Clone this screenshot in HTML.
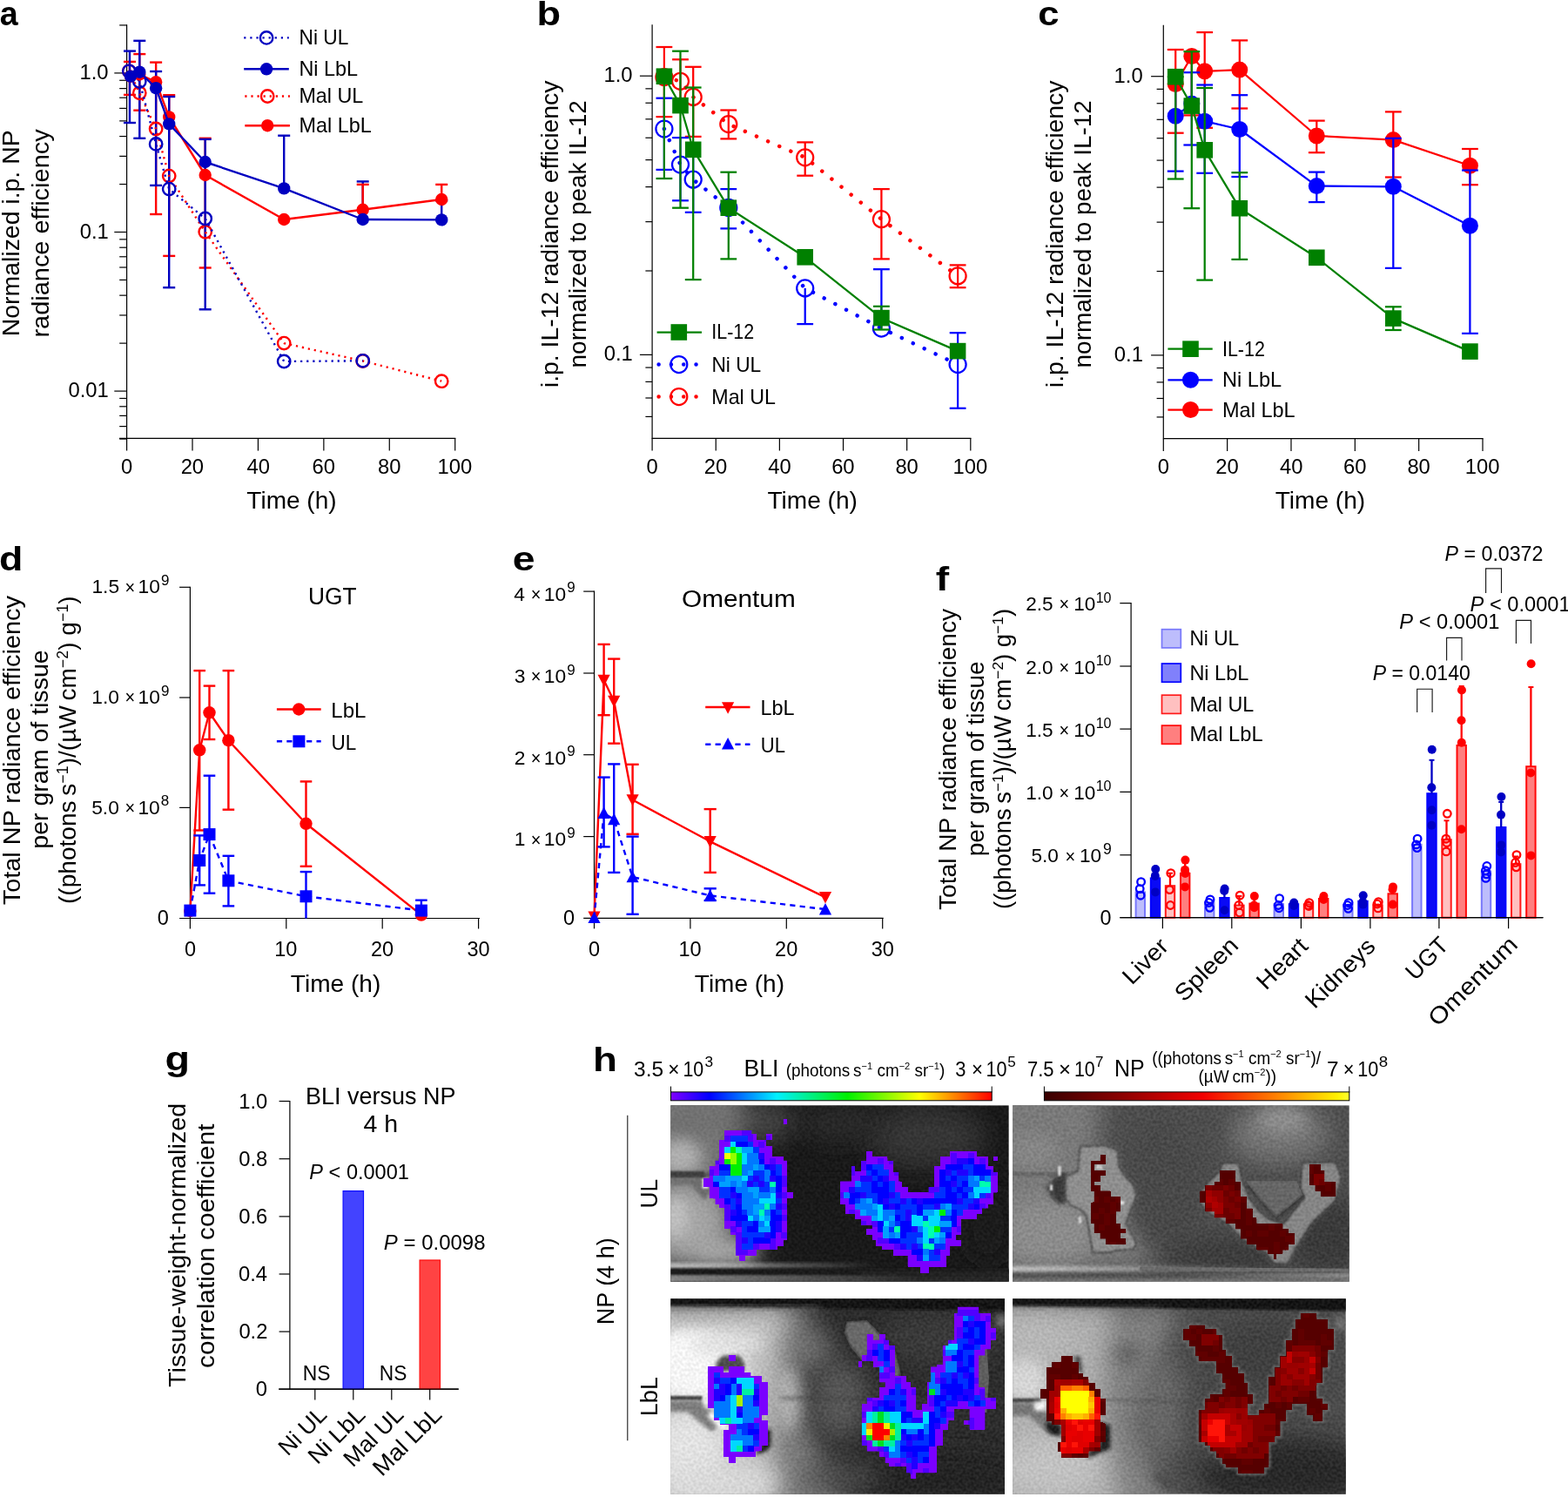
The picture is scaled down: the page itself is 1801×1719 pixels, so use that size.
<!DOCTYPE html>
<html lang="en">
<head>
<meta charset="utf-8">
<title>Figure</title>
<style>
html,body{margin:0;padding:0;background:#fff;}
svg{display:block;}
text{font-family:"Liberation Sans", sans-serif;fill:#000000;}
</style>
</head>
<body>
<svg xmlns="http://www.w3.org/2000/svg" width="1801" height="1719" viewBox="0 0 1801 1719">
<g id="p_abc">
<text x="-0.14" y="29.2" font-size="39" textLength="21.01" lengthAdjust="spacingAndGlyphs" font-weight="bold">a</text>
<line x1="145.6" y1="28.35" x2="145.6" y2="503.95" stroke="#000000" stroke-width="1.2"/>
<line x1="137.2" y1="504.07" x2="145.6" y2="504.07" stroke="#000000" stroke-width="1.2"/>
<line x1="137.2" y1="489.61" x2="145.6" y2="489.61" stroke="#000000" stroke-width="1.2"/>
<line x1="137.2" y1="477.39" x2="145.6" y2="477.39" stroke="#000000" stroke-width="1.2"/>
<line x1="137.2" y1="466.8" x2="145.6" y2="466.8" stroke="#000000" stroke-width="1.2"/>
<line x1="137.2" y1="457.46" x2="145.6" y2="457.46" stroke="#000000" stroke-width="1.2"/>
<line x1="131.3" y1="449.1" x2="145.6" y2="449.1" stroke="#000000" stroke-width="1.2"/>
<line x1="137.2" y1="394.13" x2="145.6" y2="394.13" stroke="#000000" stroke-width="1.2"/>
<line x1="137.2" y1="361.98" x2="145.6" y2="361.98" stroke="#000000" stroke-width="1.2"/>
<line x1="137.2" y1="339.16" x2="145.6" y2="339.16" stroke="#000000" stroke-width="1.2"/>
<line x1="137.2" y1="321.47" x2="145.6" y2="321.47" stroke="#000000" stroke-width="1.2"/>
<line x1="137.2" y1="307.01" x2="145.6" y2="307.01" stroke="#000000" stroke-width="1.2"/>
<line x1="137.2" y1="294.79" x2="145.6" y2="294.79" stroke="#000000" stroke-width="1.2"/>
<line x1="137.2" y1="284.2" x2="145.6" y2="284.2" stroke="#000000" stroke-width="1.2"/>
<line x1="137.2" y1="274.86" x2="145.6" y2="274.86" stroke="#000000" stroke-width="1.2"/>
<line x1="131.3" y1="266.5" x2="145.6" y2="266.5" stroke="#000000" stroke-width="1.2"/>
<line x1="137.2" y1="211.53" x2="145.6" y2="211.53" stroke="#000000" stroke-width="1.2"/>
<line x1="137.2" y1="179.38" x2="145.6" y2="179.38" stroke="#000000" stroke-width="1.2"/>
<line x1="137.2" y1="156.56" x2="145.6" y2="156.56" stroke="#000000" stroke-width="1.2"/>
<line x1="137.2" y1="138.87" x2="145.6" y2="138.87" stroke="#000000" stroke-width="1.2"/>
<line x1="137.2" y1="124.41" x2="145.6" y2="124.41" stroke="#000000" stroke-width="1.2"/>
<line x1="137.2" y1="112.19" x2="145.6" y2="112.19" stroke="#000000" stroke-width="1.2"/>
<line x1="137.2" y1="101.6" x2="145.6" y2="101.6" stroke="#000000" stroke-width="1.2"/>
<line x1="137.2" y1="92.26" x2="145.6" y2="92.26" stroke="#000000" stroke-width="1.2"/>
<line x1="131.3" y1="83.9" x2="145.6" y2="83.9" stroke="#000000" stroke-width="1.2"/>
<line x1="137.2" y1="28.93" x2="145.6" y2="28.93" stroke="#000000" stroke-width="1.2"/>
<line x1="137" y1="503.3" x2="523.35" y2="503.3" stroke="#000000" stroke-width="1.2"/>
<line x1="145.6" y1="503.3" x2="145.6" y2="517.6" stroke="#000000" stroke-width="1.2"/>
<text x="139" y="544" font-size="23.8">0</text>
<line x1="221.02" y1="503.3" x2="221.02" y2="517.6" stroke="#000000" stroke-width="1.2"/>
<text x="207.63" y="544" font-size="23.8">20</text>
<line x1="296.44" y1="503.3" x2="296.44" y2="517.6" stroke="#000000" stroke-width="1.2"/>
<text x="283.41" y="544" font-size="23.8">40</text>
<line x1="371.86" y1="503.3" x2="371.86" y2="517.6" stroke="#000000" stroke-width="1.2"/>
<text x="358.47" y="544" font-size="23.8">60</text>
<line x1="447.28" y1="503.3" x2="447.28" y2="517.6" stroke="#000000" stroke-width="1.2"/>
<text x="434.01" y="544" font-size="23.8">80</text>
<line x1="522.7" y1="503.3" x2="522.7" y2="517.6" stroke="#000000" stroke-width="1.2"/>
<text x="502.41" y="544" font-size="23.8">100</text>
<text x="91.45" y="91.2" font-size="23.8">1.0</text>
<text x="91.69" y="273.8" font-size="23.8">0.1</text>
<text x="78.48" y="456.4" font-size="23.8">0.01</text>
<text x="283.34" y="584.3" font-size="27.5" textLength="103.25" lengthAdjust="spacingAndGlyphs">Time (h)</text>
<text x="0" y="0" font-size="27.5" transform="translate(22.3 386.27) rotate(-90)" textLength="236.93" lengthAdjust="spacingAndGlyphs">Normalized i.p. NP</text>
<text x="0" y="0" font-size="27.5" transform="translate(56.2 387.58) rotate(-90)" textLength="239.26" lengthAdjust="spacingAndGlyphs">radiance efficiency</text>
<line x1="148.97" y1="70.9" x2="148.97" y2="108.9" stroke="#ff0000" stroke-width="2.4"/>
<line x1="141.97" y1="70.9" x2="155.97" y2="70.9" stroke="#ff0000" stroke-width="2.4"/>
<line x1="141.97" y1="108.9" x2="155.97" y2="108.9" stroke="#ff0000" stroke-width="2.4"/>
<line x1="160.28" y1="62.1" x2="160.28" y2="126.7" stroke="#ff0000" stroke-width="2.4"/>
<line x1="153.28" y1="62.1" x2="167.28" y2="62.1" stroke="#ff0000" stroke-width="2.4"/>
<line x1="153.28" y1="126.7" x2="167.28" y2="126.7" stroke="#ff0000" stroke-width="2.4"/>
<line x1="179.14" y1="71.6" x2="179.14" y2="246" stroke="#ff0000" stroke-width="2.4"/>
<line x1="172.14" y1="71.6" x2="186.14" y2="71.6" stroke="#ff0000" stroke-width="2.4"/>
<line x1="172.14" y1="246" x2="186.14" y2="246" stroke="#ff0000" stroke-width="2.4"/>
<line x1="194.22" y1="109.2" x2="194.22" y2="293.9" stroke="#ff0000" stroke-width="2.4"/>
<line x1="187.22" y1="109.2" x2="201.22" y2="109.2" stroke="#ff0000" stroke-width="2.4"/>
<line x1="187.22" y1="293.9" x2="201.22" y2="293.9" stroke="#ff0000" stroke-width="2.4"/>
<line x1="235.7" y1="158.8" x2="235.7" y2="307.5" stroke="#ff0000" stroke-width="2.4"/>
<line x1="228.7" y1="158.8" x2="242.7" y2="158.8" stroke="#ff0000" stroke-width="2.4"/>
<line x1="228.7" y1="307.5" x2="242.7" y2="307.5" stroke="#ff0000" stroke-width="2.4"/>
<line x1="148.97" y1="58.6" x2="148.97" y2="141" stroke="#0000c0" stroke-width="2.4"/>
<line x1="141.97" y1="58.6" x2="155.97" y2="58.6" stroke="#0000c0" stroke-width="2.4"/>
<line x1="141.97" y1="141" x2="155.97" y2="141" stroke="#0000c0" stroke-width="2.4"/>
<line x1="160.28" y1="46.8" x2="160.28" y2="158.8" stroke="#0000c0" stroke-width="2.4"/>
<line x1="153.28" y1="46.8" x2="167.28" y2="46.8" stroke="#0000c0" stroke-width="2.4"/>
<line x1="153.28" y1="158.8" x2="167.28" y2="158.8" stroke="#0000c0" stroke-width="2.4"/>
<line x1="179.14" y1="82" x2="179.14" y2="212.9" stroke="#0000c0" stroke-width="2.4"/>
<line x1="172.14" y1="82" x2="186.14" y2="82" stroke="#0000c0" stroke-width="2.4"/>
<line x1="172.14" y1="212.9" x2="186.14" y2="212.9" stroke="#0000c0" stroke-width="2.4"/>
<line x1="194.22" y1="111" x2="194.22" y2="330.2" stroke="#0000c0" stroke-width="2.4"/>
<line x1="187.22" y1="111" x2="201.22" y2="111" stroke="#0000c0" stroke-width="2.4"/>
<line x1="187.22" y1="330.2" x2="201.22" y2="330.2" stroke="#0000c0" stroke-width="2.4"/>
<line x1="235.7" y1="159.9" x2="235.7" y2="355.3" stroke="#0000c0" stroke-width="2.4"/>
<line x1="228.7" y1="159.9" x2="242.7" y2="159.9" stroke="#0000c0" stroke-width="2.4"/>
<line x1="228.7" y1="355.3" x2="242.7" y2="355.3" stroke="#0000c0" stroke-width="2.4"/>
<line x1="326.21" y1="155.7" x2="326.21" y2="216.4" stroke="#0000c0" stroke-width="2.4"/>
<line x1="319.21" y1="155.7" x2="333.21" y2="155.7" stroke="#0000c0" stroke-width="2.4"/>
<line x1="416.71" y1="208.4" x2="416.71" y2="252" stroke="#0000c0" stroke-width="2.4"/>
<line x1="409.71" y1="208.4" x2="423.71" y2="208.4" stroke="#0000c0" stroke-width="2.4"/>
<line x1="416.71" y1="211.9" x2="416.71" y2="240.8" stroke="#ff0000" stroke-width="2.4"/>
<line x1="409.71" y1="211.9" x2="423.71" y2="211.9" stroke="#ff0000" stroke-width="2.4"/>
<line x1="507.22" y1="211.9" x2="507.22" y2="229" stroke="#ff0000" stroke-width="2.4"/>
<line x1="500.22" y1="211.9" x2="514.22" y2="211.9" stroke="#ff0000" stroke-width="2.4"/>
<line x1="507.22" y1="230.4" x2="507.22" y2="252.4" stroke="#0000c0" stroke-width="2.4"/>
<line x1="500.22" y1="230.4" x2="514.22" y2="230.4" stroke="#0000c0" stroke-width="2.4"/>
<path d="M148.27 81.8 L160.28 106.8 L179.14 148 L194.22 202.1 L235.7 266.3 L326.21 394.1 L416.71 414.5 L507.22 437.7" stroke="#ff0000" stroke-width="2.4" fill="none" stroke-linejoin="round" stroke-dasharray="2.2 4.9" stroke-linecap="butt"/>
<circle cx="148.27" cy="81.8" r="7.2" fill="none" stroke="#ff0000" stroke-width="2.4"/>
<circle cx="160.28" cy="106.8" r="7.2" fill="none" stroke="#ff0000" stroke-width="2.4"/>
<circle cx="179.14" cy="148" r="7.2" fill="none" stroke="#ff0000" stroke-width="2.4"/>
<circle cx="194.22" cy="202.1" r="7.2" fill="none" stroke="#ff0000" stroke-width="2.4"/>
<circle cx="235.7" cy="266.3" r="7.2" fill="none" stroke="#ff0000" stroke-width="2.4"/>
<circle cx="326.21" cy="394.1" r="7.2" fill="none" stroke="#ff0000" stroke-width="2.4"/>
<circle cx="416.71" cy="414.5" r="7.2" fill="none" stroke="#ff0000" stroke-width="2.4"/>
<circle cx="507.22" cy="437.7" r="7.2" fill="none" stroke="#ff0000" stroke-width="2.4"/>
<path d="M148.27 81.8 L160.28 93.5 L179.14 165.4 L194.22 217.1 L235.7 251 L326.21 415 L416.71 414.3" stroke="#0000c0" stroke-width="2.4" fill="none" stroke-linejoin="round" stroke-dasharray="2.2 4.9" stroke-linecap="butt"/>
<circle cx="148.27" cy="81.8" r="7.2" fill="none" stroke="#0000c0" stroke-width="2.4"/>
<circle cx="160.28" cy="93.5" r="7.2" fill="none" stroke="#0000c0" stroke-width="2.4"/>
<circle cx="179.14" cy="165.4" r="7.2" fill="none" stroke="#0000c0" stroke-width="2.4"/>
<circle cx="194.22" cy="217.1" r="7.2" fill="none" stroke="#0000c0" stroke-width="2.4"/>
<circle cx="235.7" cy="251" r="7.2" fill="none" stroke="#0000c0" stroke-width="2.4"/>
<circle cx="326.21" cy="415" r="7.2" fill="none" stroke="#0000c0" stroke-width="2.4"/>
<circle cx="416.71" cy="414.3" r="7.2" fill="none" stroke="#0000c0" stroke-width="2.4"/>
<path d="M149.97 87.6 L160.28 85.5 L179.14 94.2 L194.22 134.4 L235.7 201 L326.21 252 L416.71 240.8 L507.22 229" stroke="#ff0000" stroke-width="2.4" fill="none" stroke-linejoin="round"/>
<circle cx="149.97" cy="87.6" r="7.2" fill="#ff0000"/>
<circle cx="160.28" cy="85.5" r="7.2" fill="#ff0000"/>
<circle cx="179.14" cy="94.2" r="7.2" fill="#ff0000"/>
<circle cx="194.22" cy="134.4" r="7.2" fill="#ff0000"/>
<circle cx="235.7" cy="201" r="7.2" fill="#ff0000"/>
<circle cx="326.21" cy="252" r="7.2" fill="#ff0000"/>
<circle cx="416.71" cy="240.8" r="7.2" fill="#ff0000"/>
<circle cx="507.22" cy="229" r="7.2" fill="#ff0000"/>
<path d="M149.97 87.6 L160.28 82.7 L179.14 101.2 L194.22 142.4 L235.7 186 L326.21 216.4 L416.71 252 L507.22 252.4" stroke="#0000c0" stroke-width="2.4" fill="none" stroke-linejoin="round"/>
<circle cx="149.97" cy="87.6" r="7.2" fill="#0000c0"/>
<circle cx="160.28" cy="82.7" r="7.2" fill="#0000c0"/>
<circle cx="179.14" cy="101.2" r="7.2" fill="#0000c0"/>
<circle cx="194.22" cy="142.4" r="7.2" fill="#0000c0"/>
<circle cx="235.7" cy="186" r="7.2" fill="#0000c0"/>
<circle cx="326.21" cy="216.4" r="7.2" fill="#0000c0"/>
<circle cx="416.71" cy="252" r="7.2" fill="#0000c0"/>
<circle cx="507.22" cy="252.4" r="7.2" fill="#0000c0"/>
<line x1="280.2" y1="43.4" x2="331.8" y2="43.4" stroke="#0000c0" stroke-width="2.4" stroke-dasharray="2.2 4.9"/>
<circle cx="306.1" cy="43.4" r="7.2" fill="none" stroke="#0000c0" stroke-width="2.4"/>
<text x="343.48" y="51" font-size="23.2" textLength="56.81" lengthAdjust="spacingAndGlyphs">Ni UL</text>
<line x1="280.2" y1="79.3" x2="331.8" y2="79.3" stroke="#0000c0" stroke-width="2.4"/>
<circle cx="306.1" cy="79.3" r="7.2" fill="#0000c0"/>
<text x="343.43" y="86.9" font-size="23.2" textLength="67.69" lengthAdjust="spacingAndGlyphs">Ni LbL</text>
<line x1="281.3" y1="110.5" x2="332.9" y2="110.5" stroke="#ff0000" stroke-width="2.4" stroke-dasharray="2.2 4.9"/>
<circle cx="307.2" cy="110.5" r="7.2" fill="none" stroke="#ff0000" stroke-width="2.4"/>
<text x="343.43" y="118.4" font-size="23.2" textLength="73.93" lengthAdjust="spacingAndGlyphs">Mal UL</text>
<line x1="281.3" y1="144.2" x2="332.9" y2="144.2" stroke="#ff0000" stroke-width="2.4"/>
<circle cx="307.2" cy="144.2" r="7.2" fill="#ff0000"/>
<text x="343.43" y="151.5" font-size="23.2" textLength="83.34" lengthAdjust="spacingAndGlyphs">Mal LbL</text>
<text x="616.47" y="29" font-size="38.5" textLength="27.58" lengthAdjust="spacingAndGlyphs" font-weight="bold">b</text>
<line x1="749.1" y1="28.35" x2="749.1" y2="503.95" stroke="#000000" stroke-width="1.2"/>
<line x1="741.4" y1="478.44" x2="749.1" y2="478.44" stroke="#000000" stroke-width="1.2"/>
<line x1="741.4" y1="457" x2="749.1" y2="457" stroke="#000000" stroke-width="1.2"/>
<line x1="741.4" y1="438.43" x2="749.1" y2="438.43" stroke="#000000" stroke-width="1.2"/>
<line x1="741.4" y1="422.05" x2="749.1" y2="422.05" stroke="#000000" stroke-width="1.2"/>
<line x1="734.9" y1="407.4" x2="749.1" y2="407.4" stroke="#000000" stroke-width="1.2"/>
<line x1="741.4" y1="311.01" x2="749.1" y2="311.01" stroke="#000000" stroke-width="1.2"/>
<line x1="741.4" y1="254.63" x2="749.1" y2="254.63" stroke="#000000" stroke-width="1.2"/>
<line x1="741.4" y1="214.62" x2="749.1" y2="214.62" stroke="#000000" stroke-width="1.2"/>
<line x1="741.4" y1="183.59" x2="749.1" y2="183.59" stroke="#000000" stroke-width="1.2"/>
<line x1="741.4" y1="158.24" x2="749.1" y2="158.24" stroke="#000000" stroke-width="1.2"/>
<line x1="741.4" y1="136.8" x2="749.1" y2="136.8" stroke="#000000" stroke-width="1.2"/>
<line x1="741.4" y1="118.23" x2="749.1" y2="118.23" stroke="#000000" stroke-width="1.2"/>
<line x1="741.4" y1="101.85" x2="749.1" y2="101.85" stroke="#000000" stroke-width="1.2"/>
<line x1="734.9" y1="87.2" x2="749.1" y2="87.2" stroke="#000000" stroke-width="1.2"/>
<line x1="749.1" y1="503.3" x2="1115.45" y2="503.3" stroke="#000000" stroke-width="1.2"/>
<line x1="749.1" y1="503.3" x2="749.1" y2="517.6" stroke="#000000" stroke-width="1.2"/>
<text x="742.5" y="544" font-size="23.8">0</text>
<line x1="822.24" y1="503.3" x2="822.24" y2="517.6" stroke="#000000" stroke-width="1.2"/>
<text x="808.85" y="544" font-size="23.8">20</text>
<line x1="895.38" y1="503.3" x2="895.38" y2="517.6" stroke="#000000" stroke-width="1.2"/>
<text x="882.35" y="544" font-size="23.8">40</text>
<line x1="968.52" y1="503.3" x2="968.52" y2="517.6" stroke="#000000" stroke-width="1.2"/>
<text x="955.13" y="544" font-size="23.8">60</text>
<line x1="1041.66" y1="503.3" x2="1041.66" y2="517.6" stroke="#000000" stroke-width="1.2"/>
<text x="1028.39" y="544" font-size="23.8">80</text>
<line x1="1114.8" y1="503.3" x2="1114.8" y2="517.6" stroke="#000000" stroke-width="1.2"/>
<text x="1094.51" y="544" font-size="23.8">100</text>
<text x="693.45" y="94.2" font-size="23.8">1.0</text>
<text x="693.69" y="414.4" font-size="23.8">0.1</text>
<text x="881.44" y="584.3" font-size="27.5" textLength="103.45" lengthAdjust="spacingAndGlyphs">Time (h)</text>
<text x="0" y="0" font-size="27.5" transform="translate(640.6 445.14) rotate(-90)" textLength="352.6" lengthAdjust="spacingAndGlyphs">i.p. IL-12 radiance efficiency</text>
<text x="0" y="0" font-size="27.5" transform="translate(673.4 422.41) rotate(-90)" textLength="307.32" lengthAdjust="spacingAndGlyphs">normalized to peak IL-12</text>
<line x1="762.9" y1="54" x2="762.9" y2="134.1" stroke="#ff0000" stroke-width="2.25"/>
<line x1="753.5" y1="54" x2="772.3" y2="54" stroke="#ff0000" stroke-width="2.25"/>
<line x1="753.5" y1="134.1" x2="772.3" y2="134.1" stroke="#ff0000" stroke-width="2.25"/>
<line x1="781.5" y1="68.3" x2="781.5" y2="120" stroke="#ff0000" stroke-width="2.25"/>
<line x1="772.1" y1="68.3" x2="790.9" y2="68.3" stroke="#ff0000" stroke-width="2.25"/>
<line x1="796.2" y1="76.8" x2="796.2" y2="156.9" stroke="#ff0000" stroke-width="2.25"/>
<line x1="786.8" y1="76.8" x2="805.6" y2="76.8" stroke="#ff0000" stroke-width="2.25"/>
<line x1="786.8" y1="156.9" x2="805.6" y2="156.9" stroke="#ff0000" stroke-width="2.25"/>
<line x1="836.8" y1="126.5" x2="836.8" y2="159.4" stroke="#ff0000" stroke-width="2.25"/>
<line x1="827.4" y1="126.5" x2="846.2" y2="126.5" stroke="#ff0000" stroke-width="2.25"/>
<line x1="827.4" y1="159.4" x2="846.2" y2="159.4" stroke="#ff0000" stroke-width="2.25"/>
<line x1="924.7" y1="163.4" x2="924.7" y2="201.7" stroke="#ff0000" stroke-width="2.25"/>
<line x1="915.3" y1="163.4" x2="934.1" y2="163.4" stroke="#ff0000" stroke-width="2.25"/>
<line x1="915.3" y1="201.7" x2="934.1" y2="201.7" stroke="#ff0000" stroke-width="2.25"/>
<line x1="1012.4" y1="217.1" x2="1012.4" y2="297.4" stroke="#ff0000" stroke-width="2.25"/>
<line x1="1003" y1="217.1" x2="1021.8" y2="217.1" stroke="#ff0000" stroke-width="2.25"/>
<line x1="1003" y1="297.4" x2="1021.8" y2="297.4" stroke="#ff0000" stroke-width="2.25"/>
<line x1="1100.1" y1="304.4" x2="1100.1" y2="330.2" stroke="#ff0000" stroke-width="2.25"/>
<line x1="1090.7" y1="304.4" x2="1109.5" y2="304.4" stroke="#ff0000" stroke-width="2.25"/>
<line x1="1090.7" y1="330.2" x2="1109.5" y2="330.2" stroke="#ff0000" stroke-width="2.25"/>
<path d="M762.9 88.6 L781.5 93.3 L796.2 111.4 L836.8 142.6 L924.7 180.8 L1012.4 251.7 L1100.1 316.9" stroke="#ff0000" stroke-width="4.5" fill="none" stroke-linejoin="round" stroke-dasharray="0.01 14.3" stroke-linecap="round"/>
<circle cx="762.9" cy="88.6" r="9.5" fill="none" stroke="#ff0000" stroke-width="2.25"/>
<circle cx="781.5" cy="93.3" r="9.5" fill="none" stroke="#ff0000" stroke-width="2.25"/>
<circle cx="796.2" cy="111.4" r="9.5" fill="none" stroke="#ff0000" stroke-width="2.25"/>
<circle cx="836.8" cy="142.6" r="9.5" fill="none" stroke="#ff0000" stroke-width="2.25"/>
<circle cx="924.7" cy="180.8" r="9.5" fill="none" stroke="#ff0000" stroke-width="2.25"/>
<circle cx="1012.4" cy="251.7" r="9.5" fill="none" stroke="#ff0000" stroke-width="2.25"/>
<circle cx="1100.1" cy="316.9" r="9.5" fill="none" stroke="#ff0000" stroke-width="2.25"/>
<line x1="762.9" y1="112.7" x2="762.9" y2="194.9" stroke="#0000ff" stroke-width="2.25"/>
<line x1="753.5" y1="112.7" x2="772.3" y2="112.7" stroke="#0000ff" stroke-width="2.25"/>
<line x1="753.5" y1="194.9" x2="772.3" y2="194.9" stroke="#0000ff" stroke-width="2.25"/>
<line x1="781.5" y1="158.1" x2="781.5" y2="230.3" stroke="#0000ff" stroke-width="2.25"/>
<line x1="772.1" y1="158.1" x2="790.9" y2="158.1" stroke="#0000ff" stroke-width="2.25"/>
<line x1="772.1" y1="230.3" x2="790.9" y2="230.3" stroke="#0000ff" stroke-width="2.25"/>
<line x1="796.2" y1="170" x2="796.2" y2="243.8" stroke="#0000ff" stroke-width="2.25"/>
<line x1="786.8" y1="243.8" x2="805.6" y2="243.8" stroke="#0000ff" stroke-width="2.25"/>
<line x1="836.8" y1="217.1" x2="836.8" y2="262.4" stroke="#0000ff" stroke-width="2.25"/>
<line x1="827.4" y1="217.1" x2="846.2" y2="217.1" stroke="#0000ff" stroke-width="2.25"/>
<line x1="827.4" y1="262.4" x2="846.2" y2="262.4" stroke="#0000ff" stroke-width="2.25"/>
<line x1="924.7" y1="330.9" x2="924.7" y2="372.1" stroke="#0000ff" stroke-width="2.25"/>
<line x1="915.3" y1="372.1" x2="934.1" y2="372.1" stroke="#0000ff" stroke-width="2.25"/>
<line x1="1012.4" y1="309.2" x2="1012.4" y2="377" stroke="#0000ff" stroke-width="2.25"/>
<line x1="1003" y1="309.2" x2="1021.8" y2="309.2" stroke="#0000ff" stroke-width="2.25"/>
<line x1="1100.1" y1="382.2" x2="1100.1" y2="468.8" stroke="#0000ff" stroke-width="2.25"/>
<line x1="1090.7" y1="382.2" x2="1109.5" y2="382.2" stroke="#0000ff" stroke-width="2.25"/>
<line x1="1090.7" y1="468.8" x2="1109.5" y2="468.8" stroke="#0000ff" stroke-width="2.25"/>
<path d="M762.9 148 L781.5 189 L796.2 206.2 L836.8 238.4 L924.7 330.9 L1012.4 377 L1100.1 418.5" stroke="#0000ff" stroke-width="4.5" fill="none" stroke-linejoin="round" stroke-dasharray="0.01 14.3" stroke-linecap="round"/>
<circle cx="762.9" cy="148" r="9.5" fill="none" stroke="#0000ff" stroke-width="2.25"/>
<circle cx="781.5" cy="189" r="9.5" fill="none" stroke="#0000ff" stroke-width="2.25"/>
<circle cx="796.2" cy="206.2" r="9.5" fill="none" stroke="#0000ff" stroke-width="2.25"/>
<circle cx="836.8" cy="238.4" r="9.5" fill="none" stroke="#0000ff" stroke-width="2.25"/>
<circle cx="924.7" cy="330.9" r="9.5" fill="none" stroke="#0000ff" stroke-width="2.25"/>
<circle cx="1012.4" cy="377" r="9.5" fill="none" stroke="#0000ff" stroke-width="2.25"/>
<circle cx="1100.1" cy="418.5" r="9.5" fill="none" stroke="#0000ff" stroke-width="2.25"/>
<line x1="762.9" y1="87.7" x2="762.9" y2="205" stroke="#008000" stroke-width="2.25"/>
<line x1="753.5" y1="87.7" x2="772.3" y2="87.7" stroke="#008000" stroke-width="2.25"/>
<line x1="753.5" y1="205" x2="772.3" y2="205" stroke="#008000" stroke-width="2.25"/>
<line x1="781.5" y1="58.7" x2="781.5" y2="238.7" stroke="#008000" stroke-width="2.25"/>
<line x1="772.1" y1="58.7" x2="790.9" y2="58.7" stroke="#008000" stroke-width="2.25"/>
<line x1="772.1" y1="238.7" x2="790.9" y2="238.7" stroke="#008000" stroke-width="2.25"/>
<line x1="796.2" y1="100.5" x2="796.2" y2="321.1" stroke="#008000" stroke-width="2.25"/>
<line x1="786.8" y1="100.5" x2="805.6" y2="100.5" stroke="#008000" stroke-width="2.25"/>
<line x1="786.8" y1="321.1" x2="805.6" y2="321.1" stroke="#008000" stroke-width="2.25"/>
<line x1="836.8" y1="197.7" x2="836.8" y2="297.4" stroke="#008000" stroke-width="2.25"/>
<line x1="827.4" y1="197.7" x2="846.2" y2="197.7" stroke="#008000" stroke-width="2.25"/>
<line x1="827.4" y1="297.4" x2="846.2" y2="297.4" stroke="#008000" stroke-width="2.25"/>
<line x1="1012.4" y1="351.8" x2="1012.4" y2="378.5" stroke="#008000" stroke-width="2.25"/>
<line x1="1003" y1="351.8" x2="1021.8" y2="351.8" stroke="#008000" stroke-width="2.25"/>
<line x1="1003" y1="378.5" x2="1021.8" y2="378.5" stroke="#008000" stroke-width="2.25"/>
<path d="M762.9 87.7 L781.5 121.1 L796.2 171.8 L836.8 238.7 L924.7 295.3 L1012.4 365.1 L1100.1 403.1" stroke="#008000" stroke-width="2.25" fill="none" stroke-linejoin="round"/>
<rect x="753.6" y="78.4" width="18.6" height="18.6" fill="#008000"/>
<rect x="772.2" y="111.8" width="18.6" height="18.6" fill="#008000"/>
<rect x="786.9" y="162.5" width="18.6" height="18.6" fill="#008000"/>
<rect x="827.5" y="229.4" width="18.6" height="18.6" fill="#008000"/>
<rect x="915.4" y="286" width="18.6" height="18.6" fill="#008000"/>
<rect x="1003.1" y="355.8" width="18.6" height="18.6" fill="#008000"/>
<rect x="1090.8" y="393.8" width="18.6" height="18.6" fill="#008000"/>
<line x1="754.6" y1="381.5" x2="806" y2="381.5" stroke="#008000" stroke-width="2.25"/>
<rect x="770.5" y="372.2" width="18.6" height="18.6" fill="#008000"/>
<text x="817.27" y="389.3" font-size="23.2" textLength="48.88" lengthAdjust="spacingAndGlyphs">IL-12</text>
<line x1="756.6" y1="418.5" x2="806" y2="418.5" stroke="#0000ff" stroke-width="4.5" stroke-dasharray="0.01 14.3" stroke-linecap="round"/>
<circle cx="779.8" cy="418.5" r="9.5" fill="none" stroke="#0000ff" stroke-width="2.25"/>
<text x="817.38" y="426.6" font-size="23.2" textLength="56.81" lengthAdjust="spacingAndGlyphs">Ni UL</text>
<line x1="756.6" y1="455.5" x2="806" y2="455.5" stroke="#ff0000" stroke-width="4.5" stroke-dasharray="0.01 14.3" stroke-linecap="round"/>
<circle cx="779.8" cy="455.5" r="9.5" fill="none" stroke="#ff0000" stroke-width="2.25"/>
<text x="817.34" y="463.6" font-size="23.2" textLength="73.62" lengthAdjust="spacingAndGlyphs">Mal UL</text>
<text x="1192.17" y="29" font-size="38.5" textLength="24.27" lengthAdjust="spacingAndGlyphs" font-weight="bold">c</text>
<line x1="1336.3" y1="28.85" x2="1336.3" y2="504.35" stroke="#000000" stroke-width="1.2"/>
<line x1="1328.6" y1="478.94" x2="1336.3" y2="478.94" stroke="#000000" stroke-width="1.2"/>
<line x1="1328.6" y1="457.5" x2="1336.3" y2="457.5" stroke="#000000" stroke-width="1.2"/>
<line x1="1328.6" y1="438.93" x2="1336.3" y2="438.93" stroke="#000000" stroke-width="1.2"/>
<line x1="1328.6" y1="422.55" x2="1336.3" y2="422.55" stroke="#000000" stroke-width="1.2"/>
<line x1="1322.1" y1="407.9" x2="1336.3" y2="407.9" stroke="#000000" stroke-width="1.2"/>
<line x1="1328.6" y1="311.51" x2="1336.3" y2="311.51" stroke="#000000" stroke-width="1.2"/>
<line x1="1328.6" y1="255.13" x2="1336.3" y2="255.13" stroke="#000000" stroke-width="1.2"/>
<line x1="1328.6" y1="215.12" x2="1336.3" y2="215.12" stroke="#000000" stroke-width="1.2"/>
<line x1="1328.6" y1="184.09" x2="1336.3" y2="184.09" stroke="#000000" stroke-width="1.2"/>
<line x1="1328.6" y1="158.74" x2="1336.3" y2="158.74" stroke="#000000" stroke-width="1.2"/>
<line x1="1328.6" y1="137.3" x2="1336.3" y2="137.3" stroke="#000000" stroke-width="1.2"/>
<line x1="1328.6" y1="118.73" x2="1336.3" y2="118.73" stroke="#000000" stroke-width="1.2"/>
<line x1="1328.6" y1="102.35" x2="1336.3" y2="102.35" stroke="#000000" stroke-width="1.2"/>
<line x1="1322.1" y1="87.7" x2="1336.3" y2="87.7" stroke="#000000" stroke-width="1.2"/>
<line x1="1336.3" y1="503.7" x2="1703.65" y2="503.7" stroke="#000000" stroke-width="1.2"/>
<line x1="1336.3" y1="503.7" x2="1336.3" y2="518" stroke="#000000" stroke-width="1.2"/>
<text x="1329.7" y="544" font-size="23.8">0</text>
<line x1="1409.64" y1="503.7" x2="1409.64" y2="518" stroke="#000000" stroke-width="1.2"/>
<text x="1396.25" y="544" font-size="23.8">20</text>
<line x1="1482.98" y1="503.7" x2="1482.98" y2="518" stroke="#000000" stroke-width="1.2"/>
<text x="1469.95" y="544" font-size="23.8">40</text>
<line x1="1556.32" y1="503.7" x2="1556.32" y2="518" stroke="#000000" stroke-width="1.2"/>
<text x="1542.93" y="544" font-size="23.8">60</text>
<line x1="1629.66" y1="503.7" x2="1629.66" y2="518" stroke="#000000" stroke-width="1.2"/>
<text x="1616.39" y="544" font-size="23.8">80</text>
<line x1="1703" y1="503.7" x2="1703" y2="518" stroke="#000000" stroke-width="1.2"/>
<text x="1682.71" y="544" font-size="23.8">100</text>
<text x="1279.55" y="94.7" font-size="23.8">1.0</text>
<text x="1279.79" y="414.9" font-size="23.8">0.1</text>
<text x="1464.74" y="584.3" font-size="27.5" textLength="103.45" lengthAdjust="spacingAndGlyphs">Time (h)</text>
<text x="0" y="0" font-size="27.5" transform="translate(1220.5 445.14) rotate(-90)" textLength="352.6" lengthAdjust="spacingAndGlyphs">i.p. IL-12 radiance efficiency</text>
<text x="0" y="0" font-size="27.5" transform="translate(1252.8 422.41) rotate(-90)" textLength="307.32" lengthAdjust="spacingAndGlyphs">normalized to peak IL-12</text>
<line x1="1350.2" y1="57" x2="1350.2" y2="152.7" stroke="#ff0000" stroke-width="2.25"/>
<line x1="1340.8" y1="57" x2="1359.6" y2="57" stroke="#ff0000" stroke-width="2.25"/>
<line x1="1340.8" y1="152.7" x2="1359.6" y2="152.7" stroke="#ff0000" stroke-width="2.25"/>
<line x1="1368.8" y1="64.5" x2="1368.8" y2="132.4" stroke="#ff0000" stroke-width="2.25"/>
<line x1="1359.4" y1="132.4" x2="1378.2" y2="132.4" stroke="#ff0000" stroke-width="2.25"/>
<line x1="1383.7" y1="37.1" x2="1383.7" y2="146.8" stroke="#ff0000" stroke-width="2.25"/>
<line x1="1374.3" y1="37.1" x2="1393.1" y2="37.1" stroke="#ff0000" stroke-width="2.25"/>
<line x1="1374.3" y1="146.8" x2="1393.1" y2="146.8" stroke="#ff0000" stroke-width="2.25"/>
<line x1="1423.8" y1="46.4" x2="1423.8" y2="124.5" stroke="#ff0000" stroke-width="2.25"/>
<line x1="1414.4" y1="46.4" x2="1433.2" y2="46.4" stroke="#ff0000" stroke-width="2.25"/>
<line x1="1414.4" y1="124.5" x2="1433.2" y2="124.5" stroke="#ff0000" stroke-width="2.25"/>
<line x1="1512.3" y1="138.6" x2="1512.3" y2="175.2" stroke="#ff0000" stroke-width="2.25"/>
<line x1="1502.9" y1="138.6" x2="1521.7" y2="138.6" stroke="#ff0000" stroke-width="2.25"/>
<line x1="1502.9" y1="175.2" x2="1521.7" y2="175.2" stroke="#ff0000" stroke-width="2.25"/>
<line x1="1600.3" y1="128.4" x2="1600.3" y2="203.5" stroke="#ff0000" stroke-width="2.25"/>
<line x1="1590.9" y1="128.4" x2="1609.7" y2="128.4" stroke="#ff0000" stroke-width="2.25"/>
<line x1="1590.9" y1="203.5" x2="1609.7" y2="203.5" stroke="#ff0000" stroke-width="2.25"/>
<line x1="1688.4" y1="171" x2="1688.4" y2="212.2" stroke="#ff0000" stroke-width="2.25"/>
<line x1="1679" y1="171" x2="1697.8" y2="171" stroke="#ff0000" stroke-width="2.25"/>
<line x1="1679" y1="212.2" x2="1697.8" y2="212.2" stroke="#ff0000" stroke-width="2.25"/>
<path d="M1350.2 96.5 L1368.8 64.5 L1383.7 81.8 L1423.8 80.1 L1512.3 156 L1600.3 160.6 L1688.4 190.2" stroke="#ff0000" stroke-width="2.25" fill="none" stroke-linejoin="round"/>
<circle cx="1350.2" cy="96.5" r="9.5" fill="#ff0000"/>
<circle cx="1368.8" cy="64.5" r="9.5" fill="#ff0000"/>
<circle cx="1383.7" cy="81.8" r="9.5" fill="#ff0000"/>
<circle cx="1423.8" cy="80.1" r="9.5" fill="#ff0000"/>
<circle cx="1512.3" cy="156" r="9.5" fill="#ff0000"/>
<circle cx="1600.3" cy="160.6" r="9.5" fill="#ff0000"/>
<circle cx="1688.4" cy="190.2" r="9.5" fill="#ff0000"/>
<line x1="1350.2" y1="90" x2="1350.2" y2="196.6" stroke="#0000ff" stroke-width="2.25"/>
<line x1="1340.8" y1="196.6" x2="1359.6" y2="196.6" stroke="#0000ff" stroke-width="2.25"/>
<line x1="1368.8" y1="83.2" x2="1368.8" y2="166.5" stroke="#0000ff" stroke-width="2.25"/>
<line x1="1359.4" y1="83.2" x2="1378.2" y2="83.2" stroke="#0000ff" stroke-width="2.25"/>
<line x1="1359.4" y1="166.5" x2="1378.2" y2="166.5" stroke="#0000ff" stroke-width="2.25"/>
<line x1="1383.7" y1="97.5" x2="1383.7" y2="198.8" stroke="#0000ff" stroke-width="2.25"/>
<line x1="1374.3" y1="97.5" x2="1393.1" y2="97.5" stroke="#0000ff" stroke-width="2.25"/>
<line x1="1374.3" y1="198.8" x2="1393.1" y2="198.8" stroke="#0000ff" stroke-width="2.25"/>
<line x1="1423.8" y1="109.2" x2="1423.8" y2="203" stroke="#0000ff" stroke-width="2.25"/>
<line x1="1414.4" y1="109.2" x2="1433.2" y2="109.2" stroke="#0000ff" stroke-width="2.25"/>
<line x1="1414.4" y1="203" x2="1433.2" y2="203" stroke="#0000ff" stroke-width="2.25"/>
<line x1="1512.3" y1="197.6" x2="1512.3" y2="232.1" stroke="#0000ff" stroke-width="2.25"/>
<line x1="1502.9" y1="197.6" x2="1521.7" y2="197.6" stroke="#0000ff" stroke-width="2.25"/>
<line x1="1502.9" y1="232.1" x2="1521.7" y2="232.1" stroke="#0000ff" stroke-width="2.25"/>
<line x1="1600.3" y1="158.8" x2="1600.3" y2="307.9" stroke="#0000ff" stroke-width="2.25"/>
<line x1="1590.9" y1="158.8" x2="1609.7" y2="158.8" stroke="#0000ff" stroke-width="2.25"/>
<line x1="1590.9" y1="307.9" x2="1609.7" y2="307.9" stroke="#0000ff" stroke-width="2.25"/>
<line x1="1688.4" y1="195.5" x2="1688.4" y2="382.9" stroke="#0000ff" stroke-width="2.25"/>
<line x1="1679" y1="195.5" x2="1697.8" y2="195.5" stroke="#0000ff" stroke-width="2.25"/>
<line x1="1679" y1="382.9" x2="1697.8" y2="382.9" stroke="#0000ff" stroke-width="2.25"/>
<path d="M1350.2 133.3 L1368.8 119.1 L1383.7 139.2 L1423.8 148.5 L1512.3 213.6 L1600.3 214.3 L1688.4 259.3" stroke="#0000ff" stroke-width="2.25" fill="none" stroke-linejoin="round"/>
<circle cx="1350.2" cy="133.3" r="9.5" fill="#0000ff"/>
<circle cx="1368.8" cy="119.1" r="9.5" fill="#0000ff"/>
<circle cx="1383.7" cy="139.2" r="9.5" fill="#0000ff"/>
<circle cx="1423.8" cy="148.5" r="9.5" fill="#0000ff"/>
<circle cx="1512.3" cy="213.6" r="9.5" fill="#0000ff"/>
<circle cx="1600.3" cy="214.3" r="9.5" fill="#0000ff"/>
<circle cx="1688.4" cy="259.3" r="9.5" fill="#0000ff"/>
<line x1="1350.2" y1="88.2" x2="1350.2" y2="205.5" stroke="#008000" stroke-width="2.25"/>
<line x1="1340.8" y1="88.2" x2="1359.6" y2="88.2" stroke="#008000" stroke-width="2.25"/>
<line x1="1340.8" y1="205.5" x2="1359.6" y2="205.5" stroke="#008000" stroke-width="2.25"/>
<line x1="1368.8" y1="59.2" x2="1368.8" y2="239.2" stroke="#008000" stroke-width="2.25"/>
<line x1="1359.4" y1="59.2" x2="1378.2" y2="59.2" stroke="#008000" stroke-width="2.25"/>
<line x1="1359.4" y1="239.2" x2="1378.2" y2="239.2" stroke="#008000" stroke-width="2.25"/>
<line x1="1383.7" y1="101" x2="1383.7" y2="321.6" stroke="#008000" stroke-width="2.25"/>
<line x1="1374.3" y1="101" x2="1393.1" y2="101" stroke="#008000" stroke-width="2.25"/>
<line x1="1374.3" y1="321.6" x2="1393.1" y2="321.6" stroke="#008000" stroke-width="2.25"/>
<line x1="1423.8" y1="198.2" x2="1423.8" y2="297.9" stroke="#008000" stroke-width="2.25"/>
<line x1="1414.4" y1="198.2" x2="1433.2" y2="198.2" stroke="#008000" stroke-width="2.25"/>
<line x1="1414.4" y1="297.9" x2="1433.2" y2="297.9" stroke="#008000" stroke-width="2.25"/>
<line x1="1600.3" y1="352.3" x2="1600.3" y2="379" stroke="#008000" stroke-width="2.25"/>
<line x1="1590.9" y1="352.3" x2="1609.7" y2="352.3" stroke="#008000" stroke-width="2.25"/>
<line x1="1590.9" y1="379" x2="1609.7" y2="379" stroke="#008000" stroke-width="2.25"/>
<path d="M1350.2 88.2 L1368.8 121.6 L1383.7 172.3 L1423.8 239.2 L1512.3 295.8 L1600.3 365.6 L1688.4 403.6" stroke="#008000" stroke-width="2.25" fill="none" stroke-linejoin="round"/>
<rect x="1340.9" y="78.9" width="18.6" height="18.6" fill="#008000"/>
<rect x="1359.5" y="112.3" width="18.6" height="18.6" fill="#008000"/>
<rect x="1374.4" y="163" width="18.6" height="18.6" fill="#008000"/>
<rect x="1414.5" y="229.9" width="18.6" height="18.6" fill="#008000"/>
<rect x="1503" y="286.5" width="18.6" height="18.6" fill="#008000"/>
<rect x="1591" y="356.3" width="18.6" height="18.6" fill="#008000"/>
<rect x="1679.1" y="394.3" width="18.6" height="18.6" fill="#008000"/>
<line x1="1341.4" y1="400.7" x2="1392.7" y2="400.7" stroke="#008000" stroke-width="2.25"/>
<rect x="1358.2" y="391.4" width="18.6" height="18.6" fill="#008000"/>
<text x="1403.97" y="408.5" font-size="23.2" textLength="48.88" lengthAdjust="spacingAndGlyphs">IL-12</text>
<line x1="1341.4" y1="436.3" x2="1392.7" y2="436.3" stroke="#0000ff" stroke-width="2.25"/>
<circle cx="1367.5" cy="436.3" r="9.5" fill="#0000ff"/>
<text x="1404.02" y="444.4" font-size="23.2" textLength="68.11" lengthAdjust="spacingAndGlyphs">Ni LbL</text>
<line x1="1341.4" y1="470.5" x2="1392.7" y2="470.5" stroke="#ff0000" stroke-width="2.25"/>
<circle cx="1367.5" cy="470.5" r="9.5" fill="#ff0000"/>
<text x="1404.02" y="478.9" font-size="23.2" textLength="83.65" lengthAdjust="spacingAndGlyphs">Mal LbL</text>
</g>
<g id="p_de">
<text x="-0.99" y="655.3" font-size="38.5" textLength="27.34" lengthAdjust="spacingAndGlyphs" font-weight="bold">d</text>
<line x1="218.4" y1="673.7" x2="218.4" y2="1055.1" stroke="#000000" stroke-width="1.2"/>
<line x1="206.1" y1="1054.5" x2="551" y2="1054.5" stroke="#000000" stroke-width="1.2"/>
<line x1="206.1" y1="927.4" x2="218.4" y2="927.4" stroke="#000000" stroke-width="1.2"/>
<line x1="206.1" y1="801" x2="218.4" y2="801" stroke="#000000" stroke-width="1.2"/>
<line x1="206.1" y1="674.3" x2="218.4" y2="674.3" stroke="#000000" stroke-width="1.2"/>
<line x1="218.4" y1="1054.5" x2="218.4" y2="1066.5" stroke="#000000" stroke-width="1.2"/>
<line x1="328.8" y1="1054.5" x2="328.8" y2="1066.5" stroke="#000000" stroke-width="1.2"/>
<line x1="439.2" y1="1054.5" x2="439.2" y2="1066.5" stroke="#000000" stroke-width="1.2"/>
<line x1="549.6" y1="1054.5" x2="549.6" y2="1066.5" stroke="#000000" stroke-width="1.2"/>
<text x="211.88" y="1097.5" font-size="23.5">0</text>
<text x="315.29" y="1097.5" font-size="23.5">10</text>
<text x="425.98" y="1097.5" font-size="23.5">20</text>
<text x="536.56" y="1097.5" font-size="23.5">30</text>
<text font-size="22.8"><tspan x="105.42" y="681.2" font-size="22.8">1.5</tspan><tspan x="143.59" y="681.5" font-size="22.8" textLength="11.68" lengthAdjust="spacingAndGlyphs">×</tspan><tspan x="158.58" y="681.2" font-size="22.8">10</tspan><tspan x="184.93" y="671.7" font-size="17">9</tspan></text>
<text font-size="22.8"><tspan x="105.3" y="808" font-size="22.8">1.0</tspan><tspan x="143.59" y="808.3" font-size="22.8" textLength="11.68" lengthAdjust="spacingAndGlyphs">×</tspan><tspan x="158.58" y="808" font-size="22.8">10</tspan><tspan x="184.93" y="798.5" font-size="17">9</tspan></text>
<text font-size="22.8"><tspan x="105.13" y="934.5" font-size="22.8">5.0</tspan><tspan x="143.42" y="934.8" font-size="22.8" textLength="11.68" lengthAdjust="spacingAndGlyphs">×</tspan><tspan x="158.41" y="934.5" font-size="22.8">10</tspan><tspan x="184.84" y="925" font-size="17">8</tspan></text>
<text x="180.78" y="1062.1" font-size="23.5">0</text>
<text x="333.84" y="1138.6" font-size="27.5" textLength="103.45" lengthAdjust="spacingAndGlyphs">Time (h)</text>
<text x="354.03" y="693.5" font-size="27" textLength="55.52" lengthAdjust="spacingAndGlyphs">UGT</text>
<text x="0" y="0" font-size="27.5" transform="translate(22.7 1039.18) rotate(-90)" textLength="355.03" lengthAdjust="spacingAndGlyphs">Total NP radiance efficiency</text>
<text x="0" y="0" font-size="27.5" transform="translate(55.1 974.71) rotate(-90)" textLength="228.36" lengthAdjust="spacingAndGlyphs">per gram of tissue</text>
<text x="0" y="0" font-size="27.5" transform="translate(87.3 1037.98) rotate(-90)" textLength="353.71" lengthAdjust="spacingAndGlyphs" xml:space="preserve">((photons s<tspan font-size="17.5" dy="-9.5">−1</tspan><tspan dy="9.5">)/(µW cm</tspan><tspan font-size="17.5" dy="-9.5">−2</tspan><tspan dy="9.5">) g</tspan><tspan font-size="17.5" dy="-9.5">−1</tspan><tspan dy="9.5">)</tspan></text>
<line x1="229.2" y1="770.1" x2="229.2" y2="953.5" stroke="#ff0000" stroke-width="2.4"/>
<line x1="222.4" y1="770.1" x2="236" y2="770.1" stroke="#ff0000" stroke-width="2.4"/>
<line x1="222.4" y1="953.5" x2="236" y2="953.5" stroke="#ff0000" stroke-width="2.4"/>
<line x1="240.5" y1="787.6" x2="240.5" y2="849" stroke="#ff0000" stroke-width="2.4"/>
<line x1="233.7" y1="787.6" x2="247.3" y2="787.6" stroke="#ff0000" stroke-width="2.4"/>
<line x1="233.7" y1="849" x2="247.3" y2="849" stroke="#ff0000" stroke-width="2.4"/>
<line x1="262.4" y1="770.1" x2="262.4" y2="929.7" stroke="#ff0000" stroke-width="2.4"/>
<line x1="255.6" y1="770.1" x2="269.2" y2="770.1" stroke="#ff0000" stroke-width="2.4"/>
<line x1="255.6" y1="929.7" x2="269.2" y2="929.7" stroke="#ff0000" stroke-width="2.4"/>
<line x1="351.5" y1="897.4" x2="351.5" y2="994.8" stroke="#ff0000" stroke-width="2.4"/>
<line x1="344.7" y1="897.4" x2="358.3" y2="897.4" stroke="#ff0000" stroke-width="2.4"/>
<line x1="344.7" y1="994.8" x2="358.3" y2="994.8" stroke="#ff0000" stroke-width="2.4"/>
<path d="M218.4 1046 L229.2 861.3 L240.5 818.3 L262.4 850.2 L351.5 945.8 L483.9 1050.6" stroke="#ff0000" stroke-width="2.4" fill="none" stroke-linejoin="round"/>
<circle cx="218.4" cy="1046" r="7.2" fill="#ff0000"/>
<circle cx="229.2" cy="861.3" r="7.2" fill="#ff0000"/>
<circle cx="240.5" cy="818.3" r="7.2" fill="#ff0000"/>
<circle cx="262.4" cy="850.2" r="7.2" fill="#ff0000"/>
<circle cx="351.5" cy="945.8" r="7.2" fill="#ff0000"/>
<circle cx="483.9" cy="1050.6" r="7.2" fill="#ff0000"/>
<line x1="229.2" y1="959.4" x2="229.2" y2="1016.4" stroke="#0000ff" stroke-width="2.4"/>
<line x1="222.4" y1="959.4" x2="236" y2="959.4" stroke="#0000ff" stroke-width="2.4"/>
<line x1="222.4" y1="1016.4" x2="236" y2="1016.4" stroke="#0000ff" stroke-width="2.4"/>
<line x1="240.5" y1="890.7" x2="240.5" y2="1025.7" stroke="#0000ff" stroke-width="2.4"/>
<line x1="233.7" y1="890.7" x2="247.3" y2="890.7" stroke="#0000ff" stroke-width="2.4"/>
<line x1="233.7" y1="1025.7" x2="247.3" y2="1025.7" stroke="#0000ff" stroke-width="2.4"/>
<line x1="262.4" y1="982.8" x2="262.4" y2="1040.4" stroke="#0000ff" stroke-width="2.4"/>
<line x1="255.6" y1="982.8" x2="269.2" y2="982.8" stroke="#0000ff" stroke-width="2.4"/>
<line x1="255.6" y1="1040.4" x2="269.2" y2="1040.4" stroke="#0000ff" stroke-width="2.4"/>
<line x1="351.5" y1="1001.1" x2="351.5" y2="1054.5" stroke="#0000ff" stroke-width="2.4"/>
<line x1="344.7" y1="1001.1" x2="358.3" y2="1001.1" stroke="#0000ff" stroke-width="2.4"/>
<line x1="483.9" y1="1033.7" x2="483.9" y2="1045.6" stroke="#0000ff" stroke-width="2.4"/>
<line x1="477.1" y1="1033.7" x2="490.7" y2="1033.7" stroke="#0000ff" stroke-width="2.4"/>
<path d="M218.4 1045.6 L229.2 988 L240.5 958.1 L262.4 1011.3 L351.5 1029.3 L483.9 1045.6" stroke="#0000ff" stroke-width="2.4" fill="none" stroke-linejoin="round" stroke-dasharray="6.2 5.2" stroke-linecap="butt"/>
<rect x="211.4" y="1038.6" width="14" height="14" fill="#0000ff"/>
<rect x="222.2" y="981" width="14" height="14" fill="#0000ff"/>
<rect x="233.5" y="951.1" width="14" height="14" fill="#0000ff"/>
<rect x="255.4" y="1004.3" width="14" height="14" fill="#0000ff"/>
<rect x="344.5" y="1022.3" width="14" height="14" fill="#0000ff"/>
<rect x="476.9" y="1038.6" width="14" height="14" fill="#0000ff"/>
<line x1="317.9" y1="814.5" x2="368.7" y2="814.5" stroke="#ff0000" stroke-width="2.4"/>
<circle cx="343.2" cy="814.5" r="7.2" fill="#ff0000"/>
<text x="380.28" y="823.8" font-size="23.2" textLength="40.13" lengthAdjust="spacingAndGlyphs">LbL</text>
<line x1="317.9" y1="851.3" x2="368.7" y2="851.3" stroke="#0000ff" stroke-width="2.4" stroke-dasharray="6.2 5.2"/>
<rect x="336.4" y="844.3" width="14" height="14" fill="#0000ff"/>
<text x="380.51" y="860.5" font-size="23.2" textLength="28.74" lengthAdjust="spacingAndGlyphs">UL</text>
<text x="588.78" y="655.3" font-size="38.5" textLength="25.77" lengthAdjust="spacingAndGlyphs" font-weight="bold">e</text>
<line x1="682.5" y1="678.5" x2="682.5" y2="1055" stroke="#000000" stroke-width="1.2"/>
<line x1="670.2" y1="1054.4" x2="1014.7" y2="1054.4" stroke="#000000" stroke-width="1.2"/>
<line x1="670.2" y1="960.6" x2="682.5" y2="960.6" stroke="#000000" stroke-width="1.2"/>
<line x1="670.2" y1="866.7" x2="682.5" y2="866.7" stroke="#000000" stroke-width="1.2"/>
<line x1="670.2" y1="773" x2="682.5" y2="773" stroke="#000000" stroke-width="1.2"/>
<line x1="670.2" y1="679.1" x2="682.5" y2="679.1" stroke="#000000" stroke-width="1.2"/>
<line x1="682.5" y1="1054.4" x2="682.5" y2="1066.4" stroke="#000000" stroke-width="1.2"/>
<line x1="792.9" y1="1054.4" x2="792.9" y2="1066.4" stroke="#000000" stroke-width="1.2"/>
<line x1="903.3" y1="1054.4" x2="903.3" y2="1066.4" stroke="#000000" stroke-width="1.2"/>
<line x1="1013.7" y1="1054.4" x2="1013.7" y2="1066.4" stroke="#000000" stroke-width="1.2"/>
<text x="675.98" y="1097.5" font-size="23.5">0</text>
<text x="779.39" y="1097.5" font-size="23.5">10</text>
<text x="890.08" y="1097.5" font-size="23.5">20</text>
<text x="1000.66" y="1097.5" font-size="23.5">30</text>
<text font-size="22.8"><tspan x="590.31" y="689.8" font-size="22.8">4</tspan><tspan x="609.8" y="690.1" font-size="22.8" textLength="11.68" lengthAdjust="spacingAndGlyphs">×</tspan><tspan x="624.78" y="689.8" font-size="22.8">10</tspan><tspan x="651.13" y="680.3" font-size="17">9</tspan></text>
<text font-size="22.8"><tspan x="590.65" y="784" font-size="22.8">3</tspan><tspan x="609.8" y="784.3" font-size="22.8" textLength="11.68" lengthAdjust="spacingAndGlyphs">×</tspan><tspan x="624.78" y="784" font-size="22.8">10</tspan><tspan x="651.13" y="774.5" font-size="17">9</tspan></text>
<text font-size="22.8"><tspan x="590.77" y="877.6" font-size="22.8">2</tspan><tspan x="609.8" y="877.9" font-size="22.8" textLength="11.68" lengthAdjust="spacingAndGlyphs">×</tspan><tspan x="624.78" y="877.6" font-size="22.8">10</tspan><tspan x="651.13" y="868.1" font-size="17">9</tspan></text>
<text font-size="22.8"><tspan x="590.77" y="971.3" font-size="22.8">1</tspan><tspan x="609.8" y="971.6" font-size="22.8" textLength="11.68" lengthAdjust="spacingAndGlyphs">×</tspan><tspan x="624.78" y="971.3" font-size="22.8">10</tspan><tspan x="651.13" y="961.8" font-size="17">9</tspan></text>
<text x="647.08" y="1062.1" font-size="23.5">0</text>
<text x="797.84" y="1138.6" font-size="27.5" textLength="103.15" lengthAdjust="spacingAndGlyphs">Time (h)</text>
<text x="783.06" y="697" font-size="27" textLength="130.68" lengthAdjust="spacingAndGlyphs">Omentum</text>
<line x1="693.6" y1="739.9" x2="693.6" y2="821.2" stroke="#ff0000" stroke-width="2.4"/>
<line x1="686.5" y1="739.9" x2="700.7" y2="739.9" stroke="#ff0000" stroke-width="2.4"/>
<line x1="686.5" y1="821.2" x2="700.7" y2="821.2" stroke="#ff0000" stroke-width="2.4"/>
<line x1="705.2" y1="756.6" x2="705.2" y2="853.7" stroke="#ff0000" stroke-width="2.4"/>
<line x1="698.1" y1="756.6" x2="712.3" y2="756.6" stroke="#ff0000" stroke-width="2.4"/>
<line x1="698.1" y1="853.7" x2="712.3" y2="853.7" stroke="#ff0000" stroke-width="2.4"/>
<line x1="726.6" y1="877.8" x2="726.6" y2="957.8" stroke="#ff0000" stroke-width="2.4"/>
<line x1="719.5" y1="877.8" x2="733.7" y2="877.8" stroke="#ff0000" stroke-width="2.4"/>
<line x1="719.5" y1="957.8" x2="733.7" y2="957.8" stroke="#ff0000" stroke-width="2.4"/>
<line x1="815.7" y1="929.1" x2="815.7" y2="1001.9" stroke="#ff0000" stroke-width="2.4"/>
<line x1="808.6" y1="929.1" x2="822.8" y2="929.1" stroke="#ff0000" stroke-width="2.4"/>
<line x1="808.6" y1="1001.9" x2="822.8" y2="1001.9" stroke="#ff0000" stroke-width="2.4"/>
<path d="M682.5 1052.8 L693.6 781.1 L705.2 805.1 L726.6 918.5 L815.7 966.3 L948 1030.4" stroke="#ff0000" stroke-width="2.4" fill="none" stroke-linejoin="round"/>
<polygon points="682.5,1059.9 689.6,1046.5 675.4,1046.5" fill="#ff0000"/>
<polygon points="693.6,788.2 700.7,774.8 686.5,774.8" fill="#ff0000"/>
<polygon points="705.2,812.2 712.3,798.8 698.1,798.8" fill="#ff0000"/>
<polygon points="726.6,925.6 733.7,912.2 719.5,912.2" fill="#ff0000"/>
<polygon points="815.7,973.4 822.8,960 808.6,960" fill="#ff0000"/>
<polygon points="948,1037.5 955.1,1024.1 940.9,1024.1" fill="#ff0000"/>
<line x1="693.6" y1="892.6" x2="693.6" y2="972.4" stroke="#0000ff" stroke-width="2.4"/>
<line x1="686.5" y1="892.6" x2="700.7" y2="892.6" stroke="#0000ff" stroke-width="2.4"/>
<line x1="686.5" y1="972.4" x2="700.7" y2="972.4" stroke="#0000ff" stroke-width="2.4"/>
<line x1="705.2" y1="877.4" x2="705.2" y2="1001.9" stroke="#0000ff" stroke-width="2.4"/>
<line x1="698.1" y1="877.4" x2="712.3" y2="877.4" stroke="#0000ff" stroke-width="2.4"/>
<line x1="698.1" y1="1001.9" x2="712.3" y2="1001.9" stroke="#0000ff" stroke-width="2.4"/>
<line x1="726.6" y1="960.6" x2="726.6" y2="1049.8" stroke="#0000ff" stroke-width="2.4"/>
<line x1="719.5" y1="960.6" x2="733.7" y2="960.6" stroke="#0000ff" stroke-width="2.4"/>
<line x1="719.5" y1="1049.8" x2="733.7" y2="1049.8" stroke="#0000ff" stroke-width="2.4"/>
<line x1="815.7" y1="1020.3" x2="815.7" y2="1034" stroke="#0000ff" stroke-width="2.4"/>
<line x1="808.6" y1="1020.3" x2="822.8" y2="1020.3" stroke="#0000ff" stroke-width="2.4"/>
<line x1="808.6" y1="1034" x2="822.8" y2="1034" stroke="#0000ff" stroke-width="2.4"/>
<path d="M682.5 1053.8 L693.6 933.7 L705.2 940.9 L726.6 1007 L815.7 1028.4 L948 1044.1" stroke="#0000ff" stroke-width="2.4" fill="none" stroke-linejoin="round" stroke-dasharray="6.2 5.2" stroke-linecap="butt"/>
<polygon points="682.5,1046.7 689.6,1060.1 675.4,1060.1" fill="#0000ff"/>
<polygon points="693.6,926.6 700.7,940 686.5,940" fill="#0000ff"/>
<polygon points="705.2,933.8 712.3,947.2 698.1,947.2" fill="#0000ff"/>
<polygon points="726.6,999.9 733.7,1013.3 719.5,1013.3" fill="#0000ff"/>
<polygon points="815.7,1021.3 822.8,1034.7 808.6,1034.7" fill="#0000ff"/>
<polygon points="948,1037 955.1,1050.4 940.9,1050.4" fill="#0000ff"/>
<line x1="810.2" y1="812" x2="861.5" y2="812" stroke="#ff0000" stroke-width="2.4"/>
<polygon points="836.1,819.7 843.2,806.3 829,806.3" fill="#ff0000"/>
<text x="873.53" y="820.8" font-size="23.2" textLength="39.06" lengthAdjust="spacingAndGlyphs">LbL</text>
<line x1="810.2" y1="854.8" x2="861.5" y2="854.8" stroke="#0000ff" stroke-width="2.4" stroke-dasharray="6.2 5.2"/>
<polygon points="836.1,847.1 843.2,860.5 829,860.5" fill="#0000ff"/>
<text x="873.75" y="863.5" font-size="23.2" textLength="28.19" lengthAdjust="spacingAndGlyphs">UL</text>
</g>
<g id="p_f">
<text x="1074.81" y="677.6" font-size="38.5" textLength="15.4" lengthAdjust="spacingAndGlyphs" font-weight="bold">f</text>
<line x1="1299.1" y1="692" x2="1299.1" y2="1054.3" stroke="#000000" stroke-width="1.2"/>
<line x1="1286.3" y1="1053.7" x2="1772.4" y2="1053.7" stroke="#000000" stroke-width="1.2"/>
<line x1="1286.3" y1="692.6" x2="1299.1" y2="692.6" stroke="#000000" stroke-width="1.2"/>
<line x1="1286.3" y1="765" x2="1299.1" y2="765" stroke="#000000" stroke-width="1.2"/>
<line x1="1286.3" y1="837.1" x2="1299.1" y2="837.1" stroke="#000000" stroke-width="1.2"/>
<line x1="1286.3" y1="909.4" x2="1299.1" y2="909.4" stroke="#000000" stroke-width="1.2"/>
<line x1="1286.3" y1="981.8" x2="1299.1" y2="981.8" stroke="#000000" stroke-width="1.2"/>
<text font-size="22.6"><tspan x="1178.29" y="701.1" font-size="22.6">2.5</tspan><tspan x="1216.5" y="701.4" font-size="22.6" textLength="11.68" lengthAdjust="spacingAndGlyphs">×</tspan><tspan x="1233.31" y="701.1" font-size="22.6">10</tspan><tspan x="1258.7" y="691.5" font-size="16">10</tspan></text>
<text font-size="22.6"><tspan x="1178.18" y="773.5" font-size="22.6">2.0</tspan><tspan x="1216.5" y="773.8" font-size="22.6" textLength="11.68" lengthAdjust="spacingAndGlyphs">×</tspan><tspan x="1233.31" y="773.5" font-size="22.6">10</tspan><tspan x="1258.7" y="763.9" font-size="16">10</tspan></text>
<text font-size="22.6"><tspan x="1178.29" y="845.6" font-size="22.6">1.5</tspan><tspan x="1216.5" y="845.9" font-size="22.6" textLength="11.68" lengthAdjust="spacingAndGlyphs">×</tspan><tspan x="1233.31" y="845.6" font-size="22.6">10</tspan><tspan x="1258.7" y="836" font-size="16">10</tspan></text>
<text font-size="22.6"><tspan x="1178.18" y="917.9" font-size="22.6">1.0</tspan><tspan x="1216.5" y="918.2" font-size="22.6" textLength="11.68" lengthAdjust="spacingAndGlyphs">×</tspan><tspan x="1233.31" y="917.9" font-size="22.6">10</tspan><tspan x="1258.7" y="908.3" font-size="16">10</tspan></text>
<text font-size="22.6"><tspan x="1184.49" y="990.3" font-size="22.6">5.0</tspan><tspan x="1223.62" y="990.6" font-size="22.6" textLength="11.68" lengthAdjust="spacingAndGlyphs">×</tspan><tspan x="1240.02" y="990.3" font-size="22.6">10</tspan><tspan x="1266.92" y="980.7" font-size="17.6">9</tspan></text>
<text x="1263.48" y="1061.6" font-size="23.3">0</text>
<text x="0" y="0" font-size="27" transform="translate(1097.6 1045.06) rotate(-90)" textLength="346.22" lengthAdjust="spacingAndGlyphs">Total NP radiance efficiency</text>
<text x="0" y="0" font-size="27" transform="translate(1129.6 983.18) rotate(-90)" textLength="223.8" lengthAdjust="spacingAndGlyphs">per gram of tissue</text>
<text x="0" y="0" font-size="27" transform="translate(1161 1043.94) rotate(-90)" textLength="345.03" lengthAdjust="spacingAndGlyphs" xml:space="preserve">((photons s<tspan font-size="17.2" dy="-9.3">−1</tspan><tspan dy="9.3">)/(µW cm</tspan><tspan font-size="17.2" dy="-9.3">−2</tspan><tspan dy="9.3">) g</tspan><tspan font-size="17.2" dy="-9.3">−1</tspan><tspan dy="9.3">)</tspan></text>
<line x1="1335.4" y1="1053.7" x2="1335.4" y2="1066.3" stroke="#000000" stroke-width="1.2"/>
<text x="-61.35" y="0" font-size="27" transform="translate(1343.4 1088.58) rotate(-45)" textLength="61.71" lengthAdjust="spacingAndGlyphs">Liver</text>
<line x1="1414.8" y1="1053.7" x2="1414.8" y2="1066.3" stroke="#000000" stroke-width="1.2"/>
<text x="-88.96" y="0" font-size="27" transform="translate(1422.8 1088.58) rotate(-45)" textLength="90.68" lengthAdjust="spacingAndGlyphs">Spleen</text>
<line x1="1494.4" y1="1053.7" x2="1494.4" y2="1066.3" stroke="#000000" stroke-width="1.2"/>
<text x="-70.56" y="0" font-size="27" transform="translate(1503.9 1088.13) rotate(-45)" textLength="70.57" lengthAdjust="spacingAndGlyphs">Heart</text>
<line x1="1573.9" y1="1053.7" x2="1573.9" y2="1066.3" stroke="#000000" stroke-width="1.2"/>
<text x="-99.9" y="0" font-size="27" transform="translate(1580.7 1088.94) rotate(-45)" textLength="100.83" lengthAdjust="spacingAndGlyphs">Kidneys</text>
<line x1="1652.9" y1="1053.7" x2="1652.9" y2="1066.3" stroke="#000000" stroke-width="1.2"/>
<text x="-55.97" y="0" font-size="27" transform="translate(1664.9 1087.38) rotate(-45)" textLength="56.53" lengthAdjust="spacingAndGlyphs">UGT</text>
<line x1="1732.6" y1="1053.7" x2="1732.6" y2="1066.3" stroke="#000000" stroke-width="1.2"/>
<text x="-130.44" y="0" font-size="27" transform="translate(1743.4 1087.74) rotate(-45)" textLength="132.41" lengthAdjust="spacingAndGlyphs">Omentum</text>
<rect x="1304.6" y="1024.5" width="10.4" height="29.2" fill="#bdbdfc" stroke="#7878fa" stroke-width="2"/>
<circle cx="1310.6" cy="1012.7" r="4.3" fill="none" stroke="#0000ff" stroke-width="2.3"/>
<circle cx="1309.2" cy="1020.6" r="4.3" fill="none" stroke="#0000ff" stroke-width="2.3"/>
<circle cx="1310.1" cy="1028.2" r="4.3" fill="none" stroke="#0000ff" stroke-width="2.3"/>
<rect x="1321.8" y="1008.4" width="10.4" height="45.3" fill="#0a0af5" stroke="#0000ff" stroke-width="2"/>
<line x1="1327" y1="998.5" x2="1327" y2="1008.4" stroke="#0000c4" stroke-width="2.3"/>
<line x1="1324" y1="998.5" x2="1330" y2="998.5" stroke="#0000c4" stroke-width="2"/>
<circle cx="1327.24" cy="998" r="5" fill="#0000c4"/>
<circle cx="1326.82" cy="1005.9" r="5" fill="#0000c4"/>
<circle cx="1327.09" cy="1024.4" r="5" fill="#0000c4"/>
<rect x="1338.8" y="1017.2" width="10.4" height="36.5" fill="#ffc0c0" stroke="#ff1a1a" stroke-width="2"/>
<line x1="1344" y1="1002.7" x2="1344" y2="1017.2" stroke="#ff0000" stroke-width="2.3"/>
<line x1="1341" y1="1002.7" x2="1347" y2="1002.7" stroke="#ff0000" stroke-width="2"/>
<circle cx="1344.8" cy="1002.7" r="4.3" fill="none" stroke="#ff0000" stroke-width="2.3"/>
<circle cx="1343.4" cy="1021.6" r="4.3" fill="none" stroke="#ff0000" stroke-width="2.3"/>
<circle cx="1344.3" cy="1039.5" r="4.3" fill="none" stroke="#ff0000" stroke-width="2.3"/>
<rect x="1356" y="1002.8" width="10.4" height="50.9" fill="#ff7f7f" stroke="#ff0808" stroke-width="2"/>
<line x1="1361.2" y1="990" x2="1361.2" y2="1002.8" stroke="#ff0000" stroke-width="2.3"/>
<line x1="1358.2" y1="990" x2="1364.2" y2="990" stroke="#ff0000" stroke-width="2"/>
<circle cx="1361.44" cy="987.6" r="5" fill="#ff0000"/>
<circle cx="1361.02" cy="998.9" r="5" fill="#ff0000"/>
<circle cx="1361.29" cy="1003" r="5" fill="#ff0000"/>
<circle cx="1361.08" cy="1018.4" r="5" fill="#ff0000"/>
<rect x="1384" y="1036.3" width="10.4" height="17.4" fill="#bdbdfc" stroke="#7878fa" stroke-width="2"/>
<circle cx="1390" cy="1032.9" r="4.3" fill="none" stroke="#0000ff" stroke-width="2.3"/>
<circle cx="1388.6" cy="1036.5" r="4.3" fill="none" stroke="#0000ff" stroke-width="2.3"/>
<circle cx="1389.5" cy="1042.3" r="4.3" fill="none" stroke="#0000ff" stroke-width="2.3"/>
<rect x="1401.2" y="1031" width="10.4" height="22.7" fill="#0a0af5" stroke="#0000ff" stroke-width="2"/>
<line x1="1406.4" y1="1021" x2="1406.4" y2="1031" stroke="#0000c4" stroke-width="2.3"/>
<line x1="1403.4" y1="1021" x2="1409.4" y2="1021" stroke="#0000c4" stroke-width="2"/>
<circle cx="1406.64" cy="1020.6" r="5" fill="#0000c4"/>
<circle cx="1406.22" cy="1023" r="5" fill="#0000c4"/>
<circle cx="1406.49" cy="1045.2" r="5" fill="#0000c4"/>
<rect x="1418.2" y="1039.6" width="10.4" height="14.1" fill="#ffc0c0" stroke="#ff1a1a" stroke-width="2"/>
<line x1="1423.4" y1="1029" x2="1423.4" y2="1039.6" stroke="#ff0000" stroke-width="2.3"/>
<line x1="1420.4" y1="1029" x2="1426.4" y2="1029" stroke="#ff0000" stroke-width="2"/>
<circle cx="1424.2" cy="1028.2" r="4.3" fill="none" stroke="#ff0000" stroke-width="2.3"/>
<circle cx="1422.8" cy="1039.5" r="4.3" fill="none" stroke="#ff0000" stroke-width="2.3"/>
<circle cx="1423.7" cy="1048" r="4.3" fill="none" stroke="#ff0000" stroke-width="2.3"/>
<rect x="1435.4" y="1037.6" width="10.4" height="16.1" fill="#ff7f7f" stroke="#ff0808" stroke-width="2"/>
<line x1="1440.6" y1="1029.5" x2="1440.6" y2="1037.6" stroke="#ff0000" stroke-width="2.3"/>
<line x1="1437.6" y1="1029.5" x2="1443.6" y2="1029.5" stroke="#ff0000" stroke-width="2"/>
<circle cx="1440.84" cy="1029.1" r="5" fill="#ff0000"/>
<circle cx="1440.42" cy="1039.5" r="5" fill="#ff0000"/>
<circle cx="1440.69" cy="1042.3" r="5" fill="#ff0000"/>
<rect x="1463.6" y="1038.2" width="10.4" height="15.5" fill="#bdbdfc" stroke="#7878fa" stroke-width="2"/>
<circle cx="1469.6" cy="1031.6" r="4.3" fill="none" stroke="#0000ff" stroke-width="2.3"/>
<circle cx="1468.2" cy="1039.5" r="4.3" fill="none" stroke="#0000ff" stroke-width="2.3"/>
<circle cx="1469.1" cy="1042.7" r="4.3" fill="none" stroke="#0000ff" stroke-width="2.3"/>
<rect x="1480.8" y="1038.2" width="10.4" height="15.5" fill="#0a0af5" stroke="#0000ff" stroke-width="2"/>
<circle cx="1486.24" cy="1036.5" r="5" fill="#0000c4"/>
<circle cx="1485.82" cy="1038.5" r="5" fill="#0000c4"/>
<circle cx="1486.09" cy="1040" r="5" fill="#0000c4"/>
<rect x="1497.8" y="1038.6" width="10.4" height="15.1" fill="#ffc0c0" stroke="#ff1a1a" stroke-width="2"/>
<circle cx="1503.8" cy="1036.7" r="4.3" fill="none" stroke="#ff0000" stroke-width="2.3"/>
<circle cx="1502.4" cy="1039.5" r="4.3" fill="none" stroke="#ff0000" stroke-width="2.3"/>
<circle cx="1503.3" cy="1040.5" r="4.3" fill="none" stroke="#ff0000" stroke-width="2.3"/>
<rect x="1515" y="1032" width="10.4" height="21.7" fill="#ff7f7f" stroke="#ff0808" stroke-width="2"/>
<circle cx="1520.44" cy="1029.1" r="5" fill="#ff0000"/>
<circle cx="1520.02" cy="1031.5" r="5" fill="#ff0000"/>
<circle cx="1520.29" cy="1032.9" r="5" fill="#ff0000"/>
<rect x="1543.1" y="1039.2" width="10.4" height="14.5" fill="#bdbdfc" stroke="#7878fa" stroke-width="2"/>
<circle cx="1549.1" cy="1036.7" r="4.3" fill="none" stroke="#0000ff" stroke-width="2.3"/>
<circle cx="1547.7" cy="1039.5" r="4.3" fill="none" stroke="#0000ff" stroke-width="2.3"/>
<circle cx="1548.6" cy="1043.3" r="4.3" fill="none" stroke="#0000ff" stroke-width="2.3"/>
<rect x="1560.3" y="1034.8" width="10.4" height="18.9" fill="#0a0af5" stroke="#0000ff" stroke-width="2"/>
<line x1="1565.5" y1="1029" x2="1565.5" y2="1034.8" stroke="#0000c4" stroke-width="2.3"/>
<line x1="1562.5" y1="1029" x2="1568.5" y2="1029" stroke="#0000c4" stroke-width="2"/>
<circle cx="1565.74" cy="1028.2" r="5" fill="#0000c4"/>
<circle cx="1565.32" cy="1035.7" r="5" fill="#0000c4"/>
<circle cx="1565.59" cy="1038.6" r="5" fill="#0000c4"/>
<rect x="1577.3" y="1039.4" width="10.4" height="14.3" fill="#ffc0c0" stroke="#ff1a1a" stroke-width="2"/>
<circle cx="1583.3" cy="1035.7" r="4.3" fill="none" stroke="#ff0000" stroke-width="2.3"/>
<circle cx="1581.9" cy="1038" r="4.3" fill="none" stroke="#ff0000" stroke-width="2.3"/>
<circle cx="1582.8" cy="1042.9" r="4.3" fill="none" stroke="#ff0000" stroke-width="2.3"/>
<rect x="1594.5" y="1026.3" width="10.4" height="27.4" fill="#ff7f7f" stroke="#ff0808" stroke-width="2"/>
<line x1="1599.7" y1="1018.5" x2="1599.7" y2="1026.3" stroke="#ff0000" stroke-width="2.3"/>
<line x1="1596.7" y1="1018.5" x2="1602.7" y2="1018.5" stroke="#ff0000" stroke-width="2"/>
<circle cx="1599.94" cy="1018.4" r="5" fill="#ff0000"/>
<circle cx="1599.52" cy="1021.2" r="5" fill="#ff0000"/>
<circle cx="1599.79" cy="1038.6" r="5" fill="#ff0000"/>
<rect x="1622.1" y="969.8" width="10.4" height="83.9" fill="#bdbdfc" stroke="#7878fa" stroke-width="2"/>
<circle cx="1628.1" cy="963.2" r="4.3" fill="none" stroke="#0000ff" stroke-width="2.3"/>
<circle cx="1626.7" cy="969.9" r="4.3" fill="none" stroke="#0000ff" stroke-width="2.3"/>
<circle cx="1627.6" cy="973.6" r="4.3" fill="none" stroke="#0000ff" stroke-width="2.3"/>
<rect x="1639.3" y="911.2" width="10.4" height="142.5" fill="#0a0af5" stroke="#0000ff" stroke-width="2"/>
<line x1="1644.5" y1="872.8" x2="1644.5" y2="911.2" stroke="#0000c4" stroke-width="2.3"/>
<line x1="1641.5" y1="872.8" x2="1647.5" y2="872.8" stroke="#0000c4" stroke-width="2"/>
<circle cx="1644.74" cy="860.7" r="5" fill="#0000c4"/>
<circle cx="1644.32" cy="904.3" r="5" fill="#0000c4"/>
<circle cx="1644.59" cy="930.3" r="5" fill="#0000c4"/>
<circle cx="1644.38" cy="947.7" r="5" fill="#0000c4"/>
<rect x="1656.3" y="964.2" width="10.4" height="89.5" fill="#ffc0c0" stroke="#ff1a1a" stroke-width="2"/>
<line x1="1661.5" y1="942.3" x2="1661.5" y2="964.2" stroke="#ff0000" stroke-width="2.3"/>
<line x1="1658.5" y1="942.3" x2="1664.5" y2="942.3" stroke="#ff0000" stroke-width="2"/>
<circle cx="1662.3" cy="934.3" r="4.3" fill="none" stroke="#ff0000" stroke-width="2.3"/>
<circle cx="1660.9" cy="963.2" r="4.3" fill="none" stroke="#ff0000" stroke-width="2.3"/>
<circle cx="1661.8" cy="967.7" r="4.3" fill="none" stroke="#ff0000" stroke-width="2.3"/>
<circle cx="1661.1" cy="977.9" r="4.3" fill="none" stroke="#ff0000" stroke-width="2.3"/>
<rect x="1673.5" y="855.9" width="10.4" height="197.8" fill="#ff7f7f" stroke="#ff0808" stroke-width="2"/>
<line x1="1678.7" y1="788" x2="1678.7" y2="855.9" stroke="#ff0000" stroke-width="2.3"/>
<line x1="1675.7" y1="788" x2="1681.7" y2="788" stroke="#ff0000" stroke-width="2"/>
<circle cx="1678.94" cy="792.5" r="5" fill="#ff0000"/>
<circle cx="1678.52" cy="827.3" r="5" fill="#ff0000"/>
<circle cx="1678.79" cy="852.7" r="5" fill="#ff0000"/>
<circle cx="1678.58" cy="952.2" r="5" fill="#ff0000"/>
<rect x="1701.8" y="1000.5" width="10.4" height="53.2" fill="#bdbdfc" stroke="#7878fa" stroke-width="2"/>
<circle cx="1707.8" cy="994.5" r="4.3" fill="none" stroke="#0000ff" stroke-width="2.3"/>
<circle cx="1706.4" cy="999.8" r="4.3" fill="none" stroke="#0000ff" stroke-width="2.3"/>
<circle cx="1707.3" cy="1003.8" r="4.3" fill="none" stroke="#0000ff" stroke-width="2.3"/>
<circle cx="1706.6" cy="1008.4" r="4.3" fill="none" stroke="#0000ff" stroke-width="2.3"/>
<rect x="1719" y="950" width="10.4" height="103.7" fill="#0a0af5" stroke="#0000ff" stroke-width="2"/>
<line x1="1724.2" y1="920.9" x2="1724.2" y2="950" stroke="#0000c4" stroke-width="2.3"/>
<line x1="1721.2" y1="920.9" x2="1727.2" y2="920.9" stroke="#0000c4" stroke-width="2"/>
<circle cx="1724.44" cy="915" r="5" fill="#0000c4"/>
<circle cx="1724.02" cy="935.6" r="5" fill="#0000c4"/>
<circle cx="1724.29" cy="970.4" r="5" fill="#0000c4"/>
<circle cx="1724.08" cy="978.4" r="5" fill="#0000c4"/>
<rect x="1736" y="992.2" width="10.4" height="61.5" fill="#ffc0c0" stroke="#ff1a1a" stroke-width="2"/>
<line x1="1741.2" y1="983.5" x2="1741.2" y2="992.2" stroke="#ff0000" stroke-width="2.3"/>
<line x1="1738.2" y1="983.5" x2="1744.2" y2="983.5" stroke="#ff0000" stroke-width="2"/>
<circle cx="1742" cy="981.6" r="4.3" fill="none" stroke="#ff0000" stroke-width="2.3"/>
<circle cx="1740.6" cy="990.5" r="4.3" fill="none" stroke="#ff0000" stroke-width="2.3"/>
<circle cx="1741.5" cy="995.8" r="4.3" fill="none" stroke="#ff0000" stroke-width="2.3"/>
<rect x="1753.2" y="880.2" width="10.4" height="173.5" fill="#ff7f7f" stroke="#ff0808" stroke-width="2"/>
<line x1="1758.4" y1="789" x2="1758.4" y2="880.2" stroke="#ff0000" stroke-width="2.3"/>
<line x1="1755.4" y1="789" x2="1761.4" y2="789" stroke="#ff0000" stroke-width="2"/>
<circle cx="1758.64" cy="762.3" r="5" fill="#ff0000"/>
<circle cx="1758.22" cy="887.5" r="5" fill="#ff0000"/>
<circle cx="1758.49" cy="982.4" r="5" fill="#ff0000"/>
<line x1="1286.3" y1="1053.7" x2="1772.4" y2="1053.7" stroke="#000000" stroke-width="1.2"/>
<rect x="1334.5" y="722.7" width="21.8" height="21.2" fill="#bdbdfc" stroke="#7878fa" stroke-width="1.7"/>
<text x="1366.49" y="741.1" font-size="23.2" textLength="56.71" lengthAdjust="spacingAndGlyphs">Ni UL</text>
<rect x="1334.5" y="762" width="21.8" height="21.2" fill="#8080fb" stroke="#0505ff" stroke-width="1.7"/>
<text x="1366.42" y="781" font-size="23.2" textLength="67.9" lengthAdjust="spacingAndGlyphs">Ni LbL</text>
<rect x="1334.5" y="798.2" width="21.8" height="21.2" fill="#ffc0c0" stroke="#ff1a1a" stroke-width="1.7"/>
<text x="1366.44" y="816.6" font-size="23.2" textLength="73.72" lengthAdjust="spacingAndGlyphs">Mal UL</text>
<rect x="1334.5" y="833.1" width="21.8" height="21.2" fill="#ff7f7f" stroke="#ff0808" stroke-width="1.7"/>
<text x="1366.41" y="851.4" font-size="23.2" textLength="84.17" lengthAdjust="spacingAndGlyphs">Mal LbL</text>
<text x="1659.6" y="644.1" font-size="23.2" textLength="112.82" lengthAdjust="spacingAndGlyphs" xml:space="preserve"><tspan font-style="italic">P</tspan> = 0.0372</text>
<path d="M1706.6 681 V652.9 H1724.5 V681" stroke="#1a1a1a" stroke-width="1.15" fill="none"/>
<text x="1688.59" y="701.6" font-size="23.2" textLength="115.05" lengthAdjust="spacingAndGlyphs" xml:space="preserve"><tspan font-style="italic">P</tspan> &lt; 0.0001</text>
<path d="M1741.4 739 V712.3 H1758.5 V739" stroke="#1a1a1a" stroke-width="1.15" fill="none"/>
<text x="1607.39" y="722.4" font-size="23.2" textLength="115.05" lengthAdjust="spacingAndGlyphs" xml:space="preserve"><tspan font-style="italic">P</tspan> &lt; 0.0001</text>
<path d="M1661.6 758.6 V732.3 H1679 V758.6" stroke="#1a1a1a" stroke-width="1.15" fill="none"/>
<text x="1576.71" y="780.5" font-size="23.2" textLength="112.07" lengthAdjust="spacingAndGlyphs" xml:space="preserve"><tspan font-style="italic">P</tspan> = 0.0140</text>
<path d="M1627.7 817.9 V791.2 H1645.1 V817.9" stroke="#1a1a1a" stroke-width="1.15" fill="none"/>
</g>
<g id="p_g">
<text x="189.63" y="1229.4" font-size="38.5" textLength="28.55" lengthAdjust="spacingAndGlyphs" font-weight="bold">g</text>
<line x1="332.9" y1="1263.9" x2="332.9" y2="1595.7" stroke="#000000" stroke-width="1.2"/>
<line x1="320.3" y1="1595.1" x2="526.7" y2="1595.1" stroke="#000000" stroke-width="1.2"/>
<line x1="320.6" y1="1264.5" x2="332.9" y2="1264.5" stroke="#000000" stroke-width="1.2"/>
<text x="274.15" y="1272.7" font-size="23.8">1.0</text>
<line x1="320.6" y1="1330.7" x2="332.9" y2="1330.7" stroke="#000000" stroke-width="1.2"/>
<text x="274.27" y="1338.9" font-size="23.8">0.8</text>
<line x1="320.6" y1="1396.9" x2="332.9" y2="1396.9" stroke="#000000" stroke-width="1.2"/>
<text x="274.27" y="1405.1" font-size="23.8">0.6</text>
<line x1="320.6" y1="1463" x2="332.9" y2="1463" stroke="#000000" stroke-width="1.2"/>
<text x="273.91" y="1471.2" font-size="23.8">0.4</text>
<line x1="320.6" y1="1529.1" x2="332.9" y2="1529.1" stroke="#000000" stroke-width="1.2"/>
<text x="274.39" y="1537.3" font-size="23.8">0.2</text>
<text x="293.82" y="1603.1" font-size="23.8">0</text>
<text x="0" y="0" font-size="27.5" transform="translate(213.4 1592.97) rotate(-90)" textLength="326.14" lengthAdjust="spacingAndGlyphs">Tissue-weight-normalized</text>
<text x="0" y="0" font-size="27.5" transform="translate(245.8 1570.99) rotate(-90)" textLength="280.43" lengthAdjust="spacingAndGlyphs">correlation coefficient</text>
<text x="351.04" y="1267.7" font-size="27.5" textLength="172.34" lengthAdjust="spacingAndGlyphs">BLI versus NP</text>
<text x="417.53" y="1299.9" font-size="27.5" textLength="39.58" lengthAdjust="spacingAndGlyphs">4 h</text>
<text x="355.39" y="1353.9" font-size="23.2" textLength="114.44" lengthAdjust="spacingAndGlyphs" xml:space="preserve"><tspan font-style="italic">P</tspan> &lt; 0.0001</text>
<text x="440.88" y="1435.4" font-size="23.2" textLength="116.66" lengthAdjust="spacingAndGlyphs" xml:space="preserve"><tspan font-style="italic">P</tspan> = 0.0098</text>
<rect x="394.1" y="1367.6" width="23.4" height="227.5" fill="#4343ff" stroke="#0d0dff" stroke-width="1.2"/>
<rect x="482.1" y="1447" width="23.4" height="148.1" fill="#ff4343" stroke="#ff0d0d" stroke-width="1.2"/>
<line x1="320.3" y1="1595.1" x2="526.7" y2="1595.1" stroke="#000000" stroke-width="1.2"/>
<text x="347.67" y="1585.2" font-size="23.2" textLength="31.74" lengthAdjust="spacingAndGlyphs">NS</text>
<text x="435.78" y="1585.2" font-size="23.2" textLength="31.52" lengthAdjust="spacingAndGlyphs">NS</text>
<line x1="361.8" y1="1595.1" x2="361.8" y2="1607.6" stroke="#000000" stroke-width="1.2"/>
<text x="-65.01" y="0" font-size="26.5" transform="translate(376.4 1626.7) rotate(-45)" textLength="65.81" lengthAdjust="spacingAndGlyphs">Ni UL</text>
<line x1="405.8" y1="1595.1" x2="405.8" y2="1607.6" stroke="#000000" stroke-width="1.2"/>
<text x="-78.91" y="0" font-size="26.5" transform="translate(420.4 1626.7) rotate(-45)" textLength="79.75" lengthAdjust="spacingAndGlyphs">Ni LbL</text>
<line x1="449.8" y1="1595.1" x2="449.8" y2="1607.6" stroke="#000000" stroke-width="1.2"/>
<text x="-83.63" y="0" font-size="26.5" transform="translate(464.4 1626.7) rotate(-45)" textLength="84.5" lengthAdjust="spacingAndGlyphs">Mal UL</text>
<line x1="493.7" y1="1595.1" x2="493.7" y2="1607.6" stroke="#000000" stroke-width="1.2"/>
<text x="-98.23" y="0" font-size="26.5" transform="translate(508.3 1626.7) rotate(-45)" textLength="99.14" lengthAdjust="spacingAndGlyphs">Mal LbL</text>
</g>
<g id="p_h">
<text x="680.92" y="1230.3" font-size="38.5" textLength="27.96" lengthAdjust="spacingAndGlyphs" font-weight="bold">h</text>
<text font-size="23.5"><tspan x="728.04" y="1235.8" font-size="23.5" textLength="34.04" lengthAdjust="spacingAndGlyphs">3.5</tspan><tspan x="767.13" y="1236.1" font-size="23.5" textLength="13.24" lengthAdjust="spacingAndGlyphs">×</tspan><tspan x="784.39" y="1235.8" font-size="23.5" textLength="23.8" lengthAdjust="spacingAndGlyphs">10</tspan><tspan x="809.59" y="1225" font-size="16.5" textLength="9.62" lengthAdjust="spacingAndGlyphs">3</tspan></text>
<text x="854.47" y="1235.8" font-size="27.5" textLength="39.91" lengthAdjust="spacingAndGlyphs">BLI</text>
<text x="902.66" y="1235.8" font-size="19.6" textLength="182.63" lengthAdjust="spacingAndGlyphs" xml:space="preserve">(photons s<tspan font-size="11.5" dy="-7.6">−1</tspan><tspan dy="7.6"> cm</tspan><tspan font-size="11.5" dy="-7.6">−2</tspan><tspan dy="7.6"> sr</tspan><tspan font-size="11.5" dy="-7.6">−1</tspan><tspan dy="7.6">)</tspan></text>
<text font-size="23.5"><tspan x="1097.33" y="1235.8" font-size="23.5" textLength="12.17" lengthAdjust="spacingAndGlyphs">3</tspan><tspan x="1116.06" y="1236.1" font-size="23.5" textLength="12.98" lengthAdjust="spacingAndGlyphs">×</tspan><tspan x="1132.58" y="1235.8" font-size="23.5" textLength="24.03" lengthAdjust="spacingAndGlyphs">10</tspan><tspan x="1157.32" y="1225" font-size="16.5" textLength="9.48" lengthAdjust="spacingAndGlyphs">5</tspan></text>
<text font-size="23.5"><tspan x="1180" y="1235.8" font-size="23.5" textLength="30.58" lengthAdjust="spacingAndGlyphs">7.5</tspan><tspan x="1215.94" y="1236.1" font-size="23.5" textLength="14.02" lengthAdjust="spacingAndGlyphs">×</tspan><tspan x="1233.89" y="1235.8" font-size="23.5" textLength="23.8" lengthAdjust="spacingAndGlyphs">10</tspan><tspan x="1257.95" y="1225" font-size="16.5" textLength="9.43" lengthAdjust="spacingAndGlyphs">7</tspan></text>
<text x="1279.9" y="1235.8" font-size="27.5" textLength="34.65" lengthAdjust="spacingAndGlyphs">NP</text>
<text x="1323.17" y="1221.9" font-size="19.6" textLength="193.75" lengthAdjust="spacingAndGlyphs" xml:space="preserve">((photons s<tspan font-size="11.5" dy="-7.6">−1</tspan><tspan dy="7.6"> cm</tspan><tspan font-size="11.5" dy="-7.6">−2</tspan><tspan dy="7.6"> sr</tspan><tspan font-size="11.5" dy="-7.6">−1</tspan><tspan dy="7.6">)/</tspan></text>
<text x="1376.56" y="1242.7" font-size="19.6" textLength="89.6" lengthAdjust="spacingAndGlyphs" xml:space="preserve">(µW cm<tspan font-size="11.5" dy="-7.6">−2</tspan><tspan dy="7.6">))</tspan></text>
<text font-size="23.5"><tspan x="1524.08" y="1235.8" font-size="23.5" textLength="13.54" lengthAdjust="spacingAndGlyphs">7</tspan><tspan x="1542.78" y="1236.1" font-size="23.5" textLength="12.72" lengthAdjust="spacingAndGlyphs">×</tspan><tspan x="1559.28" y="1235.8" font-size="23.5" textLength="24.03" lengthAdjust="spacingAndGlyphs">10</tspan><tspan x="1583.75" y="1225" font-size="16.5" textLength="10.42" lengthAdjust="spacingAndGlyphs">8</tspan></text>
<defs><linearGradient id="cbA" x1="0" x2="1" y1="0" y2="0"><stop offset="0" stop-color="#8000ff"/><stop offset="0.12" stop-color="#0000ff"/><stop offset="0.33" stop-color="#00f0ff"/><stop offset="0.55" stop-color="#00f000"/><stop offset="0.775" stop-color="#ffff00"/><stop offset="1" stop-color="#ff0000"/></linearGradient><linearGradient id="cbB" x1="0" x2="1" y1="0" y2="0"><stop offset="0" stop-color="#380000"/><stop offset="0.25" stop-color="#8a0000"/><stop offset="0.52" stop-color="#f20000"/><stop offset="0.76" stop-color="#ff8000"/><stop offset="0.96" stop-color="#fff000"/><stop offset="1" stop-color="#ffff30"/></linearGradient></defs>
<rect x="770.5" y="1253.9" width="368.7" height="9.9" fill="url(#cbA)" stroke="#000" stroke-width="1"/>
<line x1="770.5" y1="1247.5" x2="770.5" y2="1254.4" stroke="#000" stroke-width="1"/>
<line x1="1139.2" y1="1247.5" x2="1139.2" y2="1254.4" stroke="#000" stroke-width="1"/>
<rect x="1199.4" y="1253.9" width="350.4" height="9.9" fill="url(#cbB)" stroke="#000" stroke-width="1"/>
<line x1="1199.4" y1="1247.5" x2="1199.4" y2="1254.4" stroke="#000" stroke-width="1"/>
<line x1="1549.8" y1="1247.5" x2="1549.8" y2="1254.4" stroke="#000" stroke-width="1"/>
<line x1="720.8" y1="1280.8" x2="720.8" y2="1654.2" stroke="#1a1a1a" stroke-width="1.1"/>
<text x="0" y="0" font-size="27.5" transform="translate(705.3 1521.36) rotate(-90)" textLength="99.98" lengthAdjust="spacingAndGlyphs">NP (4 h)</text>
<text x="0" y="0" font-size="27.5" transform="translate(755 1387.57) rotate(-90)" textLength="33.54" lengthAdjust="spacingAndGlyphs">UL</text>
<text x="0" y="0" font-size="27.5" transform="translate(755 1626.16) rotate(-90)" textLength="45.07" lengthAdjust="spacingAndGlyphs">LbL</text>
<defs>
<filter id="bl1" x="-50%" y="-50%" width="200%" height="200%"><feGaussianBlur stdDeviation="1"/></filter>
<filter id="bl2" x="-50%" y="-50%" width="200%" height="200%"><feGaussianBlur stdDeviation="2"/></filter>
<filter id="bl4" x="-50%" y="-50%" width="200%" height="200%"><feGaussianBlur stdDeviation="4"/></filter>
<filter id="bl8" x="-50%" y="-50%" width="200%" height="200%"><feGaussianBlur stdDeviation="8"/></filter>
<filter id="bl14" x="-50%" y="-50%" width="200%" height="200%"><feGaussianBlur stdDeviation="14"/></filter>
<filter id="bl24" x="-50%" y="-50%" width="200%" height="200%"><feGaussianBlur stdDeviation="24"/></filter>
<filter id="grain" x="0" y="0" width="100%" height="100%" color-interpolation-filters="sRGB"><feTurbulence type="fractalNoise" baseFrequency="0.32" numOctaves="1" seed="7" result="n"/><feColorMatrix in="n" type="matrix" values="2.2 0 0 0 -0.6  2.2 0 0 0 -0.6  2.2 0 0 0 -0.6  0 0 0 0 1"/></filter>
</defs>
<clipPath id="clip_h1"><rect x="770.3" y="1269.2" width="388.5" height="202.6"/></clipPath>
<g clip-path="url(#clip_h1)">
<rect x="770.3" y="1269.2" width="388.5" height="202.6" fill="#151515"/>
<polygon points="726.24,1225.11 855.61,1225.11 851.06,1305.53 837.4,1335.12 835.12,1378.38 848.78,1423.91 882.93,1451.23 726.24,1451.23" fill="#7c7c7c" filter="url(#bl14)"/>
<ellipse cx="878.38" cy="1287.32" rx="36.42" ry="25.04" fill="#4c4c4c" filter="url(#bl14)" opacity="0.8"/>
<ellipse cx="794.15" cy="1285.04" rx="68.3" ry="22.77" fill="#6e6e6e" filter="url(#bl14)" opacity="0.9"/>
<ellipse cx="780.49" cy="1328.3" rx="25.04" ry="20.49" fill="#b8b8b8" filter="url(#bl8)" opacity="0.9"/>
<ellipse cx="791.87" cy="1405.7" rx="40.98" ry="43.25" fill="#a8a8a8" filter="url(#bl14)"/>
<ellipse cx="775.94" cy="1396.59" rx="13.66" ry="25.04" fill="#cccccc" filter="url(#bl8)" opacity="0.8"/>
<ellipse cx="835.12" cy="1437.57" rx="36.42" ry="13.66" fill="#b0b0b0" filter="url(#bl8)" opacity="0.8"/>
<ellipse cx="1062.78" cy="1305.53" rx="68.3" ry="36.42" fill="#303030" filter="url(#bl14)"/>
<ellipse cx="964.89" cy="1289.59" rx="45.53" ry="20.49" fill="#262626" filter="url(#bl14)"/>
<ellipse cx="1135.62" cy="1407.97" rx="27.32" ry="45.53" fill="#121212" filter="url(#bl14)"/>
<polygon points="765.24,1344.69 808.94,1344.69 808.94,1352.88 765.24,1352.88" fill="#3a3a3a" filter="url(#bl1)"/>
<polygon points="762.24,1352.88 805.53,1352.88 816.91,1367 808.94,1378.38 794.15,1360.17 762.24,1360.17" fill="#6c6c6c" filter="url(#bl2)"/>
<polygon points="808.94,1347.65 1166.39,1346.05 1166.39,1349.24 808.94,1350.83" fill="#161616" filter="url(#bl2)" opacity="0.8"/>
<polygon points="806.67,1353.34 813.5,1353.34 813.5,1364.72 806.67,1364.72" fill="#f0f0f0" filter="url(#bl1)"/>
<linearGradient id="hg1" x1="0" x2="1" y1="0" y2="0"><stop offset="0" stop-color="#dcdcdc" stop-opacity="1"/><stop offset="1" stop-color="#dcdcdc" stop-opacity="0"/></linearGradient>
<rect x="762.24" y="1450.77" width="248.17" height="5.01" fill="url(#hg1)" filter="url(#bl2)"/>
<polygon points="765.24,1456.69 1163.39,1456.69 1163.39,1463.97 765.24,1463.97" fill="#181818" filter="url(#bl1)"/>
<polygon points="765.24,1464.2 1163.39,1464.2 1163.39,1476.71 765.24,1476.71" fill="#242424" filter="url(#bl1)"/>
<linearGradient id="hg2" x1="0" x2="1" y1="0" y2="0"><stop offset="0" stop-color="#8a8a8a" stop-opacity="1"/><stop offset="1" stop-color="#8a8a8a" stop-opacity="0"/></linearGradient>
<rect x="765.24" y="1464.2" width="290.7" height="7.97" fill="url(#hg2)" filter="url(#bl1)"/>
<polygon points="987.65,1461.24 1166.39,1461.24 1166.39,1463.97 987.65,1463.97" fill="#2c2c2c" filter="url(#bl2)" opacity="0.8"/>
<rect x="770.3" y="1269.2" width="388.5" height="202.6" filter="url(#grain)" opacity="0.05"/>
<clipPath id="mask_h1"><polygon points="832.23,1297.93 863.28,1297.93 863.28,1302.42 868.95,1302.42 868.95,1309.15 880.05,1309.15 880.05,1315.64 886.9,1315.64 886.9,1328.04 899.89,1328.04 899.89,1332.76 904.02,1332.76 904.02,1369.37 910.75,1369.37 910.75,1376.45 904.02,1376.45 904.02,1423.68 899.89,1423.68 899.89,1430.77 893.39,1430.77 893.39,1434.9 868.95,1434.9 868.95,1441.63 855.84,1441.63 855.84,1447.53 849.11,1447.53 849.11,1441.63 845.33,1441.63 845.33,1417.78 839.08,1417.78 839.08,1410.69 832.23,1410.69 832.23,1387.08 825.5,1387.08 825.5,1382.94 821.6,1382.94 821.6,1376.45 814.87,1376.45 814.87,1362.87 808.38,1362.87 808.38,1352.84 814.87,1352.84 814.87,1339.26 821.6,1339.26 821.6,1332.76 825.5,1332.76 825.5,1309.15 832.23,1309.15"/><polygon points="880.05,1302.06 886.9,1302.06 886.9,1308.91 880.05,1308.91"/><polygon points="899.89,1284.94 904.02,1284.94 904.02,1290.84 899.89,1290.84"/><polygon points="994.89,1322.15 1001.89,1322.15 1001.89,1327.99 1019.38,1327.99 1019.38,1333.23 1025.79,1333.23 1025.79,1346.06 1032.21,1346.06 1032.21,1356.55 1036.29,1356.55 1036.29,1362.97 1042.7,1362.97 1042.7,1369.38 1066.6,1369.38 1066.6,1362.97 1073.02,1362.97 1073.02,1339.06 1080.01,1339.06 1080.01,1327.99 1091.09,1327.99 1091.09,1322.15 1121.99,1322.15 1121.99,1327.99 1134.82,1327.99 1134.82,1339.06 1140.65,1339.06 1140.65,1346.06 1145.9,1346.06 1145.9,1369.38 1140.65,1369.38 1140.65,1382.79 1134.82,1382.79 1134.82,1387.45 1127.82,1387.45 1127.82,1393.87 1121.99,1393.87 1121.99,1399.7 1103.92,1399.7 1103.92,1417.77 1098.09,1417.77 1098.09,1424.18 1103.92,1424.18 1103.92,1430.6 1091.09,1430.6 1091.09,1441.67 1087.01,1441.67 1087.01,1454.5 1066.6,1454.5 1066.6,1461.5 1056.69,1461.5 1056.69,1454.5 1042.7,1454.5 1042.7,1441.67 1025.79,1441.67 1025.79,1435.26 1012.97,1435.26 1012.97,1430.6 1005.97,1430.6 1005.97,1424.18 1001.89,1424.18 1001.89,1417.77 994.89,1417.77 994.89,1411.36 1001.89,1411.36 1001.89,1406.69 989.06,1406.69 989.06,1399.7 982.07,1399.7 982.07,1393.87 970.99,1393.87 970.99,1382.79 965.16,1382.79 965.16,1356.55 977.99,1356.55 977.99,1339.06 982.07,1339.06 982.07,1345.48 989.06,1345.48 989.06,1333.23 994.89,1333.23"/><polygon points="1141.23,1327.99 1145.9,1327.99 1145.9,1333.23 1141.23,1333.23"/></clipPath>
<polygon points="832.23,1297.93 863.28,1297.93 863.28,1302.42 868.95,1302.42 868.95,1309.15 880.05,1309.15 880.05,1315.64 886.9,1315.64 886.9,1328.04 899.89,1328.04 899.89,1332.76 904.02,1332.76 904.02,1369.37 910.75,1369.37 910.75,1376.45 904.02,1376.45 904.02,1423.68 899.89,1423.68 899.89,1430.77 893.39,1430.77 893.39,1434.9 868.95,1434.9 868.95,1441.63 855.84,1441.63 855.84,1447.53 849.11,1447.53 849.11,1441.63 845.33,1441.63 845.33,1417.78 839.08,1417.78 839.08,1410.69 832.23,1410.69 832.23,1387.08 825.5,1387.08 825.5,1382.94 821.6,1382.94 821.6,1376.45 814.87,1376.45 814.87,1362.87 808.38,1362.87 808.38,1352.84 814.87,1352.84 814.87,1339.26 821.6,1339.26 821.6,1332.76 825.5,1332.76 825.5,1309.15 832.23,1309.15" fill="#7a00ff" shape-rendering="crispEdges"/>
<polygon points="880.05,1302.06 886.9,1302.06 886.9,1308.91 880.05,1308.91" fill="#7a00ff" shape-rendering="crispEdges"/>
<polygon points="899.89,1284.94 904.02,1284.94 904.02,1290.84 899.89,1290.84" fill="#7a00ff" shape-rendering="crispEdges"/>
<polygon points="994.89,1322.15 1001.89,1322.15 1001.89,1327.99 1019.38,1327.99 1019.38,1333.23 1025.79,1333.23 1025.79,1346.06 1032.21,1346.06 1032.21,1356.55 1036.29,1356.55 1036.29,1362.97 1042.7,1362.97 1042.7,1369.38 1066.6,1369.38 1066.6,1362.97 1073.02,1362.97 1073.02,1339.06 1080.01,1339.06 1080.01,1327.99 1091.09,1327.99 1091.09,1322.15 1121.99,1322.15 1121.99,1327.99 1134.82,1327.99 1134.82,1339.06 1140.65,1339.06 1140.65,1346.06 1145.9,1346.06 1145.9,1369.38 1140.65,1369.38 1140.65,1382.79 1134.82,1382.79 1134.82,1387.45 1127.82,1387.45 1127.82,1393.87 1121.99,1393.87 1121.99,1399.7 1103.92,1399.7 1103.92,1417.77 1098.09,1417.77 1098.09,1424.18 1103.92,1424.18 1103.92,1430.6 1091.09,1430.6 1091.09,1441.67 1087.01,1441.67 1087.01,1454.5 1066.6,1454.5 1066.6,1461.5 1056.69,1461.5 1056.69,1454.5 1042.7,1454.5 1042.7,1441.67 1025.79,1441.67 1025.79,1435.26 1012.97,1435.26 1012.97,1430.6 1005.97,1430.6 1005.97,1424.18 1001.89,1424.18 1001.89,1417.77 994.89,1417.77 994.89,1411.36 1001.89,1411.36 1001.89,1406.69 989.06,1406.69 989.06,1399.7 982.07,1399.7 982.07,1393.87 970.99,1393.87 970.99,1382.79 965.16,1382.79 965.16,1356.55 977.99,1356.55 977.99,1339.06 982.07,1339.06 982.07,1345.48 989.06,1345.48 989.06,1333.23 994.89,1333.23" fill="#7a00ff" shape-rendering="crispEdges"/>
<polygon points="1141.23,1327.99 1145.9,1327.99 1145.9,1333.23 1141.23,1333.23" fill="#7a00ff" shape-rendering="crispEdges"/>
<g clip-path="url(#mask_h1)" shape-rendering="crispEdges">
<path d="M897.2 1284.9h6.9v6.9h-6.9zM832.2 1297.9h19.9v6.9h-19.9zM864.7 1304.4h6.9v6.9h-6.9zM825.7 1310.9h13.4v6.9h-13.4zM864.7 1310.9h6.9v6.9h-6.9zM825.7 1317.4h6.9v6.9h-6.9zM871.2 1317.4h13.4v6.9h-13.4zM825.7 1323.9h6.9v6.9h-6.9zM877.7 1323.9h6.9v6.9h-6.9zM994.7 1323.9h6.9v6.9h-6.9zM1098.7 1323.9h13.4v6.9h-13.4zM1118.2 1323.9h6.9v6.9h-6.9zM825.7 1330.4h6.9v6.9h-6.9zM877.7 1330.4h6.9v6.9h-6.9zM890.7 1330.4h13.4v6.9h-13.4zM994.7 1330.4h13.4v6.9h-13.4zM1014.2 1330.4h6.9v6.9h-6.9zM1079.2 1330.4h13.4v6.9h-13.4zM1118.2 1330.4h6.9v6.9h-6.9zM1131.2 1330.4h6.9v6.9h-6.9zM812.7 1336.9h13.4v6.9h-13.4zM897.2 1336.9h6.9v6.9h-6.9zM1014.2 1336.9h13.4v6.9h-13.4zM1072.7 1336.9h13.4v6.9h-13.4zM1131.2 1336.9h6.9v6.9h-6.9zM819.2 1343.4h6.9v6.9h-6.9zM897.2 1343.4h6.9v6.9h-6.9zM981.7 1343.4h13.4v6.9h-13.4zM1020.7 1343.4h6.9v6.9h-6.9zM1072.7 1343.4h6.9v6.9h-6.9zM806.2 1349.9h13.4v6.9h-13.4zM975.2 1349.9h13.4v6.9h-13.4zM1020.7 1349.9h13.4v6.9h-13.4zM1072.7 1349.9h6.9v6.9h-6.9zM1137.7 1349.9h6.9v6.9h-6.9zM806.2 1356.4h13.4v6.9h-13.4zM962.2 1356.4h19.9v6.9h-19.9zM1027.2 1356.4h6.9v6.9h-6.9zM1072.7 1356.4h6.9v6.9h-6.9zM1137.7 1356.4h6.9v6.9h-6.9zM812.7 1362.9h13.4v6.9h-13.4zM897.2 1362.9h6.9v6.9h-6.9zM962.2 1362.9h13.4v6.9h-13.4zM1027.2 1362.9h13.4v6.9h-13.4zM1137.7 1362.9h6.9v6.9h-6.9zM812.7 1369.4h13.4v6.9h-13.4zM903.7 1369.4h6.9v6.9h-6.9zM1033.7 1369.4h39.4v6.9h-39.4zM819.2 1375.9h13.4v6.9h-13.4zM897.2 1375.9h6.9v6.9h-6.9zM962.2 1375.9h13.4v6.9h-13.4zM1124.7 1375.9h13.4v6.9h-13.4zM825.7 1382.4h6.9v6.9h-6.9zM968.7 1382.4h13.4v6.9h-13.4zM1131.2 1382.4h6.9v6.9h-6.9zM897.2 1388.9h6.9v6.9h-6.9zM968.7 1388.9h6.9v6.9h-6.9zM981.7 1388.9h6.9v6.9h-6.9zM1105.2 1388.9h19.9v6.9h-19.9zM981.7 1395.4h19.9v6.9h-19.9zM1098.7 1395.4h26.4v6.9h-26.4zM832.2 1401.9h13.4v6.9h-13.4zM897.2 1401.9h6.9v6.9h-6.9zM994.7 1401.9h6.9v6.9h-6.9zM1098.7 1401.9h6.9v6.9h-6.9zM845.2 1408.4h6.9v6.9h-6.9zM897.2 1408.4h6.9v6.9h-6.9zM994.7 1408.4h13.4v6.9h-13.4zM1092.2 1408.4h6.9v6.9h-6.9zM890.7 1414.9h6.9v6.9h-6.9zM1001.2 1414.9h13.4v6.9h-13.4zM1092.2 1414.9h6.9v6.9h-6.9zM890.7 1421.4h6.9v6.9h-6.9zM1085.7 1421.4h19.9v6.9h-19.9zM871.2 1427.9h13.4v6.9h-13.4zM1014.2 1427.9h13.4v6.9h-13.4zM1085.7 1427.9h6.9v6.9h-6.9zM858.2 1434.4h13.4v6.9h-13.4zM1027.2 1434.4h19.9v6.9h-19.9zM1079.2 1434.4h13.4v6.9h-13.4zM851.7 1440.9h6.9v6.9h-6.9zM1040.2 1440.9h13.4v6.9h-13.4zM1079.2 1440.9h6.9v6.9h-6.9zM1040.2 1447.4h45.9v6.9h-45.9zM1059.7 1453.9h6.9v6.9h-6.9z" fill="#7a00ff"/>
<path d="M851.7 1297.9h13.4v6.9h-13.4zM832.2 1304.4h6.9v6.9h-6.9zM858.2 1304.4h6.9v6.9h-6.9zM877.7 1304.4h6.9v6.9h-6.9zM871.2 1310.9h6.9v6.9h-6.9zM1092.2 1323.9h6.9v6.9h-6.9zM1111.7 1323.9h6.9v6.9h-6.9zM819.2 1330.4h6.9v6.9h-6.9zM884.2 1330.4h6.9v6.9h-6.9zM988.2 1330.4h6.9v6.9h-6.9zM1007.7 1330.4h6.9v6.9h-6.9zM1020.7 1330.4h6.9v6.9h-6.9zM1092.2 1330.4h6.9v6.9h-6.9zM1124.7 1330.4h6.9v6.9h-6.9zM975.2 1336.9h6.9v6.9h-6.9zM988.2 1336.9h6.9v6.9h-6.9zM812.7 1343.4h6.9v6.9h-6.9zM975.2 1343.4h6.9v6.9h-6.9zM1027.2 1343.4h6.9v6.9h-6.9zM1137.7 1343.4h6.9v6.9h-6.9zM897.2 1349.9h6.9v6.9h-6.9zM897.2 1356.4h6.9v6.9h-6.9zM1066.2 1362.9h13.4v6.9h-13.4zM897.2 1369.4h6.9v6.9h-6.9zM962.2 1369.4h6.9v6.9h-6.9zM1131.2 1369.4h6.9v6.9h-6.9zM832.2 1382.4h6.9v6.9h-6.9zM897.2 1382.4h6.9v6.9h-6.9zM1124.7 1382.4h6.9v6.9h-6.9zM832.2 1388.9h6.9v6.9h-6.9zM975.2 1388.9h6.9v6.9h-6.9zM832.2 1395.4h6.9v6.9h-6.9zM897.2 1395.4h6.9v6.9h-6.9zM988.2 1401.9h6.9v6.9h-6.9zM1001.2 1401.9h6.9v6.9h-6.9zM838.7 1408.4h6.9v6.9h-6.9zM1098.7 1408.4h6.9v6.9h-6.9zM845.2 1414.9h6.9v6.9h-6.9zM897.2 1414.9h6.9v6.9h-6.9zM845.2 1421.4h6.9v6.9h-6.9zM884.2 1421.4h6.9v6.9h-6.9zM1007.7 1421.4h13.4v6.9h-13.4zM845.2 1427.9h6.9v6.9h-6.9zM864.7 1427.9h6.9v6.9h-6.9zM884.2 1427.9h6.9v6.9h-6.9zM1027.2 1427.9h6.9v6.9h-6.9zM845.2 1434.4h13.4v6.9h-13.4z" fill="#5000ff"/>
<path d="M838.7 1304.4h19.9v6.9h-19.9zM858.2 1310.9h6.9v6.9h-6.9zM864.7 1317.4h6.9v6.9h-6.9zM890.7 1336.9h6.9v6.9h-6.9zM1001.2 1336.9h13.4v6.9h-13.4zM1105.2 1336.9h13.4v6.9h-13.4zM825.7 1343.4h13.4v6.9h-13.4zM864.7 1343.4h13.4v6.9h-13.4zM890.7 1343.4h6.9v6.9h-6.9zM994.7 1343.4h6.9v6.9h-6.9zM1007.7 1343.4h13.4v6.9h-13.4zM1092.2 1343.4h6.9v6.9h-6.9zM1111.7 1343.4h6.9v6.9h-6.9zM858.2 1349.9h6.9v6.9h-6.9zM871.2 1349.9h6.9v6.9h-6.9zM1001.2 1349.9h6.9v6.9h-6.9zM1085.7 1349.9h6.9v6.9h-6.9zM1098.7 1349.9h13.4v6.9h-13.4zM1124.7 1349.9h6.9v6.9h-6.9zM864.7 1356.4h6.9v6.9h-6.9zM877.7 1356.4h6.9v6.9h-6.9zM988.2 1356.4h13.4v6.9h-13.4zM1007.7 1356.4h6.9v6.9h-6.9zM1020.7 1356.4h6.9v6.9h-6.9zM1098.7 1356.4h6.9v6.9h-6.9zM825.7 1362.9h13.4v6.9h-13.4zM871.2 1362.9h13.4v6.9h-13.4zM981.7 1362.9h19.9v6.9h-19.9zM1020.7 1362.9h6.9v6.9h-6.9zM1079.2 1362.9h6.9v6.9h-6.9zM1092.2 1362.9h6.9v6.9h-6.9zM1105.2 1362.9h13.4v6.9h-13.4zM825.7 1369.4h13.4v6.9h-13.4zM994.7 1369.4h13.4v6.9h-13.4zM1027.2 1369.4h6.9v6.9h-6.9zM1072.7 1369.4h13.4v6.9h-13.4zM1098.7 1369.4h6.9v6.9h-6.9zM1124.7 1369.4h6.9v6.9h-6.9zM838.7 1375.9h6.9v6.9h-6.9zM890.7 1375.9h6.9v6.9h-6.9zM981.7 1375.9h6.9v6.9h-6.9zM1001.2 1375.9h6.9v6.9h-6.9zM1020.7 1375.9h13.4v6.9h-13.4zM1040.2 1375.9h6.9v6.9h-6.9zM1105.2 1375.9h13.4v6.9h-13.4zM838.7 1382.4h6.9v6.9h-6.9zM1033.7 1382.4h19.9v6.9h-19.9zM1059.7 1382.4h13.4v6.9h-13.4zM1092.2 1382.4h19.9v6.9h-19.9zM851.7 1388.9h6.9v6.9h-6.9zM890.7 1388.9h6.9v6.9h-6.9zM1027.2 1388.9h13.4v6.9h-13.4zM1046.7 1388.9h6.9v6.9h-6.9zM1098.7 1388.9h6.9v6.9h-6.9zM1033.7 1395.4h6.9v6.9h-6.9zM1059.7 1395.4h6.9v6.9h-6.9zM1079.2 1395.4h13.4v6.9h-13.4zM851.7 1401.9h13.4v6.9h-13.4zM1027.2 1401.9h6.9v6.9h-6.9zM851.7 1408.4h6.9v6.9h-6.9zM1020.7 1408.4h6.9v6.9h-6.9zM1079.2 1408.4h13.4v6.9h-13.4zM851.7 1414.9h26.4v6.9h-26.4zM1040.2 1414.9h19.9v6.9h-19.9zM858.2 1421.4h6.9v6.9h-6.9zM1033.7 1421.4h19.9v6.9h-19.9zM1066.2 1421.4h6.9v6.9h-6.9zM851.7 1427.9h13.4v6.9h-13.4zM1040.2 1427.9h6.9v6.9h-6.9zM1053.2 1427.9h6.9v6.9h-6.9zM1072.7 1427.9h13.4v6.9h-13.4zM1066.2 1434.4h6.9v6.9h-6.9zM1066.2 1440.9h13.4v6.9h-13.4z" fill="#0030ff"/>
<path d="M838.7 1310.9h6.9v6.9h-6.9zM832.2 1317.4h6.9v6.9h-6.9zM851.7 1323.9h6.9v6.9h-6.9zM851.7 1330.4h6.9v6.9h-6.9zM851.7 1349.9h6.9v6.9h-6.9zM1118.2 1362.9h19.9v6.9h-19.9zM884.2 1369.4h6.9v6.9h-6.9zM1118.2 1369.4h6.9v6.9h-6.9zM871.2 1375.9h19.9v6.9h-19.9zM1007.7 1382.4h6.9v6.9h-6.9zM1007.7 1388.9h6.9v6.9h-6.9zM1072.7 1388.9h6.9v6.9h-6.9zM858.2 1395.4h6.9v6.9h-6.9zM871.2 1395.4h6.9v6.9h-6.9zM1007.7 1395.4h6.9v6.9h-6.9zM1046.7 1395.4h13.4v6.9h-13.4zM1066.2 1395.4h13.4v6.9h-13.4zM877.7 1401.9h6.9v6.9h-6.9zM1014.2 1401.9h6.9v6.9h-6.9zM1046.7 1401.9h13.4v6.9h-13.4zM1066.2 1401.9h13.4v6.9h-13.4zM1059.7 1408.4h6.9v6.9h-6.9zM1059.7 1414.9h6.9v6.9h-6.9zM1072.7 1414.9h6.9v6.9h-6.9zM1059.7 1421.4h6.9v6.9h-6.9z" fill="#00d8ff"/>
<path d="M845.2 1310.9h13.4v6.9h-13.4zM871.2 1330.4h6.9v6.9h-6.9zM1111.7 1330.4h6.9v6.9h-6.9zM825.7 1336.9h13.4v6.9h-13.4zM877.7 1336.9h6.9v6.9h-6.9zM994.7 1336.9h6.9v6.9h-6.9zM1085.7 1336.9h19.9v6.9h-19.9zM1118.2 1336.9h13.4v6.9h-13.4zM884.2 1343.4h6.9v6.9h-6.9zM1001.2 1343.4h6.9v6.9h-6.9zM1079.2 1343.4h6.9v6.9h-6.9zM1118.2 1343.4h19.9v6.9h-19.9zM890.7 1349.9h6.9v6.9h-6.9zM1007.7 1349.9h6.9v6.9h-6.9zM1079.2 1349.9h6.9v6.9h-6.9zM1092.2 1349.9h6.9v6.9h-6.9zM819.2 1356.4h6.9v6.9h-6.9zM890.7 1356.4h6.9v6.9h-6.9zM1001.2 1356.4h6.9v6.9h-6.9zM1014.2 1356.4h6.9v6.9h-6.9zM1079.2 1356.4h13.4v6.9h-13.4zM1105.2 1356.4h6.9v6.9h-6.9zM838.7 1362.9h6.9v6.9h-6.9zM890.7 1362.9h6.9v6.9h-6.9zM1001.2 1362.9h19.9v6.9h-19.9zM1085.7 1362.9h6.9v6.9h-6.9zM1098.7 1362.9h6.9v6.9h-6.9zM845.2 1369.4h6.9v6.9h-6.9zM975.2 1369.4h13.4v6.9h-13.4zM1007.7 1369.4h13.4v6.9h-13.4zM1085.7 1369.4h13.4v6.9h-13.4zM1105.2 1369.4h6.9v6.9h-6.9zM832.2 1375.9h6.9v6.9h-6.9zM975.2 1375.9h6.9v6.9h-6.9zM1007.7 1375.9h6.9v6.9h-6.9zM1046.7 1375.9h6.9v6.9h-6.9zM1059.7 1375.9h39.4v6.9h-39.4zM845.2 1382.4h6.9v6.9h-6.9zM1014.2 1382.4h6.9v6.9h-6.9zM1027.2 1382.4h6.9v6.9h-6.9zM1053.2 1382.4h6.9v6.9h-6.9zM1118.2 1382.4h6.9v6.9h-6.9zM845.2 1388.9h6.9v6.9h-6.9zM884.2 1388.9h6.9v6.9h-6.9zM1053.2 1388.9h6.9v6.9h-6.9zM1092.2 1388.9h6.9v6.9h-6.9zM838.7 1395.4h19.9v6.9h-19.9zM884.2 1395.4h13.4v6.9h-13.4zM1027.2 1395.4h6.9v6.9h-6.9zM1092.2 1395.4h6.9v6.9h-6.9zM864.7 1401.9h6.9v6.9h-6.9zM884.2 1401.9h6.9v6.9h-6.9zM1007.7 1401.9h6.9v6.9h-6.9zM1033.7 1401.9h13.4v6.9h-13.4zM1092.2 1401.9h6.9v6.9h-6.9zM858.2 1408.4h13.4v6.9h-13.4zM884.2 1408.4h6.9v6.9h-6.9zM1007.7 1408.4h6.9v6.9h-6.9zM1033.7 1408.4h13.4v6.9h-13.4zM884.2 1414.9h6.9v6.9h-6.9zM1033.7 1414.9h6.9v6.9h-6.9zM1085.7 1414.9h6.9v6.9h-6.9zM864.7 1421.4h19.9v6.9h-19.9zM1020.7 1421.4h13.4v6.9h-13.4zM1046.7 1434.4h13.4v6.9h-13.4z" fill="#0000ff"/>
<path d="M838.7 1317.4h6.9v6.9h-6.9zM845.2 1323.9h6.9v6.9h-6.9zM832.2 1330.4h6.9v6.9h-6.9zM845.2 1330.4h6.9v6.9h-6.9zM838.7 1336.9h13.4v6.9h-13.4zM838.7 1343.4h13.4v6.9h-13.4zM1079.2 1388.9h6.9v6.9h-6.9zM1072.7 1408.4h6.9v6.9h-6.9z" fill="#00f000"/>
<path d="M845.2 1317.4h6.9v6.9h-6.9zM884.2 1356.4h6.9v6.9h-6.9zM1124.7 1356.4h13.4v6.9h-13.4zM877.7 1382.4h6.9v6.9h-6.9zM871.2 1388.9h6.9v6.9h-6.9zM1059.7 1401.9h6.9v6.9h-6.9zM1027.2 1408.4h6.9v6.9h-6.9zM1066.2 1408.4h6.9v6.9h-6.9zM1066.2 1414.9h6.9v6.9h-6.9zM1059.7 1427.9h13.4v6.9h-13.4z" fill="#00ffb0"/>
<path d="M851.7 1317.4h13.4v6.9h-13.4zM864.7 1336.9h6.9v6.9h-6.9zM858.2 1343.4h6.9v6.9h-6.9zM832.2 1349.9h19.9v6.9h-19.9zM1118.2 1349.9h6.9v6.9h-6.9zM825.7 1356.4h13.4v6.9h-13.4zM845.2 1356.4h6.9v6.9h-6.9zM858.2 1362.9h13.4v6.9h-13.4zM864.7 1369.4h6.9v6.9h-6.9zM994.7 1375.9h6.9v6.9h-6.9zM864.7 1382.4h13.4v6.9h-13.4zM1001.2 1382.4h6.9v6.9h-6.9zM1085.7 1382.4h6.9v6.9h-6.9zM864.7 1388.9h6.9v6.9h-6.9zM988.2 1388.9h6.9v6.9h-6.9zM1059.7 1388.9h13.4v6.9h-13.4zM877.7 1395.4h6.9v6.9h-6.9zM1001.2 1395.4h6.9v6.9h-6.9zM1020.7 1395.4h6.9v6.9h-6.9zM1079.2 1401.9h13.4v6.9h-13.4zM871.2 1408.4h13.4v6.9h-13.4zM1014.2 1408.4h6.9v6.9h-6.9zM1014.2 1414.9h6.9v6.9h-6.9zM1027.2 1414.9h6.9v6.9h-6.9zM1079.2 1414.9h6.9v6.9h-6.9zM1072.7 1421.4h6.9v6.9h-6.9zM1059.7 1440.9h6.9v6.9h-6.9z" fill="#00a0ff"/>
<path d="M832.2 1323.9h6.9v6.9h-6.9z" fill="#f0ff00"/>
<path d="M838.7 1323.9h6.9v6.9h-6.9zM838.7 1330.4h6.9v6.9h-6.9z" fill="#90ff00"/>
<path d="M858.2 1323.9h13.4v6.9h-13.4zM858.2 1330.4h13.4v6.9h-13.4zM851.7 1336.9h13.4v6.9h-13.4zM871.2 1336.9h6.9v6.9h-6.9zM851.7 1343.4h6.9v6.9h-6.9zM877.7 1343.4h6.9v6.9h-6.9zM819.2 1349.9h13.4v6.9h-13.4zM877.7 1349.9h6.9v6.9h-6.9zM1111.7 1349.9h6.9v6.9h-6.9zM1131.2 1349.9h6.9v6.9h-6.9zM838.7 1356.4h6.9v6.9h-6.9zM851.7 1356.4h6.9v6.9h-6.9zM981.7 1356.4h6.9v6.9h-6.9zM1111.7 1356.4h13.4v6.9h-13.4zM845.2 1362.9h13.4v6.9h-13.4zM884.2 1362.9h6.9v6.9h-6.9zM851.7 1369.4h13.4v6.9h-13.4zM871.2 1369.4h13.4v6.9h-13.4zM968.7 1369.4h6.9v6.9h-6.9zM1111.7 1369.4h6.9v6.9h-6.9zM851.7 1375.9h19.9v6.9h-19.9zM988.2 1375.9h6.9v6.9h-6.9zM851.7 1382.4h13.4v6.9h-13.4zM884.2 1382.4h6.9v6.9h-6.9zM981.7 1382.4h19.9v6.9h-19.9zM1079.2 1382.4h6.9v6.9h-6.9zM858.2 1388.9h6.9v6.9h-6.9zM877.7 1388.9h6.9v6.9h-6.9zM994.7 1388.9h13.4v6.9h-13.4zM1014.2 1388.9h13.4v6.9h-13.4zM1085.7 1388.9h6.9v6.9h-6.9zM864.7 1395.4h6.9v6.9h-6.9zM1014.2 1395.4h6.9v6.9h-6.9zM871.2 1401.9h6.9v6.9h-6.9zM1020.7 1401.9h6.9v6.9h-6.9zM1053.2 1408.4h6.9v6.9h-6.9zM1020.7 1414.9h6.9v6.9h-6.9zM1053.2 1421.4h6.9v6.9h-6.9zM1079.2 1421.4h6.9v6.9h-6.9zM1059.7 1434.4h6.9v6.9h-6.9z" fill="#0078ff"/>
<path d="M871.2 1323.9h6.9v6.9h-6.9zM1098.7 1330.4h13.4v6.9h-13.4zM884.2 1336.9h6.9v6.9h-6.9zM1085.7 1343.4h6.9v6.9h-6.9zM1098.7 1343.4h13.4v6.9h-13.4zM864.7 1349.9h6.9v6.9h-6.9zM884.2 1349.9h6.9v6.9h-6.9zM988.2 1349.9h13.4v6.9h-13.4zM1014.2 1349.9h6.9v6.9h-6.9zM858.2 1356.4h6.9v6.9h-6.9zM871.2 1356.4h6.9v6.9h-6.9zM1092.2 1356.4h6.9v6.9h-6.9zM975.2 1362.9h6.9v6.9h-6.9zM838.7 1369.4h6.9v6.9h-6.9zM890.7 1369.4h6.9v6.9h-6.9zM988.2 1369.4h6.9v6.9h-6.9zM1020.7 1369.4h6.9v6.9h-6.9zM845.2 1375.9h6.9v6.9h-6.9zM1014.2 1375.9h6.9v6.9h-6.9zM1033.7 1375.9h6.9v6.9h-6.9zM1053.2 1375.9h6.9v6.9h-6.9zM1098.7 1375.9h6.9v6.9h-6.9zM1118.2 1375.9h6.9v6.9h-6.9zM890.7 1382.4h6.9v6.9h-6.9zM1020.7 1382.4h6.9v6.9h-6.9zM1072.7 1382.4h6.9v6.9h-6.9zM1111.7 1382.4h6.9v6.9h-6.9zM838.7 1388.9h6.9v6.9h-6.9zM1040.2 1388.9h6.9v6.9h-6.9zM1040.2 1395.4h6.9v6.9h-6.9zM845.2 1401.9h6.9v6.9h-6.9zM890.7 1401.9h6.9v6.9h-6.9zM890.7 1408.4h6.9v6.9h-6.9zM1046.7 1408.4h6.9v6.9h-6.9zM877.7 1414.9h6.9v6.9h-6.9zM851.7 1421.4h6.9v6.9h-6.9zM1033.7 1427.9h6.9v6.9h-6.9zM1046.7 1427.9h6.9v6.9h-6.9zM1072.7 1434.4h6.9v6.9h-6.9zM1053.2 1440.9h6.9v6.9h-6.9z" fill="#2000ff"/>
</g>
</g>
<clipPath id="clip_h2"><rect x="1163.1" y="1269.2" width="386.7" height="202.6"/></clipPath>
<g clip-path="url(#clip_h2)">
<rect x="1163.1" y="1269.2" width="386.7" height="202.6" fill="#4a4a4a"/>
<polygon points="1119.66,1225.11 1268.38,1225.11 1259.27,1328.3 1286.59,1373.83 1332.12,1455.78 1119.66,1455.78" fill="#7a7a7a" filter="url(#bl14)"/>
<ellipse cx="1202.36" cy="1414.8" rx="59.19" ry="38.7" fill="#8e8e8e" filter="url(#bl14)"/>
<ellipse cx="1186.42" cy="1321.47" rx="29.59" ry="20.49" fill="#8a8a8a" filter="url(#bl8)" opacity="0.8"/>
<ellipse cx="1338.95" cy="1355.61" rx="45.53" ry="75.12" fill="#444444" filter="url(#bl14)"/>
<ellipse cx="1468.71" cy="1300.98" rx="59.19" ry="34.15" fill="#747474" filter="url(#bl14)"/>
<ellipse cx="1473.26" cy="1285.04" rx="29.59" ry="15.94" fill="#969696" filter="url(#bl8)" opacity="0.8"/>
<ellipse cx="1525.62" cy="1419.36" rx="45.53" ry="45.53" fill="#343434" filter="url(#bl14)"/>
<ellipse cx="1411.8" cy="1442.12" rx="79.68" ry="20.49" fill="#363636" filter="url(#bl14)"/>
<ellipse cx="1377.65" cy="1294.15" rx="27.32" ry="22.77" fill="#484848" filter="url(#bl14)"/>
<polygon points="1155.66,1346.96 1491.48,1347.87 1491.48,1350.6 1155.66,1350.15" fill="#4a4a4a" filter="url(#bl2)" opacity="0.8"/>
<polygon points="1155.66,1351.06 1202.36,1351.06 1202.36,1360.17 1155.66,1360.17" fill="#7a7a7a" filter="url(#bl2)" opacity="0.8"/>
<linearGradient id="hg3" x1="0" x2="1" y1="0" y2="0"><stop offset="0" stop-color="#d0d0d0" stop-opacity="1"/><stop offset="1" stop-color="#d0d0d0" stop-opacity="0"/></linearGradient>
<rect x="1155.66" y="1453.96" width="290.29" height="6.83" fill="url(#hg3)" filter="url(#bl2)"/>
<polygon points="1309.36,1454.64 1559.39,1456.92 1559.39,1460.33 1309.36,1460.33" fill="#6a6a6a" filter="url(#bl3)"/>
<polygon points="1155.66,1461.7 1556.39,1461.7 1556.39,1468.07 1155.66,1468.07" fill="#4a4a4a" filter="url(#bl2)" opacity="0.9"/>
<linearGradient id="hg4" x1="0" x2="1" y1="0" y2="0"><stop offset="0" stop-color="#9a9a9a" stop-opacity="0"/><stop offset="1" stop-color="#9a9a9a" stop-opacity="1"/></linearGradient>
<rect x="1354.89" y="1461.7" width="201.5" height="6.37" fill="url(#hg4)" filter="url(#bl2)"/>
<polygon points="1155.66,1468.07 1556.39,1468.07 1556.39,1479.71 1155.66,1479.71" fill="#767676" filter="url(#bl2)"/>
<polygon points="1240.28,1316.23 1269.8,1315.04 1283.97,1320.95 1285.74,1339.84 1292.23,1350.46 1301.68,1359.91 1305.81,1372.9 1299.91,1387.06 1293.41,1404.77 1305.81,1428.39 1301.09,1434.88 1283.97,1436.06 1272.16,1438.42 1255.04,1438.42 1253.27,1428.39 1247.96,1396.51 1241.46,1389.43 1229.66,1384.11 1222.57,1375.26 1222.57,1351.64 1237.92,1344.56" fill="#909090" filter="url(#bl2)"/>
<path d="M1240.28 1316.23 L1269.8 1315.04 L1283.97 1320.95 L1285.74 1339.84 L1292.23 1350.46 L1301.68 1359.91 L1305.81 1372.9 L1299.91 1387.06 L1293.41 1404.77 L1305.81 1428.39 L1301.09 1434.88 L1283.97 1436.06 L1272.16 1438.42 L1255.04 1438.42 L1253.27 1428.39 L1247.96 1396.51 L1241.46 1389.43 L1229.66 1384.11 L1222.57 1375.26 L1222.57 1351.64 L1237.92 1344.56 L1240.28 1316.23" fill="none" stroke="#3c3c3c" stroke-width="2" stroke-linejoin="round" stroke-linecap="round" filter="url(#bl1)" opacity="0.85"/>
<polygon points="1201.32,1363.45 1216.67,1346.92 1223.75,1346.92 1223.75,1382.34 1215.49,1382.34 1207.23,1374.08" fill="#2e2e2e" filter="url(#bl2)" opacity="0.9"/>
<polygon points="1215.49,1338.66 1218.44,1338.66 1218.44,1350.46 1215.49,1350.46" fill="#f4f4f4" filter="url(#bl1)"/>
<polygon points="1206.04,1360.5 1209,1360.5 1209,1366.99 1206.04,1366.99" fill="#ffffff" filter="url(#bl1)"/>
<polygon points="1286.92,1379.39 1291.05,1379.39 1291.05,1382.93 1286.92,1382.93" fill="#ffffff" filter="url(#bl1)"/>
<polygon points="1239.1,1397.1 1242.05,1397.1 1242.05,1404.77 1239.1,1404.77" fill="#e8e8e8" filter="url(#bl1)"/>
<polygon points="1259.17,1337.48 1266.26,1337.48 1266.26,1342.79 1259.17,1342.79" fill="#d0d0d0" filter="url(#bl1)"/>
<polygon points="1404.31,1335.12 1423.2,1335.12 1426.74,1354.01 1435.01,1375.26 1444.45,1388.24 1456.26,1398.87 1473.97,1404.77 1497.58,1375.26 1492.86,1363.45 1495.22,1335.12 1534.18,1333.94 1541.26,1351.64 1534.18,1378.8 1507.02,1404.77 1488.13,1434.29 1479.87,1451.41 1463.34,1451.41 1453.9,1439.01 1425.56,1422.48 1409.03,1404.77 1385.42,1391.79 1377.15,1379.98 1378.34,1366.99 1400.77,1344.56" fill="#868686" filter="url(#bl2)"/>
<path d="M1404.31 1335.12 L1423.2 1335.12 L1426.74 1354.01 L1435.01 1375.26 L1444.45 1388.24 L1456.26 1398.87 L1473.97 1404.77 L1497.58 1375.26 L1492.86 1363.45 L1495.22 1335.12 L1534.18 1333.94 L1541.26 1351.64 L1534.18 1378.8 L1507.02 1404.77 L1488.13 1434.29 L1479.87 1451.41 L1463.34 1451.41 L1453.9 1439.01 L1425.56 1422.48 L1409.03 1404.77 L1385.42 1391.79 L1377.15 1379.98 L1378.34 1366.99 L1400.77 1344.56 L1404.31 1335.12" fill="none" stroke="#2c2c2c" stroke-width="2" stroke-linejoin="round" stroke-linecap="round" filter="url(#bl1)" opacity="0.8"/>
<polygon points="1431.46,1356.37 1489.32,1356.37 1496.4,1372.9 1465.7,1398.28 1444.45,1375.26" fill="#646464" filter="url(#bl3)"/>
<path d="M1427.92 1354.01 L1486.95 1354.01" fill="none" stroke="#222222" stroke-width="2.2" stroke-linejoin="round" stroke-linecap="round" filter="url(#bl1)" opacity="0.8"/>
<path d="M1432.64 1361.09 L1465.7 1398.87 L1497.58 1372.9" fill="none" stroke="#262626" stroke-width="2" stroke-linejoin="round" stroke-linecap="round" filter="url(#bl1)" opacity="0.8"/>
<rect x="1163.1" y="1269.2" width="386.7" height="202.6" filter="url(#grain)" opacity="0.08"/>
<clipPath id="mask_h2"><polygon points="1263.9,1326.26 1270.04,1326.26 1270.04,1336.89 1256.81,1336.89 1256.81,1343.97 1270.04,1343.97 1270.04,1350.46 1263.66,1350.46 1263.66,1356.96 1256.81,1356.96 1256.81,1361.09 1263.66,1361.09 1263.66,1367.58 1276.29,1367.58 1276.29,1374.08 1286.92,1374.08 1286.92,1391.2 1281.61,1391.2 1281.61,1404.77 1286.92,1404.77 1286.92,1411.27 1293.18,1411.27 1293.18,1415.99 1286.92,1415.99 1286.92,1422.48 1293.18,1422.48 1293.18,1428.98 1270.04,1428.98 1270.04,1422.48 1263.66,1422.48 1263.66,1415.99 1256.81,1415.99 1256.81,1404.77 1253.27,1404.77 1253.27,1380.57 1256.81,1380.57 1256.81,1367.58 1253.27,1367.58 1253.27,1333.34 1263.9,1333.34"/><polygon points="1401.36,1343.97 1419.07,1343.97 1419.07,1356.96 1424.97,1356.96 1424.97,1374.08 1432.05,1374.08 1432.05,1387.65 1438.55,1387.65 1438.55,1398.28 1443.27,1398.28 1443.27,1404.77 1473.38,1404.77 1473.38,1411.27 1479.87,1411.27 1479.87,1415.99 1486.95,1415.99 1486.95,1428.98 1479.87,1428.98 1479.87,1435.47 1473.38,1435.47 1473.38,1439.6 1466.29,1439.6 1466.29,1446.1 1462.75,1446.1 1462.75,1439.6 1456.26,1439.6 1456.26,1435.47 1443.27,1435.47 1443.27,1428.98 1432.05,1428.98 1432.05,1422.48 1424.97,1422.48 1424.97,1411.27 1419.07,1411.27 1419.07,1404.77 1407.85,1404.77 1407.85,1398.28 1394.86,1398.28 1394.86,1391.2 1384.24,1391.2 1384.24,1380.57 1377.74,1380.57 1377.74,1367.58 1384.24,1367.58 1384.24,1361.09 1394.86,1361.09 1394.86,1356.96 1401.36,1356.96"/><polygon points="1504.07,1336.89 1517.06,1336.89 1517.06,1343.97 1521.19,1343.97 1521.19,1356.96 1534.18,1356.96 1534.18,1374.08 1517.06,1374.08 1517.06,1367.58 1510.57,1367.58 1510.57,1361.09 1504.07,1361.09"/></clipPath>
<polygon points="1263.9,1326.26 1270.04,1326.26 1270.04,1336.89 1256.81,1336.89 1256.81,1343.97 1270.04,1343.97 1270.04,1350.46 1263.66,1350.46 1263.66,1356.96 1256.81,1356.96 1256.81,1361.09 1263.66,1361.09 1263.66,1367.58 1276.29,1367.58 1276.29,1374.08 1286.92,1374.08 1286.92,1391.2 1281.61,1391.2 1281.61,1404.77 1286.92,1404.77 1286.92,1411.27 1293.18,1411.27 1293.18,1415.99 1286.92,1415.99 1286.92,1422.48 1293.18,1422.48 1293.18,1428.98 1270.04,1428.98 1270.04,1422.48 1263.66,1422.48 1263.66,1415.99 1256.81,1415.99 1256.81,1404.77 1253.27,1404.77 1253.27,1380.57 1256.81,1380.57 1256.81,1367.58 1253.27,1367.58 1253.27,1333.34 1263.9,1333.34" fill="#540000" shape-rendering="crispEdges"/>
<polygon points="1401.36,1343.97 1419.07,1343.97 1419.07,1356.96 1424.97,1356.96 1424.97,1374.08 1432.05,1374.08 1432.05,1387.65 1438.55,1387.65 1438.55,1398.28 1443.27,1398.28 1443.27,1404.77 1473.38,1404.77 1473.38,1411.27 1479.87,1411.27 1479.87,1415.99 1486.95,1415.99 1486.95,1428.98 1479.87,1428.98 1479.87,1435.47 1473.38,1435.47 1473.38,1439.6 1466.29,1439.6 1466.29,1446.1 1462.75,1446.1 1462.75,1439.6 1456.26,1439.6 1456.26,1435.47 1443.27,1435.47 1443.27,1428.98 1432.05,1428.98 1432.05,1422.48 1424.97,1422.48 1424.97,1411.27 1419.07,1411.27 1419.07,1404.77 1407.85,1404.77 1407.85,1398.28 1394.86,1398.28 1394.86,1391.2 1384.24,1391.2 1384.24,1380.57 1377.74,1380.57 1377.74,1367.58 1384.24,1367.58 1384.24,1361.09 1394.86,1361.09 1394.86,1356.96 1401.36,1356.96" fill="#540000" shape-rendering="crispEdges"/>
<polygon points="1504.07,1336.89 1517.06,1336.89 1517.06,1343.97 1521.19,1343.97 1521.19,1356.96 1534.18,1356.96 1534.18,1374.08 1517.06,1374.08 1517.06,1367.58 1510.57,1367.58 1510.57,1361.09 1504.07,1361.09" fill="#540000" shape-rendering="crispEdges"/>
<g clip-path="url(#mask_h2)" shape-rendering="crispEdges">
<path d="M1261.7 1328.1h6.9v6.9h-6.9zM1508.7 1334.6h6.9v6.9h-6.9zM1255.2 1341.1h13.4v6.9h-13.4zM1398.2 1341.1h19.9v6.9h-19.9zM1508.7 1341.1h13.4v6.9h-13.4zM1255.2 1347.6h6.9v6.9h-6.9zM1398.2 1347.6h19.9v6.9h-19.9zM1502.2 1347.6h6.9v6.9h-6.9zM1391.7 1354.1h6.9v6.9h-6.9zM1404.7 1354.1h6.9v6.9h-6.9zM1417.7 1354.1h6.9v6.9h-6.9zM1502.2 1354.1h6.9v6.9h-6.9zM1528.2 1354.1h6.9v6.9h-6.9zM1255.2 1360.6h6.9v6.9h-6.9zM1417.7 1360.6h6.9v6.9h-6.9zM1508.7 1360.6h13.4v6.9h-13.4zM1528.2 1360.6h6.9v6.9h-6.9zM1255.2 1367.1h19.9v6.9h-19.9zM1378.7 1367.1h6.9v6.9h-6.9zM1515.2 1367.1h19.9v6.9h-19.9zM1261.7 1373.6h6.9v6.9h-6.9zM1274.7 1373.6h6.9v6.9h-6.9zM1378.7 1373.6h6.9v6.9h-6.9zM1255.2 1380.1h19.9v6.9h-19.9zM1281.2 1380.1h6.9v6.9h-6.9zM1424.2 1380.1h6.9v6.9h-6.9zM1255.2 1386.6h6.9v6.9h-6.9zM1268.2 1386.6h6.9v6.9h-6.9zM1281.2 1386.6h6.9v6.9h-6.9zM1424.2 1386.6h6.9v6.9h-6.9zM1261.7 1393.1h6.9v6.9h-6.9zM1274.7 1393.1h6.9v6.9h-6.9zM1424.2 1393.1h6.9v6.9h-6.9zM1255.2 1399.6h13.4v6.9h-13.4zM1274.7 1399.6h6.9v6.9h-6.9zM1417.7 1399.6h13.4v6.9h-13.4zM1437.2 1399.6h6.9v6.9h-6.9zM1255.2 1406.1h6.9v6.9h-6.9zM1268.2 1406.1h19.9v6.9h-19.9zM1417.7 1406.1h39.4v6.9h-39.4zM1463.2 1406.1h13.4v6.9h-13.4zM1255.2 1412.6h32.9v6.9h-32.9zM1424.2 1412.6h6.9v6.9h-6.9zM1437.2 1412.6h6.9v6.9h-6.9zM1456.7 1412.6h13.4v6.9h-13.4zM1476.2 1412.6h6.9v6.9h-6.9zM1261.7 1419.1h26.4v6.9h-26.4zM1424.2 1419.1h52.4v6.9h-52.4zM1268.2 1425.6h6.9v6.9h-6.9zM1281.2 1425.6h13.4v6.9h-13.4zM1430.7 1425.6h32.9v6.9h-32.9zM1469.7 1425.6h13.4v6.9h-13.4zM1456.7 1432.1h6.9v6.9h-6.9zM1469.7 1432.1h6.9v6.9h-6.9z" fill="#540000"/>
<path d="M1502.2 1334.6h6.9v6.9h-6.9zM1502.2 1341.1h6.9v6.9h-6.9zM1398.2 1354.1h6.9v6.9h-6.9zM1411.2 1354.1h6.9v6.9h-6.9zM1521.7 1354.1h6.9v6.9h-6.9zM1521.7 1360.6h6.9v6.9h-6.9zM1255.2 1373.6h6.9v6.9h-6.9zM1268.2 1373.6h6.9v6.9h-6.9zM1281.2 1373.6h6.9v6.9h-6.9zM1424.2 1373.6h6.9v6.9h-6.9zM1274.7 1380.1h6.9v6.9h-6.9zM1261.7 1386.6h6.9v6.9h-6.9zM1274.7 1386.6h6.9v6.9h-6.9zM1430.7 1386.6h6.9v6.9h-6.9zM1255.2 1393.1h6.9v6.9h-6.9zM1268.2 1393.1h6.9v6.9h-6.9zM1430.7 1393.1h6.9v6.9h-6.9zM1268.2 1399.6h6.9v6.9h-6.9zM1404.7 1399.6h13.4v6.9h-13.4zM1430.7 1399.6h6.9v6.9h-6.9zM1261.7 1406.1h6.9v6.9h-6.9zM1456.7 1406.1h6.9v6.9h-6.9zM1287.7 1412.6h6.9v6.9h-6.9zM1430.7 1412.6h6.9v6.9h-6.9zM1443.7 1412.6h13.4v6.9h-13.4zM1469.7 1412.6h6.9v6.9h-6.9zM1476.2 1419.1h13.4v6.9h-13.4zM1274.7 1425.6h6.9v6.9h-6.9zM1463.2 1425.6h6.9v6.9h-6.9zM1482.7 1425.6h6.9v6.9h-6.9zM1443.7 1432.1h13.4v6.9h-13.4zM1463.2 1432.1h6.9v6.9h-6.9zM1476.2 1432.1h6.9v6.9h-6.9z" fill="#5e0000"/>
<path d="M1508.7 1347.6h13.4v6.9h-13.4zM1508.7 1354.1h6.9v6.9h-6.9zM1385.2 1360.6h6.9v6.9h-6.9zM1404.7 1360.6h6.9v6.9h-6.9zM1411.2 1367.1h6.9v6.9h-6.9zM1404.7 1373.6h6.9v6.9h-6.9zM1417.7 1373.6h6.9v6.9h-6.9zM1404.7 1380.1h13.4v6.9h-13.4zM1385.2 1386.6h6.9v6.9h-6.9zM1411.2 1386.6h13.4v6.9h-13.4zM1391.7 1393.1h13.4v6.9h-13.4zM1417.7 1393.1h6.9v6.9h-6.9z" fill="#7a0000"/>
<path d="M1515.2 1354.1h6.9v6.9h-6.9zM1391.7 1360.6h13.4v6.9h-13.4zM1411.2 1360.6h6.9v6.9h-6.9zM1404.7 1367.1h6.9v6.9h-6.9zM1417.7 1367.1h6.9v6.9h-6.9zM1411.2 1373.6h6.9v6.9h-6.9zM1417.7 1380.1h6.9v6.9h-6.9zM1404.7 1386.6h6.9v6.9h-6.9zM1404.7 1393.1h13.4v6.9h-13.4z" fill="#6c0000"/>
<path d="M1385.2 1367.1h6.9v6.9h-6.9zM1391.7 1373.6h6.9v6.9h-6.9zM1398.2 1380.1h6.9v6.9h-6.9zM1391.7 1386.6h13.4v6.9h-13.4z" fill="#a40000"/>
<path d="M1391.7 1367.1h13.4v6.9h-13.4zM1398.2 1373.6h6.9v6.9h-6.9zM1385.2 1380.1h6.9v6.9h-6.9z" fill="#900000"/>
<path d="M1385.2 1373.6h6.9v6.9h-6.9zM1391.7 1380.1h6.9v6.9h-6.9z" fill="#b00000"/>
</g>
</g>
<clipPath id="clip_h3"><rect x="770.3" y="1491.3" width="383.7" height="224.5"/></clipPath>
<g clip-path="url(#clip_h3)">
<rect x="770.3" y="1491.3" width="383.7" height="224.5" fill="#262626"/>
<polygon points="726.24,1500.49 933.01,1500.49 919.36,1571.06 928.46,1639.36 987.65,1761.89 726.24,1761.89" fill="#7c7c7c" filter="url(#bl14)"/>
<polygon points="726.24,1500.49 905.7,1500.49 896.59,1571.06 887.48,1639.36 887.48,1761.89 726.24,1761.89" fill="#c6c6c6" filter="url(#bl14)"/>
<ellipse cx="798.7" cy="1571.06" rx="59.19" ry="38.7" fill="#ffffff" filter="url(#bl8)"/>
<ellipse cx="787.32" cy="1555.12" rx="45.53" ry="27.32" fill="#ffffff" filter="url(#bl8)"/>
<ellipse cx="835.12" cy="1541.47" rx="40.98" ry="15.94" fill="#e8e8e8" filter="url(#bl8)" opacity="0.9"/>
<ellipse cx="789.59" cy="1666.67" rx="45.53" ry="50.08" fill="#ececec" filter="url(#bl14)"/>
<ellipse cx="828.3" cy="1703.1" rx="68.3" ry="22.77" fill="#e2e2e2" filter="url(#bl14)"/>
<ellipse cx="930.74" cy="1548.3" rx="27.32" ry="25.04" fill="#7a7a7a" filter="url(#bl14)" opacity="0.8"/>
<ellipse cx="964.89" cy="1607.48" rx="31.87" ry="45.53" fill="#606060" filter="url(#bl14)" opacity="0.8"/>
<ellipse cx="905.7" cy="1607.48" rx="13.66" ry="36.42" fill="#c8c8c8" filter="url(#bl8)" opacity="0.7"/>
<ellipse cx="1090.09" cy="1698.54" rx="95.61" ry="34.15" fill="#1c1c1c" filter="url(#bl14)"/>
<ellipse cx="1078.71" cy="1536.91" rx="68.3" ry="29.59" fill="#343434" filter="url(#bl14)"/>
<ellipse cx="964.89" cy="1696.27" rx="45.53" ry="20.49" fill="#4a4a4a" filter="url(#bl14)" opacity="0.8"/>
<polygon points="765.24,1484.11 1163.39,1484.11 1163.39,1505.5 765.24,1500.03" fill="#0e0e0e" filter="url(#bl1)"/>
<polygon points="756.24,1499.12 942.12,1499.12 942.12,1503.22 756.24,1503.22" fill="#6a6a6a" filter="url(#bl4)" opacity="0.8"/>
<polygon points="765.24,1602.93 806.67,1602.93 806.67,1607.94 765.24,1607.94" fill="#383838" filter="url(#bl1)"/>
<polygon points="762.24,1607.94 805.53,1607.94 828.3,1634.8 816.91,1643.91 789.59,1621.14 762.24,1621.14" fill="#7e7e7e" filter="url(#bl2)"/>
<polygon points="896.59,1604.07 1166.39,1607.48 1166.39,1610.22 896.59,1606.8" fill="#3a3a3a" filter="url(#bl2)" opacity="0.7"/>
<polygon points="822.37,1564.32 830.23,1556.47 849.87,1556.47 855.11,1565.63 855.11,1574.8 822.37,1574.8" fill="#4a4a4a" filter="url(#bl2)"/>
<polygon points="874.75,1641.57 885.22,1641.57 885.22,1661.21 879.98,1666.45 869.51,1670.38 869.51,1665.14 874.75,1659.9" fill="#141414" filter="url(#bl2)"/>
<polygon points="813.21,1621.93 835.47,1621.93 835.47,1641.57 827.61,1641.57 813.21,1627.17" fill="#ffffff" filter="url(#bl2)"/>
<polygon points="807.97,1603.6 813.21,1603.6 813.21,1619.31 807.97,1614.08" fill="#f4f4f4" filter="url(#bl2)"/>
<polygon points="972.26,1517.18 995.82,1515.88 1004.99,1525.04 1012.84,1534.21 1028.55,1551.23 1035.1,1580.03 1028.55,1582.65 1004.99,1564.32 989.28,1561.7 976.18,1545.99 969.64,1530.28" fill="#666666" filter="url(#bl3)"/>
<path d="M972.26 1517.18 L995.82 1515.88 L1004.99 1525.04 L1012.84 1534.21 L1028.55 1551.23 L1035.1 1580.03 L1028.55 1582.65 L1004.99 1564.32 L989.28 1561.7 L976.18 1545.99 L969.64 1530.28 L972.26 1517.18" fill="none" stroke="#1c1c1c" stroke-width="2" stroke-linejoin="round" stroke-linecap="round" filter="url(#bl1)" opacity="0.8"/>
<polygon points="1120.2,1543.37 1133.29,1543.37 1135.91,1582.65 1133.29,1621.92 1120.2,1621.92" fill="#5c5c5c" filter="url(#bl3)"/>
<ellipse cx="1150.31" cy="1517.18" rx="5.24" ry="7.86" fill="#8a8a8a" filter="url(#bl4)"/>
<rect x="770.3" y="1491.3" width="383.7" height="224.5" filter="url(#grain)" opacity="0.08"/>
<clipPath id="mask_h3"><polygon points="813.21,1569.3 830.88,1569.3 830.88,1576.11 837.43,1576.11 837.43,1569.3 855.11,1569.3 855.11,1576.11 862.31,1576.11 862.31,1580.3 874.75,1580.3 874.75,1587.24 881.95,1587.24 881.95,1624.55 874.75,1624.55 874.75,1631.1 881.95,1631.1 881.95,1659.9 874.75,1659.9 874.75,1666.45 868.2,1666.45 868.2,1673 844.63,1673 844.63,1679.54 837.43,1679.54 837.43,1673 830.88,1673 830.88,1642.23 837.43,1642.23 837.43,1635.68 826.96,1635.68 826.96,1631.1 819.75,1631.1 819.75,1617.35 813.21,1617.35"/><polygon points="837.43,1556.47 844.63,1556.47 844.63,1563.01 837.43,1563.01"/><polygon points="995.82,1532.24 1003.02,1532.24 1003.02,1538.79 1010.23,1538.79 1010.23,1532.24 1016.77,1532.24 1016.77,1538.79 1020.7,1538.79 1020.7,1545.33 1027.9,1545.33 1027.9,1580.03 1040.99,1580.03 1040.99,1587.23 1045.57,1587.23 1045.57,1593.12 1052.12,1593.12 1052.12,1618.65 1058.67,1618.65 1058.67,1612.11 1065.21,1612.11 1065.21,1587.23 1069.14,1587.23 1069.14,1569.55 1076.34,1569.55 1076.34,1566.94 1082.89,1566.94 1082.89,1545.33 1089.43,1545.33 1089.43,1538.79 1095.98,1538.79 1095.98,1508.02 1099.91,1508.02 1099.91,1500.82 1124.13,1500.82 1124.13,1508.02 1137.88,1508.02 1137.88,1525.04 1143.77,1525.04 1143.77,1538.79 1137.88,1538.79 1137.88,1549.26 1131.33,1549.26 1131.33,1556.46 1124.13,1556.46 1124.13,1593.12 1131.33,1593.12 1131.33,1604.9 1143.77,1604.9 1143.77,1618 1131.33,1618 1131.33,1642.22 1113.66,1642.22 1113.66,1635.67 1107.11,1635.67 1107.11,1631.09 1113.66,1631.09 1113.66,1618 1095.98,1618 1095.98,1631.09 1089.43,1631.09 1089.43,1642.22 1082.89,1642.22 1082.89,1659.89 1076.34,1659.89 1076.34,1691.31 1052.12,1691.31 1052.12,1697.86 1045.57,1697.86 1045.57,1691.31 1040.99,1691.31 1040.99,1684.11 1020.7,1684.11 1020.7,1680.19 1016.77,1680.19 1016.77,1672.98 1010.23,1672.98 1010.23,1666.44 995.82,1666.44 995.82,1659.89 989.93,1659.89 989.93,1612.11 995.82,1612.11 995.82,1604.9 1010.23,1604.9 1010.23,1593.12 1016.77,1593.12 1016.77,1587.23 1010.23,1587.23 1010.23,1569.55 1003.02,1569.55 1003.02,1563.01 989.93,1563.01 989.93,1556.46 995.82,1556.46"/><polygon points="986,1563.01 989.93,1563.01 989.93,1569.55 986,1569.55"/></clipPath>
<polygon points="813.21,1569.3 830.88,1569.3 830.88,1576.11 837.43,1576.11 837.43,1569.3 855.11,1569.3 855.11,1576.11 862.31,1576.11 862.31,1580.3 874.75,1580.3 874.75,1587.24 881.95,1587.24 881.95,1624.55 874.75,1624.55 874.75,1631.1 881.95,1631.1 881.95,1659.9 874.75,1659.9 874.75,1666.45 868.2,1666.45 868.2,1673 844.63,1673 844.63,1679.54 837.43,1679.54 837.43,1673 830.88,1673 830.88,1642.23 837.43,1642.23 837.43,1635.68 826.96,1635.68 826.96,1631.1 819.75,1631.1 819.75,1617.35 813.21,1617.35" fill="#7a00ff" shape-rendering="crispEdges"/>
<polygon points="837.43,1556.47 844.63,1556.47 844.63,1563.01 837.43,1563.01" fill="#7a00ff" shape-rendering="crispEdges"/>
<polygon points="995.82,1532.24 1003.02,1532.24 1003.02,1538.79 1010.23,1538.79 1010.23,1532.24 1016.77,1532.24 1016.77,1538.79 1020.7,1538.79 1020.7,1545.33 1027.9,1545.33 1027.9,1580.03 1040.99,1580.03 1040.99,1587.23 1045.57,1587.23 1045.57,1593.12 1052.12,1593.12 1052.12,1618.65 1058.67,1618.65 1058.67,1612.11 1065.21,1612.11 1065.21,1587.23 1069.14,1587.23 1069.14,1569.55 1076.34,1569.55 1076.34,1566.94 1082.89,1566.94 1082.89,1545.33 1089.43,1545.33 1089.43,1538.79 1095.98,1538.79 1095.98,1508.02 1099.91,1508.02 1099.91,1500.82 1124.13,1500.82 1124.13,1508.02 1137.88,1508.02 1137.88,1525.04 1143.77,1525.04 1143.77,1538.79 1137.88,1538.79 1137.88,1549.26 1131.33,1549.26 1131.33,1556.46 1124.13,1556.46 1124.13,1593.12 1131.33,1593.12 1131.33,1604.9 1143.77,1604.9 1143.77,1618 1131.33,1618 1131.33,1642.22 1113.66,1642.22 1113.66,1635.67 1107.11,1635.67 1107.11,1631.09 1113.66,1631.09 1113.66,1618 1095.98,1618 1095.98,1631.09 1089.43,1631.09 1089.43,1642.22 1082.89,1642.22 1082.89,1659.89 1076.34,1659.89 1076.34,1691.31 1052.12,1691.31 1052.12,1697.86 1045.57,1697.86 1045.57,1691.31 1040.99,1691.31 1040.99,1684.11 1020.7,1684.11 1020.7,1680.19 1016.77,1680.19 1016.77,1672.98 1010.23,1672.98 1010.23,1666.44 995.82,1666.44 995.82,1659.89 989.93,1659.89 989.93,1612.11 995.82,1612.11 995.82,1604.9 1010.23,1604.9 1010.23,1593.12 1016.77,1593.12 1016.77,1587.23 1010.23,1587.23 1010.23,1569.55 1003.02,1569.55 1003.02,1563.01 989.93,1563.01 989.93,1556.46 995.82,1556.46" fill="#7a00ff" shape-rendering="crispEdges"/>
<polygon points="986,1563.01 989.93,1563.01 989.93,1569.55 986,1569.55" fill="#7a00ff" shape-rendering="crispEdges"/>
<g clip-path="url(#mask_h3)" shape-rendering="crispEdges">
<path d="M1099.2 1497.8h26.4v6.9h-26.4zM1099.2 1510.8h6.9v6.9h-6.9zM1125.2 1510.8h6.9v6.9h-6.9zM1099.2 1517.3h6.9v6.9h-6.9zM1131.7 1517.3h6.9v6.9h-6.9zM1131.7 1523.8h13.4v6.9h-13.4zM995.2 1530.3h6.9v6.9h-6.9zM1008.2 1530.3h6.9v6.9h-6.9zM1131.7 1530.3h6.9v6.9h-6.9zM995.2 1536.8h19.9v6.9h-19.9zM1092.7 1536.8h6.9v6.9h-6.9zM1131.7 1536.8h6.9v6.9h-6.9zM995.2 1543.3h6.9v6.9h-6.9zM1014.7 1543.3h6.9v6.9h-6.9zM1079.7 1543.3h6.9v6.9h-6.9zM1125.2 1543.3h13.4v6.9h-13.4zM1021.2 1549.8h6.9v6.9h-6.9zM1118.7 1549.8h13.4v6.9h-13.4zM839.2 1556.3h6.9v6.9h-6.9zM988.7 1556.3h6.9v6.9h-6.9zM1001.7 1556.3h6.9v6.9h-6.9zM1021.2 1556.3h6.9v6.9h-6.9zM1079.7 1556.3h13.4v6.9h-13.4zM1118.7 1556.3h6.9v6.9h-6.9zM1001.7 1562.8h13.4v6.9h-13.4zM1021.2 1562.8h6.9v6.9h-6.9zM1079.7 1562.8h6.9v6.9h-6.9zM1118.7 1562.8h6.9v6.9h-6.9zM813.2 1569.3h19.9v6.9h-19.9zM839.2 1569.3h13.4v6.9h-13.4zM1014.7 1569.3h6.9v6.9h-6.9zM1066.7 1569.3h19.9v6.9h-19.9zM1118.7 1569.3h6.9v6.9h-6.9zM813.2 1575.8h6.9v6.9h-6.9zM826.2 1575.8h39.4v6.9h-39.4zM1021.2 1575.8h6.9v6.9h-6.9zM1073.2 1575.8h6.9v6.9h-6.9zM1118.7 1575.8h6.9v6.9h-6.9zM813.2 1582.3h6.9v6.9h-6.9zM865.2 1582.3h6.9v6.9h-6.9zM1008.2 1582.3h19.9v6.9h-19.9zM1034.2 1582.3h6.9v6.9h-6.9zM813.2 1588.8h6.9v6.9h-6.9zM871.7 1588.8h13.4v6.9h-13.4zM1014.7 1588.8h13.4v6.9h-13.4zM1034.2 1588.8h13.4v6.9h-13.4zM1118.7 1588.8h6.9v6.9h-6.9zM813.2 1595.3h6.9v6.9h-6.9zM871.7 1595.3h13.4v6.9h-13.4zM1008.2 1595.3h13.4v6.9h-13.4zM1040.7 1595.3h6.9v6.9h-6.9zM1118.7 1595.3h6.9v6.9h-6.9zM813.2 1601.8h6.9v6.9h-6.9zM871.7 1601.8h13.4v6.9h-13.4zM1001.7 1601.8h13.4v6.9h-13.4zM1040.7 1601.8h13.4v6.9h-13.4zM1131.7 1601.8h6.9v6.9h-6.9zM813.2 1608.3h6.9v6.9h-6.9zM871.7 1608.3h13.4v6.9h-13.4zM995.2 1608.3h6.9v6.9h-6.9zM1040.7 1608.3h13.4v6.9h-13.4zM1099.2 1608.3h13.4v6.9h-13.4zM1131.7 1608.3h13.4v6.9h-13.4zM871.7 1614.8h13.4v6.9h-13.4zM988.7 1614.8h13.4v6.9h-13.4zM1040.7 1614.8h13.4v6.9h-13.4zM1060.2 1614.8h13.4v6.9h-13.4zM1086.2 1614.8h13.4v6.9h-13.4zM1112.2 1614.8h19.9v6.9h-19.9zM871.7 1621.3h13.4v6.9h-13.4zM1047.2 1621.3h13.4v6.9h-13.4zM1112.2 1621.3h19.9v6.9h-19.9zM819.7 1627.8h6.9v6.9h-6.9zM865.2 1627.8h6.9v6.9h-6.9zM988.7 1627.8h6.9v6.9h-6.9zM1086.2 1627.8h13.4v6.9h-13.4zM1118.7 1627.8h13.4v6.9h-13.4zM839.2 1634.3h6.9v6.9h-6.9zM871.7 1634.3h13.4v6.9h-13.4zM1079.7 1634.3h6.9v6.9h-6.9zM1118.7 1634.3h13.4v6.9h-13.4zM832.7 1640.8h13.4v6.9h-13.4zM871.7 1640.8h13.4v6.9h-13.4zM1073.2 1640.8h6.9v6.9h-6.9zM832.7 1647.3h6.9v6.9h-6.9zM871.7 1647.3h13.4v6.9h-13.4zM988.7 1647.3h6.9v6.9h-6.9zM1073.2 1647.3h6.9v6.9h-6.9zM832.7 1653.8h6.9v6.9h-6.9zM871.7 1653.8h13.4v6.9h-13.4zM995.2 1653.8h6.9v6.9h-6.9zM1073.2 1653.8h6.9v6.9h-6.9zM832.7 1660.3h6.9v6.9h-6.9zM865.2 1660.3h6.9v6.9h-6.9zM995.2 1660.3h13.4v6.9h-13.4zM1066.7 1660.3h6.9v6.9h-6.9zM832.7 1666.8h32.9v6.9h-32.9zM1008.2 1666.8h6.9v6.9h-6.9zM1066.7 1666.8h6.9v6.9h-6.9zM839.2 1673.3h6.9v6.9h-6.9zM1014.7 1673.3h19.9v6.9h-19.9zM1066.7 1673.3h6.9v6.9h-6.9zM1021.2 1679.8h6.9v6.9h-6.9zM1034.2 1679.8h6.9v6.9h-6.9zM1053.7 1679.8h19.9v6.9h-19.9zM1047.2 1686.3h13.4v6.9h-13.4zM1066.7 1686.3h6.9v6.9h-6.9zM1047.2 1692.8h6.9v6.9h-6.9z" fill="#7a00ff"/>
<path d="M1099.2 1504.3h26.4v6.9h-26.4zM1118.7 1510.8h6.9v6.9h-6.9zM1131.7 1510.8h6.9v6.9h-6.9zM1099.2 1523.8h6.9v6.9h-6.9zM1099.2 1530.3h6.9v6.9h-6.9zM1138.2 1530.3h6.9v6.9h-6.9zM1014.7 1536.8h6.9v6.9h-6.9zM1086.2 1536.8h6.9v6.9h-6.9zM1001.7 1543.3h6.9v6.9h-6.9zM1021.2 1543.3h6.9v6.9h-6.9zM995.2 1549.8h6.9v6.9h-6.9zM1079.7 1549.8h6.9v6.9h-6.9zM995.2 1556.3h6.9v6.9h-6.9zM1021.2 1569.3h6.9v6.9h-6.9zM1008.2 1575.8h13.4v6.9h-13.4zM1027.7 1582.3h6.9v6.9h-6.9zM1073.2 1582.3h6.9v6.9h-6.9zM1118.7 1582.3h6.9v6.9h-6.9zM1047.2 1595.3h6.9v6.9h-6.9zM1125.2 1595.3h6.9v6.9h-6.9zM995.2 1601.8h6.9v6.9h-6.9zM1066.7 1601.8h6.9v6.9h-6.9zM1125.2 1601.8h6.9v6.9h-6.9zM1138.2 1601.8h6.9v6.9h-6.9zM1001.7 1608.3h6.9v6.9h-6.9zM1066.7 1608.3h6.9v6.9h-6.9zM988.7 1621.3h6.9v6.9h-6.9zM1086.2 1621.3h13.4v6.9h-13.4zM1112.2 1627.8h6.9v6.9h-6.9zM1112.2 1634.3h6.9v6.9h-6.9zM988.7 1653.8h6.9v6.9h-6.9zM1008.2 1660.3h6.9v6.9h-6.9zM1014.7 1666.8h6.9v6.9h-6.9zM1034.2 1673.3h6.9v6.9h-6.9zM1027.7 1679.8h6.9v6.9h-6.9zM1040.7 1679.8h6.9v6.9h-6.9zM1040.7 1686.3h6.9v6.9h-6.9zM1060.2 1686.3h6.9v6.9h-6.9z" fill="#5000ff"/>
<path d="M1105.7 1510.8h6.9v6.9h-6.9zM1086.2 1549.8h13.4v6.9h-13.4zM1086.2 1562.8h13.4v6.9h-13.4zM1008.2 1569.3h6.9v6.9h-6.9zM1086.2 1569.3h13.4v6.9h-13.4zM1066.7 1575.8h6.9v6.9h-6.9zM1066.7 1582.3h6.9v6.9h-6.9zM819.7 1588.8h6.9v6.9h-6.9zM839.2 1588.8h6.9v6.9h-6.9zM1066.7 1588.8h13.4v6.9h-13.4zM839.2 1595.3h6.9v6.9h-6.9zM1073.2 1595.3h6.9v6.9h-6.9zM832.7 1601.8h6.9v6.9h-6.9zM852.2 1601.8h13.4v6.9h-13.4zM819.7 1608.3h19.9v6.9h-19.9zM852.2 1608.3h13.4v6.9h-13.4zM819.7 1614.8h19.9v6.9h-19.9zM852.2 1614.8h19.9v6.9h-19.9zM819.7 1621.3h19.9v6.9h-19.9zM852.2 1621.3h19.9v6.9h-19.9zM852.2 1627.8h13.4v6.9h-13.4zM1060.2 1634.3h6.9v6.9h-6.9zM845.7 1640.8h6.9v6.9h-6.9zM1040.7 1640.8h13.4v6.9h-13.4zM1060.2 1640.8h6.9v6.9h-6.9zM839.2 1647.3h26.4v6.9h-26.4zM852.2 1653.8h13.4v6.9h-13.4zM1027.7 1653.8h6.9v6.9h-6.9zM1027.7 1660.3h6.9v6.9h-6.9zM1021.2 1666.8h13.4v6.9h-13.4z" fill="#0078ff"/>
<path d="M1112.2 1510.8h6.9v6.9h-6.9zM1105.7 1523.8h6.9v6.9h-6.9zM1118.7 1523.8h6.9v6.9h-6.9zM1118.7 1530.3h6.9v6.9h-6.9zM1099.2 1536.8h13.4v6.9h-13.4zM1008.2 1543.3h6.9v6.9h-6.9zM1099.2 1543.3h6.9v6.9h-6.9zM1118.7 1543.3h6.9v6.9h-6.9zM1008.2 1549.8h6.9v6.9h-6.9zM1105.7 1549.8h13.4v6.9h-13.4zM1008.2 1556.3h6.9v6.9h-6.9zM1105.7 1556.3h6.9v6.9h-6.9zM1014.7 1562.8h6.9v6.9h-6.9zM1105.7 1562.8h6.9v6.9h-6.9zM1112.2 1569.3h6.9v6.9h-6.9zM819.7 1575.8h6.9v6.9h-6.9zM1079.7 1575.8h13.4v6.9h-13.4zM1099.2 1575.8h6.9v6.9h-6.9zM826.2 1582.3h13.4v6.9h-13.4zM1086.2 1582.3h6.9v6.9h-6.9zM1099.2 1582.3h13.4v6.9h-13.4zM865.2 1588.8h6.9v6.9h-6.9zM1027.7 1588.8h6.9v6.9h-6.9zM1105.7 1588.8h6.9v6.9h-6.9zM1027.7 1595.3h6.9v6.9h-6.9zM1014.7 1601.8h26.4v6.9h-26.4zM1086.2 1601.8h6.9v6.9h-6.9zM1118.7 1601.8h6.9v6.9h-6.9zM1027.7 1608.3h6.9v6.9h-6.9zM1079.7 1608.3h6.9v6.9h-6.9zM1112.2 1608.3h6.9v6.9h-6.9zM1125.2 1608.3h6.9v6.9h-6.9zM1008.2 1614.8h6.9v6.9h-6.9zM1027.7 1614.8h13.4v6.9h-13.4zM1073.2 1614.8h6.9v6.9h-6.9zM1073.2 1621.3h6.9v6.9h-6.9zM1040.7 1627.8h6.9v6.9h-6.9zM1079.7 1627.8h6.9v6.9h-6.9zM845.7 1634.3h13.4v6.9h-13.4zM865.2 1634.3h6.9v6.9h-6.9zM852.2 1640.8h6.9v6.9h-6.9zM1060.2 1647.3h6.9v6.9h-6.9zM865.2 1653.8h6.9v6.9h-6.9zM1034.2 1653.8h6.9v6.9h-6.9zM1047.2 1653.8h19.9v6.9h-19.9zM852.2 1660.3h6.9v6.9h-6.9zM1014.7 1660.3h6.9v6.9h-6.9zM1034.2 1666.8h6.9v6.9h-6.9zM1053.7 1666.8h13.4v6.9h-13.4zM1040.7 1673.3h6.9v6.9h-6.9zM1053.7 1673.3h6.9v6.9h-6.9z" fill="#0030ff"/>
<path d="M1105.7 1517.3h6.9v6.9h-6.9zM1118.7 1517.3h13.4v6.9h-13.4zM1112.2 1523.8h6.9v6.9h-6.9zM1125.2 1523.8h6.9v6.9h-6.9zM1105.7 1530.3h13.4v6.9h-13.4zM1125.2 1530.3h6.9v6.9h-6.9zM1118.7 1536.8h13.4v6.9h-13.4zM1105.7 1543.3h13.4v6.9h-13.4zM1001.7 1549.8h6.9v6.9h-6.9zM1014.7 1549.8h6.9v6.9h-6.9zM1099.2 1549.8h6.9v6.9h-6.9zM1014.7 1556.3h6.9v6.9h-6.9zM1092.7 1556.3h13.4v6.9h-13.4zM1112.2 1556.3h6.9v6.9h-6.9zM1112.2 1562.8h6.9v6.9h-6.9zM1099.2 1569.3h13.4v6.9h-13.4zM1112.2 1575.8h6.9v6.9h-6.9zM839.2 1582.3h6.9v6.9h-6.9zM1092.7 1582.3h6.9v6.9h-6.9zM1112.2 1582.3h6.9v6.9h-6.9zM832.7 1588.8h6.9v6.9h-6.9zM1079.7 1588.8h26.4v6.9h-26.4zM1112.2 1588.8h6.9v6.9h-6.9zM832.7 1595.3h6.9v6.9h-6.9zM1021.2 1595.3h6.9v6.9h-6.9zM1086.2 1595.3h19.9v6.9h-19.9zM826.2 1601.8h6.9v6.9h-6.9zM865.2 1601.8h6.9v6.9h-6.9zM1073.2 1601.8h13.4v6.9h-13.4zM1092.7 1601.8h6.9v6.9h-6.9zM1105.7 1601.8h6.9v6.9h-6.9zM1014.7 1608.3h6.9v6.9h-6.9zM1034.2 1608.3h6.9v6.9h-6.9zM1073.2 1608.3h6.9v6.9h-6.9zM1118.7 1608.3h6.9v6.9h-6.9zM1014.7 1614.8h13.4v6.9h-13.4zM1079.7 1614.8h6.9v6.9h-6.9zM845.7 1621.3h6.9v6.9h-6.9zM1034.2 1621.3h13.4v6.9h-13.4zM1066.7 1621.3h6.9v6.9h-6.9zM1034.2 1627.8h6.9v6.9h-6.9zM1066.7 1627.8h13.4v6.9h-13.4zM1066.7 1634.3h6.9v6.9h-6.9zM858.7 1640.8h13.4v6.9h-13.4zM1034.2 1640.8h6.9v6.9h-6.9zM1053.7 1640.8h6.9v6.9h-6.9zM1066.7 1640.8h6.9v6.9h-6.9zM1040.7 1647.3h6.9v6.9h-6.9zM1053.7 1647.3h6.9v6.9h-6.9zM1066.7 1647.3h6.9v6.9h-6.9zM1066.7 1653.8h6.9v6.9h-6.9zM858.7 1660.3h6.9v6.9h-6.9zM1034.2 1660.3h32.9v6.9h-32.9zM1047.2 1666.8h6.9v6.9h-6.9zM1060.2 1673.3h6.9v6.9h-6.9z" fill="#0000ff"/>
<path d="M1112.2 1517.3h6.9v6.9h-6.9zM1112.2 1536.8h6.9v6.9h-6.9zM1099.2 1562.8h6.9v6.9h-6.9zM1092.7 1575.8h6.9v6.9h-6.9zM1105.7 1575.8h6.9v6.9h-6.9zM819.7 1582.3h6.9v6.9h-6.9zM1079.7 1582.3h6.9v6.9h-6.9zM826.2 1588.8h6.9v6.9h-6.9zM845.7 1588.8h6.9v6.9h-6.9zM819.7 1595.3h13.4v6.9h-13.4zM845.7 1595.3h6.9v6.9h-6.9zM865.2 1595.3h6.9v6.9h-6.9zM1034.2 1595.3h6.9v6.9h-6.9zM1079.7 1595.3h6.9v6.9h-6.9zM1105.7 1595.3h13.4v6.9h-13.4zM819.7 1601.8h6.9v6.9h-6.9zM1099.2 1601.8h6.9v6.9h-6.9zM1112.2 1601.8h6.9v6.9h-6.9zM865.2 1608.3h6.9v6.9h-6.9zM1008.2 1608.3h6.9v6.9h-6.9zM1021.2 1608.3h6.9v6.9h-6.9zM1086.2 1608.3h13.4v6.9h-13.4zM845.7 1614.8h6.9v6.9h-6.9zM1001.7 1614.8h6.9v6.9h-6.9zM1079.7 1621.3h6.9v6.9h-6.9zM1047.2 1627.8h13.4v6.9h-13.4zM858.7 1634.3h6.9v6.9h-6.9zM1073.2 1634.3h6.9v6.9h-6.9zM865.2 1647.3h6.9v6.9h-6.9zM1034.2 1647.3h6.9v6.9h-6.9zM1047.2 1647.3h6.9v6.9h-6.9zM1040.7 1653.8h6.9v6.9h-6.9zM1040.7 1666.8h6.9v6.9h-6.9zM1047.2 1673.3h6.9v6.9h-6.9zM1047.2 1679.8h6.9v6.9h-6.9z" fill="#2000ff"/>
<path d="M1086.2 1543.3h13.4v6.9h-13.4zM845.7 1582.3h19.9v6.9h-19.9zM852.2 1588.8h13.4v6.9h-13.4zM839.2 1601.8h6.9v6.9h-6.9zM839.2 1608.3h6.9v6.9h-6.9zM839.2 1614.8h6.9v6.9h-6.9zM839.2 1621.3h6.9v6.9h-6.9zM995.2 1621.3h6.9v6.9h-6.9zM1021.2 1621.3h13.4v6.9h-13.4zM1060.2 1621.3h6.9v6.9h-6.9zM826.2 1627.8h6.9v6.9h-6.9zM839.2 1627.8h13.4v6.9h-13.4zM995.2 1627.8h6.9v6.9h-6.9zM1021.2 1627.8h13.4v6.9h-13.4zM1060.2 1627.8h6.9v6.9h-6.9zM988.7 1634.3h6.9v6.9h-6.9zM1034.2 1634.3h26.4v6.9h-26.4zM988.7 1640.8h6.9v6.9h-6.9zM839.2 1653.8h13.4v6.9h-13.4zM839.2 1660.3h6.9v6.9h-6.9zM1021.2 1660.3h6.9v6.9h-6.9z" fill="#00d8ff"/>
<path d="M852.2 1595.3h13.4v6.9h-13.4zM1001.7 1621.3h6.9v6.9h-6.9zM1014.7 1621.3h6.9v6.9h-6.9zM832.7 1627.8h6.9v6.9h-6.9zM1001.7 1627.8h6.9v6.9h-6.9zM1014.7 1627.8h6.9v6.9h-6.9zM1027.7 1634.3h6.9v6.9h-6.9zM1027.7 1640.8h6.9v6.9h-6.9zM1027.7 1647.3h6.9v6.9h-6.9zM1001.7 1653.8h6.9v6.9h-6.9zM1014.7 1653.8h13.4v6.9h-13.4zM845.7 1660.3h6.9v6.9h-6.9z" fill="#00f0a0"/>
<path d="M1066.7 1595.3h6.9v6.9h-6.9zM1008.2 1621.3h6.9v6.9h-6.9zM1008.2 1627.8h6.9v6.9h-6.9zM1021.2 1634.3h6.9v6.9h-6.9zM995.2 1647.3h6.9v6.9h-6.9zM1021.2 1647.3h6.9v6.9h-6.9zM1008.2 1653.8h6.9v6.9h-6.9z" fill="#00e020"/>
<path d="M845.7 1601.8h6.9v6.9h-6.9zM845.7 1608.3h6.9v6.9h-6.9zM1021.2 1640.8h6.9v6.9h-6.9z" fill="#a8f000"/>
<path d="M995.2 1634.3h6.9v6.9h-6.9zM1014.7 1647.3h6.9v6.9h-6.9z" fill="#ff8000"/>
<path d="M1001.7 1634.3h13.4v6.9h-13.4zM1001.7 1640.8h19.9v6.9h-19.9zM1001.7 1647.3h13.4v6.9h-13.4z" fill="#ff0000"/>
<path d="M1014.7 1634.3h6.9v6.9h-6.9zM995.2 1640.8h6.9v6.9h-6.9z" fill="#f0f000"/>
</g>
</g>
<clipPath id="clip_h4"><rect x="1163.2" y="1491.3" width="382.6" height="224.5"/></clipPath>
<g clip-path="url(#clip_h4)">
<rect x="1163.2" y="1491.3" width="382.6" height="224.5" fill="#484848"/>
<polygon points="1119.66,1500.49 1354.89,1500.49 1327.57,1571.06 1309.36,1639.36 1354.89,1761.89 1119.66,1761.89" fill="#808080" filter="url(#bl14)"/>
<polygon points="1119.66,1500.49 1277.48,1500.49 1268.38,1571.06 1268.38,1639.36 1295.7,1761.89 1119.66,1761.89" fill="#b4b4b4" filter="url(#bl14)"/>
<ellipse cx="1177.32" cy="1582.44" rx="25.04" ry="27.32" fill="#e4e4e4" filter="url(#bl8)" opacity="0.9"/>
<ellipse cx="1186.42" cy="1536.91" rx="45.53" ry="27.32" fill="#c0c0c0" filter="url(#bl14)" opacity="0.7"/>
<ellipse cx="1202.36" cy="1684.89" rx="59.19" ry="34.15" fill="#c8c8c8" filter="url(#bl14)"/>
<ellipse cx="1295.7" cy="1555.12" rx="15.94" ry="13.66" fill="#5a5a5a" filter="url(#bl8)" opacity="0.7"/>
<ellipse cx="1336.67" cy="1616.59" rx="29.59" ry="56.91" fill="#6e6e6e" filter="url(#bl14)" opacity="0.8"/>
<ellipse cx="1480.09" cy="1691.71" rx="104.72" ry="40.98" fill="#242424" filter="url(#bl14)"/>
<ellipse cx="1457.33" cy="1555.12" rx="68.3" ry="40.98" fill="#3a3a3a" filter="url(#bl14)"/>
<ellipse cx="1391.31" cy="1627.97" rx="27.32" ry="45.53" fill="#444444" filter="url(#bl14)" opacity="0.9"/>
<polygon points="1158.66,1484.11 1553.39,1484.11 1553.39,1505.5 1158.66,1500.03" fill="#0e0e0e" filter="url(#bl1)"/>
<polygon points="1149.66,1499.58 1332.12,1499.58 1332.12,1502.77 1149.66,1502.77" fill="#707070" filter="url(#bl4)" opacity="0.7"/>
<polygon points="1158.66,1605.66 1195.53,1605.66 1195.53,1610.67 1158.66,1610.67" fill="#3c3c3c" filter="url(#bl1)"/>
<polygon points="1155.66,1610.67 1193.25,1610.67 1218.3,1639.36 1206.91,1648.46 1181.87,1625.7 1155.66,1625.7" fill="#767676" filter="url(#bl2)"/>
<polygon points="1268.38,1606.57 1377.65,1608.85 1377.65,1611.13 1268.38,1608.85" fill="#4c4c4c" filter="url(#bl2)" opacity="0.7"/>
<polygon points="1188.14,1609.46 1201.23,1609.46 1201.23,1619.93 1188.14,1619.93" fill="#ffffff" filter="url(#bl2)"/>
<polygon points="1201.88,1632.36 1218.9,1636.29 1218.9,1649.38 1209.74,1648.07 1201.88,1641.52" fill="#141414" filter="url(#bl2)"/>
<polygon points="1263.4,1633.67 1275.18,1636.29 1275.18,1663.77 1264.71,1667.7 1250.31,1674.25 1250.31,1666.39 1263.4,1661.16" fill="#141414" filter="url(#bl2)"/>
<polygon points="1320.99,1692.57 1334.08,1692.57 1351.1,1706.97 1340.63,1709.59" fill="#3a3a3a" filter="url(#bl4)" opacity="0.7"/>
<polygon points="1232.64,1557.1 1240.5,1557.1 1243.77,1576.08 1239.19,1576.08" fill="#3a3a3a" filter="url(#bl2)" opacity="0.9"/>
<path d="M1365.71 1521.76 L1384.04 1521.76 L1384.04 1526.34 L1397.13 1526.34 L1397.13 1532.89 L1403.67 1532.89 L1403.67 1549.91 L1407.6 1549.91 L1407.6 1557.11 L1414.8 1557.11 L1414.8 1570.2 L1422 1570.2 L1422 1576.74 L1428.54 1576.74 L1428.54 1587.87 L1433.13 1587.87 L1433.13 1600.96 L1439.02 1600.96 L1439.02 1612.09 L1433.13 1612.09 L1433.13 1625.18 L1446.22 1625.18 L1446.22 1619.29 L1452.11 1619.29 L1452.11 1612.09 L1457.34 1612.09 L1457.34 1581.33 L1463.89 1581.33 L1463.89 1570.2 L1470.43 1570.2 L1470.43 1557.11 L1476.98 1557.11 L1476.98 1539.44 L1483.53 1539.44 L1483.53 1526.34 L1488.11 1526.34 L1488.11 1515.22 L1494 1515.22 L1494 1508.02 L1512.32 1508.02 L1512.32 1515.22 L1525.42 1515.22 L1525.42 1526.34 L1531.96 1526.34 L1531.96 1549.91 L1525.42 1549.91 L1525.42 1570.2 L1518.87 1570.2 L1518.87 1587.87 L1512.32 1587.87 L1512.32 1606.2 L1518.87 1606.2 L1518.87 1612.09 L1525.42 1612.09 L1525.42 1619.29 L1518.87 1619.29 L1518.87 1631.73 L1508.4 1631.73 L1508.4 1625.18 L1501.2 1625.18 L1501.2 1612.09 L1483.53 1612.09 L1483.53 1619.29 L1476.98 1619.29 L1476.98 1631.73 L1470.43 1631.73 L1470.43 1649.4 L1463.89 1649.4 L1463.89 1655.94 L1457.34 1655.94 L1457.34 1684.74 L1452.11 1684.74 L1452.11 1691.94 L1422 1691.94 L1422 1684.74 L1407.6 1684.74 L1407.6 1680.82 L1403.67 1680.82 L1403.67 1673.62 L1397.13 1673.62 L1397.13 1666.42 L1389.93 1666.42 L1389.93 1659.87 L1384.04 1659.87 L1384.04 1655.94 L1376.84 1655.94 L1376.84 1619.29 L1384.04 1619.29 L1384.04 1606.2 L1389.93 1606.2 L1389.93 1600.96 L1403.67 1600.96 L1403.67 1595.07 L1407.6 1595.07 L1407.6 1587.87 L1403.67 1587.87 L1403.67 1576.74 L1397.13 1576.74 L1397.13 1563 L1376.84 1563 L1376.84 1557.11 L1372.91 1557.11 L1372.91 1545.98 L1365.71 1545.98 L1365.71 1539.44 L1359.16 1539.44 L1359.16 1526.34 L1365.71 1526.34 L1365.71 1521.76" fill="none" stroke="#6e6e6e" stroke-width="5" stroke-linejoin="round" stroke-linecap="round" filter="url(#bl1)" opacity="0.75"/>
<path d="M1365.71 1521.76 L1384.04 1521.76 L1384.04 1526.34 L1397.13 1526.34 L1397.13 1532.89 L1403.67 1532.89 L1403.67 1549.91 L1407.6 1549.91 L1407.6 1557.11 L1414.8 1557.11 L1414.8 1570.2 L1422 1570.2 L1422 1576.74 L1428.54 1576.74 L1428.54 1587.87 L1433.13 1587.87 L1433.13 1600.96 L1439.02 1600.96 L1439.02 1612.09 L1433.13 1612.09 L1433.13 1625.18 L1446.22 1625.18 L1446.22 1619.29 L1452.11 1619.29 L1452.11 1612.09 L1457.34 1612.09 L1457.34 1581.33 L1463.89 1581.33 L1463.89 1570.2 L1470.43 1570.2 L1470.43 1557.11 L1476.98 1557.11 L1476.98 1539.44 L1483.53 1539.44 L1483.53 1526.34 L1488.11 1526.34 L1488.11 1515.22 L1494 1515.22 L1494 1508.02 L1512.32 1508.02 L1512.32 1515.22 L1525.42 1515.22 L1525.42 1526.34 L1531.96 1526.34 L1531.96 1549.91 L1525.42 1549.91 L1525.42 1570.2 L1518.87 1570.2 L1518.87 1587.87 L1512.32 1587.87 L1512.32 1606.2 L1518.87 1606.2 L1518.87 1612.09 L1525.42 1612.09 L1525.42 1619.29 L1518.87 1619.29 L1518.87 1631.73 L1508.4 1631.73 L1508.4 1625.18 L1501.2 1625.18 L1501.2 1612.09 L1483.53 1612.09 L1483.53 1619.29 L1476.98 1619.29 L1476.98 1631.73 L1470.43 1631.73 L1470.43 1649.4 L1463.89 1649.4 L1463.89 1655.94 L1457.34 1655.94 L1457.34 1684.74 L1452.11 1684.74 L1452.11 1691.94 L1422 1691.94 L1422 1684.74 L1407.6 1684.74 L1407.6 1680.82 L1403.67 1680.82 L1403.67 1673.62 L1397.13 1673.62 L1397.13 1666.42 L1389.93 1666.42 L1389.93 1659.87 L1384.04 1659.87 L1384.04 1655.94 L1376.84 1655.94 L1376.84 1619.29 L1384.04 1619.29 L1384.04 1606.2 L1389.93 1606.2 L1389.93 1600.96 L1403.67 1600.96 L1403.67 1595.07 L1407.6 1595.07 L1407.6 1587.87 L1403.67 1587.87 L1403.67 1576.74 L1397.13 1576.74 L1397.13 1563 L1376.84 1563 L1376.84 1557.11 L1372.91 1557.11 L1372.91 1545.98 L1365.71 1545.98 L1365.71 1539.44 L1359.16 1539.44 L1359.16 1526.34 L1365.71 1526.34 L1365.71 1521.76" fill="none" stroke="#222222" stroke-width="1.2" stroke-linejoin="round" stroke-linecap="round" filter="url(#bl2)" opacity="0.5"/>
<ellipse cx="1539.82" cy="1519.8" rx="5.89" ry="9.16" fill="#7c7c7c" filter="url(#bl4)"/>
<rect x="1163.2" y="1491.3" width="382.6" height="224.5" filter="url(#grain)" opacity="0.08"/>
<clipPath id="mask_h4"><polygon points="1218.9,1557.1 1231.99,1557.1 1231.99,1563.64 1239.19,1563.64 1239.19,1576.73 1243.77,1576.73 1243.77,1581.31 1250.31,1581.31 1250.31,1587.86 1257.51,1587.86 1257.51,1595.06 1264.06,1595.06 1264.06,1606.18 1269.95,1606.18 1269.95,1625.16 1264.06,1625.16 1264.06,1632.36 1269.95,1634.98 1269.95,1655.92 1264.06,1655.92 1264.06,1666.39 1250.31,1666.39 1250.31,1673.59 1218.9,1673.59 1218.9,1667.05 1214.97,1667.05 1214.97,1655.92 1218.9,1655.92 1218.9,1636.29 1208.43,1636.29 1208.43,1632.36 1201.88,1632.36 1201.88,1606.18 1195.34,1606.18 1195.34,1595.06 1201.88,1595.06 1201.88,1570.19 1208.43,1570.19 1208.43,1563.64 1218.9,1563.64"/><polygon points="1365.71,1521.76 1384.04,1521.76 1384.04,1526.34 1397.13,1526.34 1397.13,1532.89 1403.67,1532.89 1403.67,1549.91 1407.6,1549.91 1407.6,1557.11 1414.8,1557.11 1414.8,1570.2 1422,1570.2 1422,1576.74 1428.54,1576.74 1428.54,1587.87 1433.13,1587.87 1433.13,1600.96 1439.02,1600.96 1439.02,1612.09 1433.13,1612.09 1433.13,1625.18 1446.22,1625.18 1446.22,1619.29 1452.11,1619.29 1452.11,1612.09 1457.34,1612.09 1457.34,1581.33 1463.89,1581.33 1463.89,1570.2 1470.43,1570.2 1470.43,1557.11 1476.98,1557.11 1476.98,1539.44 1483.53,1539.44 1483.53,1526.34 1488.11,1526.34 1488.11,1515.22 1494,1515.22 1494,1508.02 1512.32,1508.02 1512.32,1515.22 1525.42,1515.22 1525.42,1526.34 1531.96,1526.34 1531.96,1549.91 1525.42,1549.91 1525.42,1570.2 1518.87,1570.2 1518.87,1587.87 1512.32,1587.87 1512.32,1606.2 1518.87,1606.2 1518.87,1612.09 1525.42,1612.09 1525.42,1619.29 1518.87,1619.29 1518.87,1631.73 1508.4,1631.73 1508.4,1625.18 1501.2,1625.18 1501.2,1612.09 1483.53,1612.09 1483.53,1619.29 1476.98,1619.29 1476.98,1631.73 1470.43,1631.73 1470.43,1649.4 1463.89,1649.4 1463.89,1655.94 1457.34,1655.94 1457.34,1684.74 1452.11,1684.74 1452.11,1691.94 1422,1691.94 1422,1684.74 1407.6,1684.74 1407.6,1680.82 1403.67,1680.82 1403.67,1673.62 1397.13,1673.62 1397.13,1666.42 1389.93,1666.42 1389.93,1659.87 1384.04,1659.87 1384.04,1655.94 1376.84,1655.94 1376.84,1619.29 1384.04,1619.29 1384.04,1606.2 1389.93,1606.2 1389.93,1600.96 1403.67,1600.96 1403.67,1595.07 1407.6,1595.07 1407.6,1587.87 1403.67,1587.87 1403.67,1576.74 1397.13,1576.74 1397.13,1563 1376.84,1563 1376.84,1557.11 1372.91,1557.11 1372.91,1545.98 1365.71,1545.98 1365.71,1539.44 1359.16,1539.44 1359.16,1526.34 1365.71,1526.34"/></clipPath>
<polygon points="1218.9,1557.1 1231.99,1557.1 1231.99,1563.64 1239.19,1563.64 1239.19,1576.73 1243.77,1576.73 1243.77,1581.31 1250.31,1581.31 1250.31,1587.86 1257.51,1587.86 1257.51,1595.06 1264.06,1595.06 1264.06,1606.18 1269.95,1606.18 1269.95,1625.16 1264.06,1625.16 1264.06,1632.36 1269.95,1634.98 1269.95,1655.92 1264.06,1655.92 1264.06,1666.39 1250.31,1666.39 1250.31,1673.59 1218.9,1673.59 1218.9,1667.05 1214.97,1667.05 1214.97,1655.92 1218.9,1655.92 1218.9,1636.29 1208.43,1636.29 1208.43,1632.36 1201.88,1632.36 1201.88,1606.18 1195.34,1606.18 1195.34,1595.06 1201.88,1595.06 1201.88,1570.19 1208.43,1570.19 1208.43,1563.64 1218.9,1563.64" fill="#560000" shape-rendering="crispEdges"/>
<polygon points="1365.71,1521.76 1384.04,1521.76 1384.04,1526.34 1397.13,1526.34 1397.13,1532.89 1403.67,1532.89 1403.67,1549.91 1407.6,1549.91 1407.6,1557.11 1414.8,1557.11 1414.8,1570.2 1422,1570.2 1422,1576.74 1428.54,1576.74 1428.54,1587.87 1433.13,1587.87 1433.13,1600.96 1439.02,1600.96 1439.02,1612.09 1433.13,1612.09 1433.13,1625.18 1446.22,1625.18 1446.22,1619.29 1452.11,1619.29 1452.11,1612.09 1457.34,1612.09 1457.34,1581.33 1463.89,1581.33 1463.89,1570.2 1470.43,1570.2 1470.43,1557.11 1476.98,1557.11 1476.98,1539.44 1483.53,1539.44 1483.53,1526.34 1488.11,1526.34 1488.11,1515.22 1494,1515.22 1494,1508.02 1512.32,1508.02 1512.32,1515.22 1525.42,1515.22 1525.42,1526.34 1531.96,1526.34 1531.96,1549.91 1525.42,1549.91 1525.42,1570.2 1518.87,1570.2 1518.87,1587.87 1512.32,1587.87 1512.32,1606.2 1518.87,1606.2 1518.87,1612.09 1525.42,1612.09 1525.42,1619.29 1518.87,1619.29 1518.87,1631.73 1508.4,1631.73 1508.4,1625.18 1501.2,1625.18 1501.2,1612.09 1483.53,1612.09 1483.53,1619.29 1476.98,1619.29 1476.98,1631.73 1470.43,1631.73 1470.43,1649.4 1463.89,1649.4 1463.89,1655.94 1457.34,1655.94 1457.34,1684.74 1452.11,1684.74 1452.11,1691.94 1422,1691.94 1422,1684.74 1407.6,1684.74 1407.6,1680.82 1403.67,1680.82 1403.67,1673.62 1397.13,1673.62 1397.13,1666.42 1389.93,1666.42 1389.93,1659.87 1384.04,1659.87 1384.04,1655.94 1376.84,1655.94 1376.84,1619.29 1384.04,1619.29 1384.04,1606.2 1389.93,1606.2 1389.93,1600.96 1403.67,1600.96 1403.67,1595.07 1407.6,1595.07 1407.6,1587.87 1403.67,1587.87 1403.67,1576.74 1397.13,1576.74 1397.13,1563 1376.84,1563 1376.84,1557.11 1372.91,1557.11 1372.91,1545.98 1365.71,1545.98 1365.71,1539.44 1359.16,1539.44 1359.16,1526.34 1365.71,1526.34" fill="#560000" shape-rendering="crispEdges"/>
<g clip-path="url(#mask_h4)" shape-rendering="crispEdges">
<path d="M1490.9 1506h6.9v6.9h-6.9zM1503.9 1506h6.9v6.9h-6.9zM1490.9 1512.5h32.9v6.9h-32.9zM1373.9 1519h13.4v6.9h-13.4zM1490.9 1519h32.9v6.9h-32.9zM1367.4 1525.5h6.9v6.9h-6.9zM1380.4 1525.5h13.4v6.9h-13.4zM1484.4 1525.5h6.9v6.9h-6.9zM1497.4 1525.5h32.9v6.9h-32.9zM1373.9 1532h6.9v6.9h-6.9zM1399.9 1532h6.9v6.9h-6.9zM1484.4 1532h6.9v6.9h-6.9zM1497.4 1532h19.9v6.9h-19.9zM1523.4 1532h6.9v6.9h-6.9zM1367.4 1538.5h13.4v6.9h-13.4zM1399.9 1538.5h6.9v6.9h-6.9zM1484.4 1538.5h6.9v6.9h-6.9zM1510.4 1538.5h6.9v6.9h-6.9zM1373.9 1545h19.9v6.9h-19.9zM1399.9 1545h6.9v6.9h-6.9zM1516.9 1545h13.4v6.9h-13.4zM1386.9 1551.5h13.4v6.9h-13.4zM1217.9 1558h13.4v6.9h-13.4zM1373.9 1558h6.9v6.9h-6.9zM1406.4 1558h6.9v6.9h-6.9zM1516.9 1558h6.9v6.9h-6.9zM1217.9 1564.5h13.4v6.9h-13.4zM1399.9 1564.5h13.4v6.9h-13.4zM1516.9 1564.5h6.9v6.9h-6.9zM1204.9 1571h32.9v6.9h-32.9zM1399.9 1571h19.9v6.9h-19.9zM1217.9 1577.5h13.4v6.9h-13.4zM1237.4 1577.5h6.9v6.9h-6.9zM1406.4 1577.5h19.9v6.9h-19.9zM1204.9 1584h6.9v6.9h-6.9zM1412.9 1584h13.4v6.9h-13.4zM1458.4 1584h6.9v6.9h-6.9zM1204.9 1590.5h6.9v6.9h-6.9zM1250.4 1590.5h6.9v6.9h-6.9zM1419.4 1590.5h13.4v6.9h-13.4zM1198.4 1597h6.9v6.9h-6.9zM1256.9 1597h6.9v6.9h-6.9zM1412.9 1597h19.9v6.9h-19.9zM1503.9 1597h6.9v6.9h-6.9zM1393.4 1603.5h6.9v6.9h-6.9zM1432.4 1603.5h6.9v6.9h-6.9zM1484.4 1603.5h6.9v6.9h-6.9zM1503.9 1603.5h13.4v6.9h-13.4zM1263.4 1610h6.9v6.9h-6.9zM1451.9 1610h13.4v6.9h-13.4zM1471.4 1610h6.9v6.9h-6.9zM1503.9 1610h13.4v6.9h-13.4zM1263.4 1616.5h6.9v6.9h-6.9zM1373.9 1616.5h6.9v6.9h-6.9zM1445.4 1616.5h6.9v6.9h-6.9zM1458.4 1616.5h19.9v6.9h-19.9zM1510.4 1616.5h6.9v6.9h-6.9zM1464.9 1623h13.4v6.9h-13.4zM1263.4 1636h6.9v6.9h-6.9zM1373.9 1636h6.9v6.9h-6.9zM1464.9 1636h6.9v6.9h-6.9zM1373.9 1642.5h6.9v6.9h-6.9zM1263.4 1649h6.9v6.9h-6.9zM1373.9 1649h6.9v6.9h-6.9zM1386.9 1662h6.9v6.9h-6.9zM1237.4 1668.5h6.9v6.9h-6.9zM1451.9 1668.5h6.9v6.9h-6.9zM1406.4 1675h19.9v6.9h-19.9zM1438.9 1675h19.9v6.9h-19.9zM1419.4 1681.5h32.9v6.9h-32.9zM1419.4 1688h6.9v6.9h-6.9zM1438.9 1688h13.4v6.9h-13.4z" fill="#560000"/>
<path d="M1497.4 1506h6.9v6.9h-6.9zM1367.4 1519h6.9v6.9h-6.9zM1360.9 1525.5h6.9v6.9h-6.9zM1373.9 1525.5h6.9v6.9h-6.9zM1393.4 1525.5h6.9v6.9h-6.9zM1490.9 1525.5h6.9v6.9h-6.9zM1360.9 1532h13.4v6.9h-13.4zM1490.9 1532h6.9v6.9h-6.9zM1516.9 1532h6.9v6.9h-6.9zM1477.9 1538.5h6.9v6.9h-6.9zM1490.9 1538.5h19.9v6.9h-19.9zM1516.9 1538.5h13.4v6.9h-13.4zM1393.4 1545h6.9v6.9h-6.9zM1477.9 1545h6.9v6.9h-6.9zM1373.9 1551.5h13.4v6.9h-13.4zM1399.9 1551.5h6.9v6.9h-6.9zM1516.9 1551.5h6.9v6.9h-6.9zM1380.4 1558h26.4v6.9h-26.4zM1211.4 1564.5h6.9v6.9h-6.9zM1230.9 1564.5h6.9v6.9h-6.9zM1204.9 1577.5h13.4v6.9h-13.4zM1230.9 1577.5h6.9v6.9h-6.9zM1406.4 1584h6.9v6.9h-6.9zM1406.4 1590.5h13.4v6.9h-13.4zM1406.4 1597h6.9v6.9h-6.9zM1263.4 1603.5h6.9v6.9h-6.9zM1386.9 1603.5h6.9v6.9h-6.9zM1490.9 1603.5h13.4v6.9h-13.4zM1464.9 1610h6.9v6.9h-6.9zM1477.9 1610h6.9v6.9h-6.9zM1516.9 1610h6.9v6.9h-6.9zM1451.9 1616.5h6.9v6.9h-6.9zM1503.9 1616.5h6.9v6.9h-6.9zM1204.9 1623h6.9v6.9h-6.9zM1373.9 1623h6.9v6.9h-6.9zM1510.4 1623h6.9v6.9h-6.9zM1373.9 1629.5h6.9v6.9h-6.9zM1464.9 1629.5h6.9v6.9h-6.9zM1263.4 1642.5h6.9v6.9h-6.9zM1464.9 1642.5h6.9v6.9h-6.9zM1256.9 1662h6.9v6.9h-6.9zM1230.9 1668.5h6.9v6.9h-6.9zM1243.9 1668.5h6.9v6.9h-6.9zM1425.9 1675h13.4v6.9h-13.4zM1425.9 1688h13.4v6.9h-13.4z" fill="#600000"/>
<path d="M1380.4 1532h19.9v6.9h-19.9zM1380.4 1538.5h13.4v6.9h-13.4zM1484.4 1545h26.4v6.9h-26.4zM1510.4 1558h6.9v6.9h-6.9zM1464.9 1571h6.9v6.9h-6.9zM1464.9 1577.5h6.9v6.9h-6.9zM1243.9 1584h6.9v6.9h-6.9zM1464.9 1584h6.9v6.9h-6.9zM1503.9 1584h13.4v6.9h-13.4zM1458.4 1590.5h13.4v6.9h-13.4zM1477.9 1590.5h6.9v6.9h-6.9zM1490.9 1590.5h19.9v6.9h-19.9zM1458.4 1597h6.9v6.9h-6.9zM1471.4 1597h19.9v6.9h-19.9zM1399.9 1603.5h6.9v6.9h-6.9zM1412.9 1603.5h6.9v6.9h-6.9zM1425.9 1603.5h6.9v6.9h-6.9zM1458.4 1603.5h13.4v6.9h-13.4zM1477.9 1603.5h6.9v6.9h-6.9zM1386.9 1610h13.4v6.9h-13.4zM1406.4 1610h13.4v6.9h-13.4zM1425.9 1610h6.9v6.9h-6.9zM1380.4 1616.5h19.9v6.9h-19.9zM1432.4 1623h32.9v6.9h-32.9zM1211.4 1629.5h6.9v6.9h-6.9zM1438.9 1629.5h26.4v6.9h-26.4zM1438.9 1636h13.4v6.9h-13.4zM1438.9 1642.5h26.4v6.9h-26.4zM1217.9 1649h6.9v6.9h-6.9zM1256.9 1649h6.9v6.9h-6.9zM1438.9 1649h6.9v6.9h-6.9zM1438.9 1655.5h19.9v6.9h-19.9zM1250.4 1662h6.9v6.9h-6.9zM1393.4 1662h13.4v6.9h-13.4zM1419.4 1662h6.9v6.9h-6.9zM1432.4 1662h6.9v6.9h-6.9zM1445.4 1662h13.4v6.9h-13.4zM1217.9 1668.5h13.4v6.9h-13.4zM1399.9 1668.5h6.9v6.9h-6.9zM1419.4 1668.5h32.9v6.9h-32.9z" fill="#800000"/>
<path d="M1393.4 1538.5h6.9v6.9h-6.9zM1510.4 1545h6.9v6.9h-6.9zM1510.4 1551.5h6.9v6.9h-6.9zM1510.4 1564.5h6.9v6.9h-6.9zM1510.4 1571h6.9v6.9h-6.9zM1510.4 1577.5h6.9v6.9h-6.9zM1471.4 1590.5h6.9v6.9h-6.9zM1484.4 1590.5h6.9v6.9h-6.9zM1464.9 1597h6.9v6.9h-6.9zM1490.9 1597h13.4v6.9h-13.4zM1406.4 1603.5h6.9v6.9h-6.9zM1419.4 1603.5h6.9v6.9h-6.9zM1471.4 1603.5h6.9v6.9h-6.9zM1380.4 1610h6.9v6.9h-6.9zM1399.9 1610h6.9v6.9h-6.9zM1419.4 1610h6.9v6.9h-6.9zM1451.9 1636h13.4v6.9h-13.4zM1445.4 1649h19.9v6.9h-19.9zM1432.4 1655.5h6.9v6.9h-6.9zM1425.9 1662h6.9v6.9h-6.9zM1438.9 1662h6.9v6.9h-6.9zM1406.4 1668.5h13.4v6.9h-13.4z" fill="#700000"/>
<path d="M1477.9 1551.5h6.9v6.9h-6.9zM1477.9 1558h6.9v6.9h-6.9zM1503.9 1558h6.9v6.9h-6.9zM1503.9 1571h6.9v6.9h-6.9zM1386.9 1623h26.4v6.9h-26.4zM1380.4 1629.5h6.9v6.9h-6.9zM1406.4 1629.5h6.9v6.9h-6.9zM1380.4 1636h6.9v6.9h-6.9zM1412.9 1636h13.4v6.9h-13.4zM1419.4 1642.5h6.9v6.9h-6.9zM1380.4 1649h6.9v6.9h-6.9zM1406.4 1649h19.9v6.9h-19.9zM1386.9 1655.5h32.9v6.9h-32.9z" fill="#c40000"/>
<path d="M1484.4 1551.5h6.9v6.9h-6.9zM1497.4 1558h6.9v6.9h-6.9zM1477.9 1564.5h13.4v6.9h-13.4zM1471.4 1577.5h6.9v6.9h-6.9zM1471.4 1584h13.4v6.9h-13.4zM1399.9 1616.5h6.9v6.9h-6.9zM1419.4 1616.5h13.4v6.9h-13.4zM1425.9 1623h6.9v6.9h-6.9zM1432.4 1629.5h6.9v6.9h-6.9zM1425.9 1636h6.9v6.9h-6.9z" fill="#9a0000"/>
<path d="M1490.9 1551.5h13.4v6.9h-13.4zM1471.4 1558h6.9v6.9h-6.9zM1471.4 1564.5h6.9v6.9h-6.9zM1490.9 1564.5h13.4v6.9h-13.4zM1477.9 1571h13.4v6.9h-13.4zM1497.4 1571h6.9v6.9h-6.9zM1484.4 1577.5h19.9v6.9h-19.9zM1217.9 1584h13.4v6.9h-13.4zM1497.4 1584h6.9v6.9h-6.9zM1211.4 1590.5h6.9v6.9h-6.9zM1204.9 1597h13.4v6.9h-13.4zM1204.9 1603.5h6.9v6.9h-6.9zM1406.4 1616.5h13.4v6.9h-13.4zM1380.4 1623h6.9v6.9h-6.9zM1256.9 1629.5h6.9v6.9h-6.9zM1419.4 1629.5h13.4v6.9h-13.4zM1217.9 1636h6.9v6.9h-6.9zM1256.9 1636h6.9v6.9h-6.9zM1432.4 1636h6.9v6.9h-6.9zM1217.9 1642.5h6.9v6.9h-6.9zM1256.9 1642.5h6.9v6.9h-6.9zM1425.9 1642.5h13.4v6.9h-13.4zM1425.9 1649h13.4v6.9h-13.4zM1256.9 1655.5h6.9v6.9h-6.9zM1419.4 1655.5h13.4v6.9h-13.4zM1412.9 1662h6.9v6.9h-6.9z" fill="#a00000"/>
<path d="M1503.9 1551.5h6.9v6.9h-6.9zM1484.4 1558h13.4v6.9h-13.4zM1471.4 1571h6.9v6.9h-6.9zM1490.9 1571h6.9v6.9h-6.9zM1477.9 1577.5h6.9v6.9h-6.9zM1503.9 1577.5h6.9v6.9h-6.9zM1484.4 1584h13.4v6.9h-13.4zM1419.4 1623h6.9v6.9h-6.9zM1406.4 1662h6.9v6.9h-6.9z" fill="#880000"/>
<path d="M1503.9 1564.5h6.9v6.9h-6.9zM1211.4 1584h6.9v6.9h-6.9zM1230.9 1584h13.4v6.9h-13.4zM1204.9 1610h6.9v6.9h-6.9zM1204.9 1616.5h6.9v6.9h-6.9zM1412.9 1623h6.9v6.9h-6.9zM1217.9 1629.5h6.9v6.9h-6.9zM1412.9 1629.5h6.9v6.9h-6.9zM1406.4 1636h6.9v6.9h-6.9zM1380.4 1642.5h6.9v6.9h-6.9zM1406.4 1642.5h13.4v6.9h-13.4zM1250.4 1655.5h6.9v6.9h-6.9zM1243.9 1662h6.9v6.9h-6.9z" fill="#a80000"/>
<path d="M1217.9 1590.5h13.4v6.9h-13.4zM1243.9 1590.5h6.9v6.9h-6.9zM1250.4 1623h6.9v6.9h-6.9z" fill="#ff6000"/>
<path d="M1230.9 1590.5h13.4v6.9h-13.4zM1250.4 1597h6.9v6.9h-6.9zM1217.9 1623h6.9v6.9h-6.9z" fill="#ff8000"/>
<path d="M1217.9 1597h32.9v6.9h-32.9zM1217.9 1603.5h32.9v6.9h-32.9zM1217.9 1610h32.9v6.9h-32.9zM1224.4 1616.5h26.4v6.9h-26.4z" fill="#ffff00"/>
<path d="M1211.4 1603.5h6.9v6.9h-6.9zM1256.9 1603.5h6.9v6.9h-6.9zM1256.9 1610h6.9v6.9h-6.9zM1211.4 1616.5h6.9v6.9h-6.9zM1256.9 1616.5h6.9v6.9h-6.9zM1224.4 1629.5h6.9v6.9h-6.9zM1243.9 1629.5h13.4v6.9h-13.4zM1386.9 1629.5h6.9v6.9h-6.9zM1230.9 1636h6.9v6.9h-6.9zM1243.9 1636h6.9v6.9h-6.9zM1224.4 1642.5h13.4v6.9h-13.4zM1243.9 1642.5h13.4v6.9h-13.4zM1224.4 1649h6.9v6.9h-6.9zM1243.9 1649h13.4v6.9h-13.4zM1386.9 1649h13.4v6.9h-13.4zM1224.4 1655.5h6.9v6.9h-6.9zM1217.9 1662h6.9v6.9h-6.9zM1230.9 1662h13.4v6.9h-13.4z" fill="#e80000"/>
<path d="M1250.4 1603.5h6.9v6.9h-6.9zM1217.9 1616.5h6.9v6.9h-6.9zM1250.4 1616.5h6.9v6.9h-6.9zM1224.4 1623h6.9v6.9h-6.9zM1243.9 1623h6.9v6.9h-6.9z" fill="#ffb000"/>
<path d="M1211.4 1610h6.9v6.9h-6.9zM1237.4 1629.5h6.9v6.9h-6.9zM1224.4 1636h6.9v6.9h-6.9zM1237.4 1642.5h6.9v6.9h-6.9zM1230.9 1649h13.4v6.9h-13.4zM1237.4 1655.5h13.4v6.9h-13.4zM1224.4 1662h6.9v6.9h-6.9z" fill="#e00000"/>
<path d="M1250.4 1610h6.9v6.9h-6.9zM1230.9 1623h13.4v6.9h-13.4z" fill="#ffc800"/>
<path d="M1211.4 1623h6.9v6.9h-6.9zM1256.9 1623h6.9v6.9h-6.9zM1230.9 1629.5h6.9v6.9h-6.9zM1393.4 1629.5h13.4v6.9h-13.4zM1237.4 1636h6.9v6.9h-6.9zM1250.4 1636h6.9v6.9h-6.9zM1386.9 1636h19.9v6.9h-19.9zM1386.9 1642.5h19.9v6.9h-19.9zM1399.9 1649h6.9v6.9h-6.9zM1217.9 1655.5h6.9v6.9h-6.9zM1230.9 1655.5h6.9v6.9h-6.9z" fill="#ff1408"/>
</g>
</g>
</g>
</svg>
</body>
</html>
